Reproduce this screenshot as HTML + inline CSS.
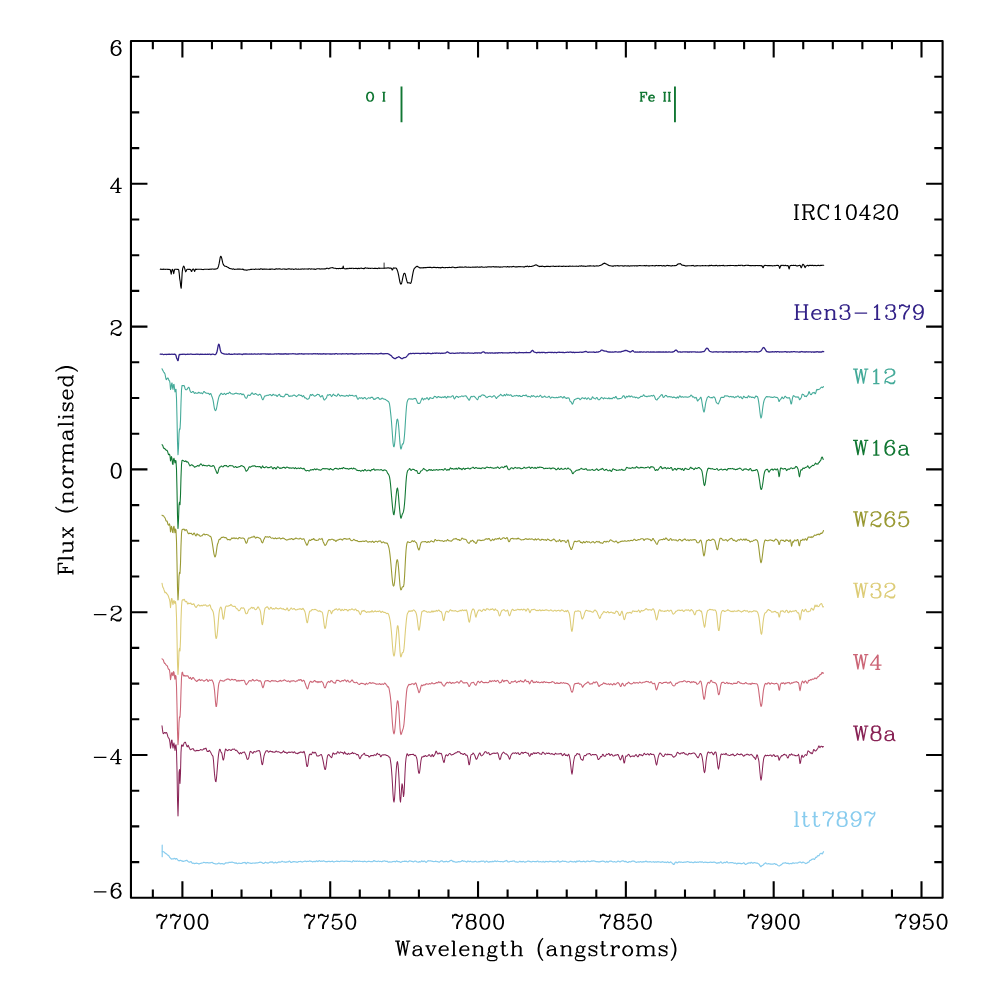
<!DOCTYPE html>
<html><head><meta charset="utf-8"><title>Spectra</title>
<style>html,body{margin:0;padding:0;background:#fff;font-family:"Liberation Sans",sans-serif}svg{display:block}</style></head>
<body>
<svg width="981" height="981" viewBox="0 0 981 981">
<rect width="981" height="981" fill="#fff"/>
<path d="M160.2 269.2L160.7 269.1L161.2 269.4L161.7 269.3L162.2 269.3L162.7 269.4L163.2 269.4L163.7 269.1L164.2 269.2L164.7 269.3L165.2 269.5L165.7 269.3L166.2 269.3L166.7 269.2L167.2 269.3L167.7 269.4L168.2 269.2L168.7 269.5L169.2 269.5L169.7 269.4L170.2 269.6L170.7 271.5L171.2 274.2L171.7 271.4L172.2 269.4L172.7 269.5L173.2 271.2L173.7 273.6L174.2 271.1L174.7 269.3L175.2 269.2L175.7 269.2L176.2 269.2L176.7 269.3L177.2 269.5L177.7 269.4L178.2 269.3L178.7 269.8L179.2 273.3L179.7 278.6L180.2 281.3L180.7 286.1L181.2 288.3L181.7 281.0L182.2 272.3L182.7 268.4L183.2 266.8L183.7 266.2L184.2 266.9L184.7 268.4L185.2 270.4L185.7 271.8L186.2 270.9L186.7 269.8L187.2 269.4L187.7 269.3L188.2 269.2L188.7 269.4L189.2 269.4L189.7 269.4L190.2 269.4L190.7 269.7L191.2 271.1L191.7 271.5L192.2 270.1L192.7 269.2L193.2 269.0L193.7 269.3L194.2 270.5L194.7 271.4L195.2 269.9L195.7 269.1L196.2 269.2L196.7 269.4L197.2 269.3L197.7 269.3L198.2 269.2L198.7 269.2L199.2 269.3L199.7 269.3L200.2 269.3L200.7 269.3L201.2 269.3L201.7 269.4L202.2 269.5L202.7 269.5L203.2 269.6L203.7 269.4L204.2 269.2L204.7 269.2L205.2 269.3L205.7 269.3L206.2 269.3L206.7 269.2L207.2 269.2L207.7 269.3L208.2 269.3L208.7 269.5L209.2 269.4L209.7 269.3L210.2 269.1L210.7 269.2L211.2 269.3L211.7 269.1L212.2 269.0L212.7 269.0L213.2 269.0L213.7 269.2L214.2 269.3L214.7 269.1L215.2 269.1L215.7 269.0L216.2 268.9L216.7 268.7L217.2 268.7L217.7 268.2L218.2 267.0L218.7 265.4L219.2 263.2L219.7 260.4L220.2 257.5L220.7 256.3L221.2 256.7L221.7 258.1L222.2 260.3L222.7 262.7L223.2 264.3L223.7 265.2L224.2 265.7L224.7 266.2L225.2 266.3L225.7 266.3L226.2 266.5L226.7 266.6L227.2 267.0L227.7 267.2L228.2 267.4L228.7 267.8L229.2 268.2L229.7 268.4L230.2 268.5L230.7 268.7L231.2 268.8L231.7 268.9L232.2 269.1L232.7 269.1L233.2 269.0L233.7 268.9L234.2 269.3L234.7 269.5L235.2 269.3L235.7 269.2L236.2 269.2L236.7 269.2L237.2 269.1L237.7 269.0L238.2 269.1L238.7 269.0L239.2 269.1L239.7 269.1L240.2 269.1L240.7 269.2L241.2 269.2L241.7 269.3L242.2 269.4L242.7 269.1L243.2 269.3L243.7 269.7L244.2 270.0L244.7 269.9L245.2 269.9L245.7 270.1L246.2 270.3L246.7 270.1L247.2 270.1L247.7 269.9L248.2 269.7L248.7 269.7L249.2 269.7L249.7 269.7L250.2 269.5L250.7 269.4L251.2 269.4L251.7 269.4L252.2 269.3L252.7 269.3L253.2 269.3L253.7 269.3L254.2 269.4L254.7 269.4L255.2 269.2L255.7 268.9L256.2 269.1L256.7 269.2L257.2 269.3L257.7 269.2L258.2 269.1L258.7 269.2L259.2 269.2L259.7 269.4L260.2 269.1L260.7 268.8L261.2 268.9L261.7 269.0L262.2 269.1L262.7 269.4L263.2 269.2L263.7 269.0L264.2 269.3L264.7 269.1L265.2 269.0L265.7 269.2L266.2 269.2L266.7 269.1L267.2 269.3L267.7 269.2L268.2 269.3L268.7 269.3L269.2 269.4L269.7 269.1L270.2 269.1L270.7 269.4L271.2 269.1L271.7 269.0L272.2 269.0L272.7 269.1L273.2 269.2L273.7 269.2L274.2 269.3L274.7 269.5L275.2 269.2L275.7 268.9L276.2 268.9L276.7 268.9L277.2 268.9L277.7 269.1L278.2 269.0L278.7 268.9L279.2 268.9L279.7 268.8L280.2 268.9L280.7 269.1L281.2 269.2L281.7 269.2L282.2 269.3L282.7 269.0L283.2 269.0L283.7 269.0L284.2 268.9L284.7 269.3L285.2 269.2L285.7 269.1L286.2 269.4L286.7 269.3L287.2 269.1L287.7 269.0L288.2 268.9L288.7 268.8L289.2 269.0L289.7 268.9L290.2 269.0L290.7 269.2L291.2 269.1L291.7 269.1L292.2 269.0L292.7 269.0L293.2 269.2L293.7 269.4L294.2 269.3L294.7 269.2L295.2 269.0L295.7 268.9L296.2 268.9L296.7 269.2L297.2 269.2L297.7 269.3L298.2 269.1L298.7 269.1L299.2 269.2L299.7 269.3L300.2 269.2L300.7 269.1L301.2 269.1L301.7 269.1L302.2 268.9L302.7 269.0L303.2 269.0L303.7 269.1L304.2 269.1L304.7 268.9L305.2 269.0L305.7 269.0L306.2 269.0L306.7 269.0L307.2 268.9L307.7 269.1L308.2 269.2L308.7 268.8L309.2 268.7L309.7 268.8L310.2 269.0L310.7 269.2L311.2 269.0L311.7 268.9L312.2 269.0L312.7 269.0L313.2 269.0L313.7 269.1L314.2 269.1L314.7 269.1L315.2 269.4L315.7 269.2L316.2 269.1L316.7 268.9L317.2 268.8L317.7 268.8L318.2 268.8L318.7 268.8L319.2 268.9L319.7 268.8L320.2 269.0L320.7 269.1L321.2 268.9L321.7 269.0L322.2 268.9L322.7 269.0L323.2 269.0L323.7 268.9L324.2 268.7L324.7 268.9L325.2 269.0L325.7 268.7L326.2 268.4L326.7 268.4L327.2 268.3L327.7 268.3L328.2 268.6L328.7 268.7L329.2 268.4L329.7 268.3L330.2 268.1L330.7 267.9L331.2 267.8L331.7 267.7L332.2 267.7L332.7 267.6L333.2 267.9L333.7 268.1L334.2 268.2L334.7 268.3L335.2 268.3L335.7 268.4L336.2 268.6L336.7 268.6L337.2 268.5L337.7 268.5L338.2 268.6L338.7 268.6L339.2 268.4L339.7 268.5L340.2 268.5L340.7 268.6L341.2 268.5L341.7 268.2L342.2 268.5L342.7 268.4L343.2 266.0L343.7 268.3L344.2 268.6L344.7 268.7L345.2 268.8L345.7 268.9L346.2 268.9L346.7 268.5L347.2 268.4L347.7 268.7L348.2 268.8L348.7 268.6L349.2 268.3L349.7 268.4L350.2 268.5L350.7 268.4L351.2 268.4L351.7 268.4L352.2 268.3L352.7 268.3L353.2 268.3L353.7 268.6L354.2 268.5L354.7 268.5L355.2 268.4L355.7 268.5L356.2 268.3L356.7 268.5L357.2 268.6L357.7 268.7L358.2 268.3L358.7 268.3L359.2 268.5L359.7 268.6L360.2 268.3L360.7 268.2L361.2 268.0L361.7 268.2L362.2 268.5L362.7 268.5L363.2 268.4L363.7 268.7L364.2 268.6L364.7 268.2L365.2 267.8L365.7 267.8L366.2 268.1L366.7 268.3L367.2 268.2L367.7 268.0L368.2 268.2L368.7 268.5L369.2 268.3L369.7 268.3L370.2 268.5L370.7 268.4L371.2 268.3L371.7 268.3L372.2 268.3L372.7 268.3L373.2 268.5L373.7 268.5L374.2 268.4L374.7 268.3L375.2 268.4L375.7 268.3L376.2 268.4L376.7 268.5L377.2 268.5L377.7 268.6L378.2 268.3L378.7 268.0L379.2 268.1L379.7 268.4L380.2 268.3L380.7 268.3L381.2 268.2L381.7 268.3L382.2 268.2L382.7 268.3L383.2 268.2L383.7 268.2L384.2 268.2L384.7 268.1L385.2 268.2L385.7 268.0L386.2 268.0L386.7 268.1L387.2 268.0L387.7 267.9L388.2 267.9L388.7 267.9L389.2 268.1L389.7 268.1L390.2 268.1L390.7 268.0L391.2 268.2L391.7 268.8L392.2 270.0L392.7 269.5L393.2 268.3L393.7 267.9L394.2 268.0L394.7 268.2L395.2 268.0L395.7 268.0L396.2 268.2L396.7 268.9L397.2 270.0L397.7 271.4L398.2 273.4L398.7 275.7L399.2 278.3L399.7 281.0L400.2 283.1L400.7 284.1L401.2 284.0L401.7 282.9L402.2 280.7L402.7 278.1L403.2 275.8L403.7 274.1L404.2 273.2L404.7 273.2L405.2 274.1L405.7 276.1L406.2 278.5L406.7 280.3L407.2 282.0L407.7 283.0L408.2 282.9L408.7 282.8L409.2 282.7L409.7 282.9L410.2 283.4L410.7 283.3L411.2 282.2L411.7 280.2L412.2 277.2L412.7 274.4L413.2 271.9L413.7 269.9L414.2 268.7L414.7 268.0L415.2 267.7L415.7 267.1L416.2 266.7L416.7 266.4L417.2 266.3L417.7 266.6L418.2 267.0L418.7 267.1L419.2 267.5L419.7 267.9L420.2 267.9L420.7 267.9L421.2 267.9L421.7 267.7L422.2 267.8L422.7 267.9L423.2 267.9L423.7 267.6L424.2 267.6L424.7 267.7L425.2 267.6L425.7 267.6L426.2 267.7L426.7 267.5L427.2 267.4L427.7 267.5L428.2 267.5L428.7 267.4L429.2 267.3L429.7 267.5L430.2 267.2L430.7 267.2L431.2 267.5L431.7 267.8L432.2 267.7L432.7 267.5L433.2 267.4L433.7 267.4L434.2 267.5L434.7 267.3L435.2 267.4L435.7 267.6L436.2 267.6L436.7 267.6L437.2 267.4L437.7 267.5L438.2 267.6L438.7 267.6L439.2 267.7L439.7 267.6L440.2 267.5L440.7 268.0L441.2 267.8L441.7 267.5L442.2 267.3L442.7 267.4L443.2 267.5L443.7 267.6L444.2 267.7L444.7 267.8L445.2 267.6L445.7 267.6L446.2 267.5L446.7 267.5L447.2 267.5L447.7 267.6L448.2 267.6L448.7 267.4L449.2 267.2L449.7 267.4L450.2 267.5L450.7 267.5L451.2 267.6L451.7 267.3L452.2 267.2L452.7 267.0L453.2 267.2L453.7 267.3L454.2 267.5L454.7 267.6L455.2 267.6L455.7 267.7L456.2 267.6L456.7 267.5L457.2 267.4L457.7 267.5L458.2 267.2L458.7 267.3L459.2 267.1L459.7 267.1L460.2 267.0L460.7 267.1L461.2 267.2L461.7 267.1L462.2 267.0L462.7 267.3L463.2 267.3L463.7 267.3L464.2 267.2L464.7 267.0L465.2 266.8L465.7 267.0L466.2 267.2L466.7 267.1L467.2 267.2L467.7 267.2L468.2 267.2L468.7 267.1L469.2 267.3L469.7 267.3L470.2 267.4L470.7 267.3L471.2 267.3L471.7 267.3L472.2 267.3L472.7 267.1L473.2 267.1L473.7 267.3L474.2 267.2L474.7 267.1L475.2 267.1L475.7 267.1L476.2 267.0L476.7 267.1L477.2 266.9L477.7 267.0L478.2 267.2L478.7 267.2L479.2 267.0L479.7 267.1L480.2 267.0L480.7 267.1L481.2 266.9L481.7 266.9L482.2 267.0L482.7 267.1L483.2 267.3L483.7 267.3L484.2 267.3L484.7 267.2L485.2 267.0L485.7 267.0L486.2 267.2L486.7 267.1L487.2 267.0L487.7 266.9L488.2 266.9L488.7 266.7L489.2 266.8L489.7 266.9L490.2 267.0L490.7 266.9L491.2 266.9L491.7 267.0L492.2 266.8L492.7 266.7L493.2 266.6L493.7 266.8L494.2 267.0L494.7 266.9L495.2 266.8L495.7 266.9L496.2 266.9L496.7 266.9L497.2 266.9L497.7 267.0L498.2 267.0L498.7 266.8L499.2 266.8L499.7 267.3L500.2 267.3L500.7 266.9L501.2 267.0L501.7 267.0L502.2 267.1L502.7 266.9L503.2 266.7L503.7 266.8L504.2 266.8L504.7 266.8L505.2 266.8L505.7 266.8L506.2 267.0L506.7 267.0L507.2 266.6L507.7 266.6L508.2 266.7L508.7 266.9L509.2 266.9L509.7 266.9L510.2 266.8L510.7 266.7L511.2 266.7L511.7 266.9L512.2 266.8L512.7 266.6L513.2 266.5L513.7 266.4L514.2 266.7L514.7 266.8L515.2 266.9L515.7 267.0L516.2 266.8L516.7 266.9L517.2 266.9L517.7 266.7L518.2 266.6L518.7 266.8L519.2 266.7L519.7 266.6L520.2 266.6L520.7 266.7L521.2 266.7L521.7 266.7L522.2 266.7L522.7 266.8L523.2 266.9L523.7 266.9L524.2 267.1L524.7 266.7L525.2 266.4L525.7 266.5L526.2 266.6L526.7 266.4L527.2 266.1L527.7 266.3L528.2 266.6L528.7 266.7L529.2 266.4L529.7 266.4L530.2 266.5L530.7 266.5L531.2 266.5L531.7 266.4L532.2 266.3L532.7 266.0L533.2 266.0L533.7 265.7L534.2 265.5L534.7 265.2L535.2 265.1L535.7 264.9L536.2 264.9L536.7 265.1L537.2 265.4L537.7 265.8L538.2 266.1L538.7 266.0L539.2 266.2L539.7 266.6L540.2 266.5L540.7 266.2L541.2 266.4L541.7 266.4L542.2 266.1L542.7 266.2L543.2 266.4L543.7 266.5L544.2 266.6L544.7 266.5L545.2 266.6L545.7 266.5L546.2 266.3L546.7 266.4L547.2 266.4L547.7 266.3L548.2 266.5L548.7 266.4L549.2 266.4L549.7 266.6L550.2 266.6L550.7 266.2L551.2 266.2L551.7 266.3L552.2 266.3L552.7 266.3L553.2 266.1L553.7 266.3L554.2 266.4L554.7 266.5L555.2 266.5L555.7 266.3L556.2 266.4L556.7 266.3L557.2 266.3L557.7 266.3L558.2 266.4L558.7 266.4L559.2 266.1L559.7 266.2L560.2 266.3L560.7 266.2L561.2 266.2L561.7 266.5L562.2 266.4L562.7 266.5L563.2 266.2L563.7 266.1L564.2 266.2L564.7 266.3L565.2 266.5L565.7 266.4L566.2 266.4L566.7 266.3L567.2 266.2L567.7 266.3L568.2 266.4L568.7 266.4L569.2 266.3L569.7 266.1L570.2 266.1L570.7 266.2L571.2 266.3L571.7 266.3L572.2 266.2L572.7 266.1L573.2 266.2L573.7 266.2L574.2 266.2L574.7 266.2L575.2 266.2L575.7 266.2L576.2 266.1L576.7 266.2L577.2 266.2L577.7 266.3L578.2 266.4L578.7 266.3L579.2 266.1L579.7 265.9L580.2 266.1L580.7 266.3L581.2 265.9L581.7 265.8L582.2 266.0L582.7 266.2L583.2 266.1L583.7 266.0L584.2 266.1L584.7 266.2L585.2 266.2L585.7 266.4L586.2 266.3L586.7 266.2L587.2 266.1L587.7 266.0L588.2 265.9L588.7 266.1L589.2 266.1L589.7 265.8L590.2 265.9L590.7 265.9L591.2 266.0L591.7 266.0L592.2 266.0L592.7 266.0L593.2 266.0L593.7 265.8L594.2 266.2L594.7 266.2L595.2 266.0L595.7 266.0L596.2 266.0L596.7 265.8L597.2 265.9L597.7 266.0L598.2 266.0L598.7 266.0L599.2 265.8L599.7 265.6L600.2 265.4L600.7 265.2L601.2 265.0L601.7 264.9L602.2 264.5L602.7 264.0L603.2 263.9L603.7 263.5L604.2 263.1L604.7 263.4L605.2 263.4L605.7 263.7L606.2 263.9L606.7 264.1L607.2 264.6L607.7 264.7L608.2 265.0L608.7 265.4L609.2 265.6L609.7 265.8L610.2 265.7L610.7 265.7L611.2 266.0L611.7 266.0L612.2 266.1L612.7 266.0L613.2 266.1L613.7 266.1L614.2 265.8L614.7 265.8L615.2 265.9L615.7 265.9L616.2 265.8L616.7 265.8L617.2 265.7L617.7 265.6L618.2 265.9L618.7 265.9L619.2 266.0L619.7 265.9L620.2 265.7L620.7 265.7L621.2 265.7L621.7 265.7L622.2 265.8L622.7 265.9L623.2 266.2L623.7 266.0L624.2 265.8L624.7 265.9L625.2 265.8L625.7 265.7L626.2 265.9L626.7 266.0L627.2 266.0L627.7 265.8L628.2 265.9L628.7 265.9L629.2 266.0L629.7 266.2L630.2 265.9L630.7 265.7L631.2 265.8L631.7 266.0L632.2 265.9L632.7 265.7L633.2 265.7L633.7 265.8L634.2 265.9L634.7 265.9L635.2 265.7L635.7 265.8L636.2 265.9L636.7 265.9L637.2 265.9L637.7 265.9L638.2 265.8L638.7 265.8L639.2 265.6L639.7 265.5L640.2 265.5L640.7 265.7L641.2 265.7L641.7 265.7L642.2 265.7L642.7 265.7L643.2 265.8L643.7 265.8L644.2 265.6L644.7 265.5L645.2 265.9L645.7 265.7L646.2 265.4L646.7 265.7L647.2 265.8L647.7 265.8L648.2 265.9L648.7 265.8L649.2 265.9L649.7 265.9L650.2 265.8L650.7 265.8L651.2 265.8L651.7 265.8L652.2 265.6L652.7 265.6L653.2 265.7L653.7 265.7L654.2 265.7L654.7 265.9L655.2 265.9L655.7 265.6L656.2 265.4L656.7 265.6L657.2 265.8L657.7 265.7L658.2 265.6L658.7 265.5L659.2 265.7L659.7 265.6L660.2 265.5L660.7 265.5L661.2 265.6L661.7 265.8L662.2 265.9L662.7 266.0L663.2 265.8L663.7 265.6L664.2 265.6L664.7 266.0L665.2 266.1L665.7 265.9L666.2 265.8L666.7 265.5L667.2 265.4L667.7 265.5L668.2 265.6L668.7 265.6L669.2 265.6L669.7 265.7L670.2 265.8L670.7 266.0L671.2 265.9L671.7 266.0L672.2 265.8L672.7 265.6L673.2 265.7L673.7 265.7L674.2 265.8L674.7 265.6L675.2 265.7L675.7 265.5L676.2 265.5L676.7 265.0L677.2 264.7L677.7 264.3L678.2 263.9L678.7 264.0L679.2 263.9L679.7 263.7L680.2 263.6L680.7 263.9L681.2 264.5L681.7 264.9L682.2 265.2L682.7 265.1L683.2 265.2L683.7 265.4L684.2 265.4L684.7 265.6L685.2 265.9L685.7 266.0L686.2 265.9L686.7 266.0L687.2 265.9L687.7 265.8L688.2 265.7L688.7 265.8L689.2 265.7L689.7 265.7L690.2 265.7L690.7 265.7L691.2 265.7L691.7 265.5L692.2 265.6L692.7 265.5L693.2 265.4L693.7 265.7L694.2 266.0L694.7 266.1L695.2 265.9L695.7 265.7L696.2 265.9L696.7 265.8L697.2 265.5L697.7 265.7L698.2 265.8L698.7 265.7L699.2 265.7L699.7 265.7L700.2 265.9L700.7 265.7L701.2 265.7L701.7 265.7L702.2 265.6L702.7 265.5L703.2 265.8L703.7 265.8L704.2 265.7L704.7 265.7L705.2 265.6L705.7 265.6L706.2 265.7L706.7 265.7L707.2 265.8L707.7 265.7L708.2 265.7L708.7 265.9L709.2 265.5L709.7 265.4L710.2 265.7L710.7 265.5L711.2 265.3L711.7 265.4L712.2 265.5L712.7 265.7L713.2 265.6L713.7 265.7L714.2 265.7L714.7 265.6L715.2 265.6L715.7 265.6L716.2 265.3L716.7 265.5L717.2 265.7L717.7 265.9L718.2 265.8L718.7 265.8L719.2 265.4L719.7 265.7L720.2 265.7L720.7 265.6L721.2 265.5L721.7 265.5L722.2 265.6L722.7 265.5L723.2 265.3L723.7 265.6L724.2 265.9L724.7 265.8L725.2 265.7L725.7 265.7L726.2 265.7L726.7 265.7L727.2 265.6L727.7 265.7L728.2 265.5L728.7 265.5L729.2 265.6L729.7 265.5L730.2 265.4L730.7 265.6L731.2 265.5L731.7 265.5L732.2 265.5L732.7 265.5L733.2 265.5L733.7 265.5L734.2 265.7L734.7 265.8L735.2 265.6L735.7 265.6L736.2 265.5L736.7 265.6L737.2 265.7L737.7 265.6L738.2 265.4L738.7 265.3L739.2 265.4L739.7 265.5L740.2 265.6L740.7 265.3L741.2 265.3L741.7 265.3L742.2 265.3L742.7 265.7L743.2 265.7L743.7 265.8L744.2 265.5L744.7 265.7L745.2 265.5L745.7 265.4L746.2 265.3L746.7 265.2L747.2 265.3L747.7 265.4L748.2 265.3L748.7 265.4L749.2 265.5L749.7 265.6L750.2 265.6L750.7 265.6L751.2 265.7L751.7 265.6L752.2 265.6L752.7 265.5L753.2 265.5L753.7 265.8L754.2 265.7L754.7 265.6L755.2 265.8L755.7 265.6L756.2 265.5L756.7 265.5L757.2 265.6L757.7 265.5L758.2 265.5L758.7 265.7L759.2 265.6L759.7 265.5L760.2 265.5L760.7 265.8L761.2 265.9L761.7 265.6L762.2 266.0L762.7 267.3L763.2 267.7L763.7 266.4L764.2 265.6L764.7 265.4L765.2 265.4L765.7 265.5L766.2 265.5L766.7 265.5L767.2 265.7L767.7 265.6L768.2 265.5L768.7 265.6L769.2 265.6L769.7 265.6L770.2 265.7L770.7 265.6L771.2 265.6L771.7 265.7L772.2 265.7L772.7 266.0L773.2 265.8L773.7 265.7L774.2 265.8L774.7 265.6L775.2 265.7L775.7 265.6L776.2 265.4L776.7 265.5L777.2 265.5L777.7 265.3L778.2 265.5L778.7 265.6L779.2 266.9L779.7 268.4L780.2 267.0L780.7 265.7L781.2 265.3L781.7 265.6L782.2 265.5L782.7 265.3L783.2 265.3L783.7 265.6L784.2 265.7L784.7 265.5L785.2 265.3L785.7 265.4L786.2 265.7L786.7 265.8L787.2 265.6L787.7 265.6L788.2 265.8L788.7 267.7L789.2 269.0L789.7 266.7L790.2 265.6L790.7 265.5L791.2 265.5L791.7 265.4L792.2 265.5L792.7 265.5L793.2 265.4L793.7 265.4L794.2 265.5L794.7 265.5L795.2 265.4L795.7 265.4L796.2 265.8L796.7 265.9L797.2 265.9L797.7 265.9L798.2 265.7L798.7 265.5L799.2 265.5L799.7 265.2L800.2 265.4L800.7 266.7L801.2 267.8L801.7 266.9L802.2 265.5L802.7 264.4L803.2 264.3L803.7 264.8L804.2 265.6L804.7 267.0L805.2 267.6L805.7 266.5L806.2 265.8L806.7 265.7L807.2 265.5L807.7 265.2L808.2 265.7L808.7 265.9L809.2 265.5L809.7 265.3L810.2 265.5L810.7 265.4L811.2 265.4L811.7 265.6L812.2 265.3L812.7 265.4L813.2 265.4L813.7 265.7L814.2 265.6L814.7 265.4L815.2 265.4L815.7 265.6L816.2 265.6L816.7 265.7L817.2 265.6L817.7 265.4L818.2 265.4L818.7 265.2L819.2 265.5L819.7 265.7L820.2 265.6L820.7 265.2L821.2 265.3L821.7 265.5L822.2 265.3L822.7 265.3L823.2 265.3L823.7 265.3" fill="none" stroke="#000000" stroke-width="1.12" stroke-linejoin="round" stroke-linecap="round"/>
<path d="M160.2 354.2L160.7 354.2L161.2 354.3L161.7 354.2L162.2 354.2L162.7 354.2L163.2 354.5L163.7 354.7L164.2 354.5L164.7 354.3L165.2 354.4L165.7 354.4L166.2 354.4L166.7 354.5L167.2 354.4L167.7 354.3L168.2 354.2L168.7 354.3L169.2 354.4L169.7 354.2L170.2 354.3L170.7 354.3L171.2 354.3L171.7 354.2L172.2 354.2L172.7 354.3L173.2 354.4L173.7 354.4L174.2 354.1L174.7 354.2L175.2 354.4L175.7 354.8L176.2 356.3L176.7 358.3L177.2 359.0L177.7 360.6L178.2 360.5L178.7 356.8L179.2 354.6L179.7 354.5L180.2 354.6L180.7 354.4L181.2 354.4L181.7 354.3L182.2 354.2L182.7 354.3L183.2 354.3L183.7 354.2L184.2 354.2L184.7 354.3L185.2 354.4L185.7 354.5L186.2 354.4L186.7 354.4L187.2 354.4L187.7 354.1L188.2 354.2L188.7 354.3L189.2 354.3L189.7 354.2L190.2 354.0L190.7 354.2L191.2 354.1L191.7 354.1L192.2 354.3L192.7 354.3L193.2 354.3L193.7 354.3L194.2 354.3L194.7 354.3L195.2 354.3L195.7 354.4L196.2 354.1L196.7 354.2L197.2 354.3L197.7 354.1L198.2 354.2L198.7 354.3L199.2 354.4L199.7 354.5L200.2 354.3L200.7 354.1L201.2 354.4L201.7 354.4L202.2 354.2L202.7 354.3L203.2 354.3L203.7 354.3L204.2 354.3L204.7 354.4L205.2 354.2L205.7 354.4L206.2 354.3L206.7 354.3L207.2 354.3L207.7 354.1L208.2 354.3L208.7 354.3L209.2 354.1L209.7 354.2L210.2 354.3L210.7 354.6L211.2 354.5L211.7 354.3L212.2 354.1L212.7 354.1L213.2 354.2L213.7 354.3L214.2 354.5L214.7 354.7L215.2 354.7L215.7 354.3L216.2 353.6L216.7 352.6L217.2 351.0L217.7 348.2L218.2 345.5L218.7 344.1L219.2 344.7L219.7 347.0L220.2 349.5L220.7 351.5L221.2 352.5L221.7 353.0L222.2 353.3L222.7 353.4L223.2 353.6L223.7 353.8L224.2 353.9L224.7 354.1L225.2 354.1L225.7 354.2L226.2 354.0L226.7 354.3L227.2 354.3L227.7 354.2L228.2 354.0L228.7 354.0L229.2 353.9L229.7 354.0L230.2 354.4L230.7 354.4L231.2 354.3L231.7 354.2L232.2 354.3L232.7 354.3L233.2 354.2L233.7 354.2L234.2 354.0L234.7 353.9L235.2 354.1L235.7 354.2L236.2 354.2L236.7 354.2L237.2 354.3L237.7 354.1L238.2 354.0L238.7 354.1L239.2 354.1L239.7 354.0L240.2 354.1L240.7 354.2L241.2 354.2L241.7 354.3L242.2 354.6L242.7 354.4L243.2 354.2L243.7 353.9L244.2 354.0L244.7 354.1L245.2 354.0L245.7 354.0L246.2 354.1L246.7 354.0L247.2 354.0L247.7 354.2L248.2 354.2L248.7 354.1L249.2 354.0L249.7 354.1L250.2 354.2L250.7 354.1L251.2 353.9L251.7 354.0L252.2 354.1L252.7 354.2L253.2 354.2L253.7 354.2L254.2 353.9L254.7 353.9L255.2 354.0L255.7 354.2L256.2 354.2L256.7 354.2L257.2 354.2L257.7 354.0L258.2 353.9L258.7 353.9L259.2 354.1L259.7 354.2L260.2 354.1L260.7 353.9L261.2 354.0L261.7 354.0L262.2 353.8L262.7 353.8L263.2 353.8L263.7 353.9L264.2 353.9L264.7 353.8L265.2 353.9L265.7 354.0L266.2 354.0L266.7 354.1L267.2 354.1L267.7 353.9L268.2 354.0L268.7 354.3L269.2 354.1L269.7 354.0L270.2 354.0L270.7 354.0L271.2 354.2L271.7 354.2L272.2 354.2L272.7 354.2L273.2 354.1L273.7 354.1L274.2 354.0L274.7 353.9L275.2 353.8L275.7 353.8L276.2 353.8L276.7 354.1L277.2 353.9L277.7 353.9L278.2 353.8L278.7 353.7L279.2 353.9L279.7 354.0L280.2 354.0L280.7 354.0L281.2 353.9L281.7 354.0L282.2 354.1L282.7 354.0L283.2 354.0L283.7 354.0L284.2 354.0L284.7 353.9L285.2 353.7L285.7 353.9L286.2 354.0L286.7 353.9L287.2 354.0L287.7 354.1L288.2 354.0L288.7 354.0L289.2 353.9L289.7 353.8L290.2 353.9L290.7 353.9L291.2 353.9L291.7 353.8L292.2 353.8L292.7 353.7L293.2 353.7L293.7 353.8L294.2 353.8L294.7 353.8L295.2 353.9L295.7 354.0L296.2 354.1L296.7 354.2L297.2 354.1L297.7 354.0L298.2 354.1L298.7 353.8L299.2 353.7L299.7 353.8L300.2 353.9L300.7 353.9L301.2 353.9L301.7 353.7L302.2 353.8L302.7 354.0L303.2 354.1L303.7 354.0L304.2 354.1L304.7 353.8L305.2 353.8L305.7 353.8L306.2 353.8L306.7 353.8L307.2 353.8L307.7 353.9L308.2 354.0L308.7 353.9L309.2 353.8L309.7 353.8L310.2 353.9L310.7 353.8L311.2 353.8L311.7 354.0L312.2 354.0L312.7 353.9L313.2 353.9L313.7 353.7L314.2 353.7L314.7 353.8L315.2 353.8L315.7 353.7L316.2 353.8L316.7 353.8L317.2 353.9L317.7 353.7L318.2 353.9L318.7 354.2L319.2 354.0L319.7 353.7L320.2 353.9L320.7 354.0L321.2 354.1L321.7 353.9L322.2 353.9L322.7 354.0L323.2 353.9L323.7 353.7L324.2 353.9L324.7 353.9L325.2 354.0L325.7 353.9L326.2 354.0L326.7 353.9L327.2 353.9L327.7 353.8L328.2 353.8L328.7 353.8L329.2 353.9L329.7 354.0L330.2 354.0L330.7 354.0L331.2 354.0L331.7 354.1L332.2 354.0L332.7 353.9L333.2 353.8L333.7 353.9L334.2 354.0L334.7 354.0L335.2 353.9L335.7 353.7L336.2 353.6L336.7 353.7L337.2 353.8L337.7 354.2L338.2 354.0L338.7 353.8L339.2 353.8L339.7 353.8L340.2 353.9L340.7 353.9L341.2 354.0L341.7 354.0L342.2 353.8L342.7 353.7L343.2 353.9L343.7 353.8L344.2 353.9L344.7 353.8L345.2 353.8L345.7 353.8L346.2 353.7L346.7 353.7L347.2 353.9L347.7 354.1L348.2 354.0L348.7 353.9L349.2 353.9L349.7 353.8L350.2 353.7L350.7 353.8L351.2 353.9L351.7 353.7L352.2 353.7L352.7 353.9L353.2 354.1L353.7 354.0L354.2 354.0L354.7 354.1L355.2 354.0L355.7 353.9L356.2 353.7L356.7 353.8L357.2 353.8L357.7 353.9L358.2 353.8L358.7 354.0L359.2 353.9L359.7 353.8L360.2 353.8L360.7 353.6L361.2 353.6L361.7 353.7L362.2 353.8L362.7 353.8L363.2 353.9L363.7 353.8L364.2 353.7L364.7 353.7L365.2 353.8L365.7 353.8L366.2 353.8L366.7 353.7L367.2 353.6L367.7 353.7L368.2 353.8L368.7 353.6L369.2 353.6L369.7 353.7L370.2 353.8L370.7 353.7L371.2 353.7L371.7 353.8L372.2 353.7L372.7 353.8L373.2 353.9L373.7 353.8L374.2 353.8L374.7 353.9L375.2 353.8L375.7 353.7L376.2 353.6L376.7 353.7L377.2 354.0L377.7 353.8L378.2 353.8L378.7 353.8L379.2 353.6L379.7 353.7L380.2 353.5L380.7 353.4L381.2 353.5L381.7 353.5L382.2 353.6L382.7 353.8L383.2 354.0L383.7 353.7L384.2 353.7L384.7 353.8L385.2 353.7L385.7 353.6L386.2 353.6L386.7 353.6L387.2 353.7L387.7 353.7L388.2 353.8L388.7 354.0L389.2 354.4L389.7 354.6L390.2 355.1L390.7 355.3L391.2 355.6L391.7 356.2L392.2 356.9L392.7 357.5L393.2 357.7L393.7 358.1L394.2 358.4L394.7 358.5L395.2 358.6L395.7 358.5L396.2 358.0L396.7 357.6L397.2 357.5L397.7 357.3L398.2 357.0L398.7 356.7L399.2 356.9L399.7 357.3L400.2 357.5L400.7 358.0L401.2 358.4L401.7 358.6L402.2 358.6L402.7 358.5L403.2 358.0L403.7 357.7L404.2 357.6L404.7 357.6L405.2 357.5L405.7 357.3L406.2 357.0L406.7 356.4L407.2 355.9L407.7 355.3L408.2 354.6L408.7 354.0L409.2 353.9L409.7 353.7L410.2 353.5L410.7 353.5L411.2 353.5L411.7 353.7L412.2 353.5L412.7 353.3L413.2 353.4L413.7 353.4L414.2 353.6L414.7 353.6L415.2 353.3L415.7 353.4L416.2 353.3L416.7 353.4L417.2 353.4L417.7 353.3L418.2 353.4L418.7 353.4L419.2 353.4L419.7 353.6L420.2 353.7L420.7 353.5L421.2 353.5L421.7 353.3L422.2 353.4L422.7 353.4L423.2 353.3L423.7 353.2L424.2 353.3L424.7 353.3L425.2 353.3L425.7 353.5L426.2 353.6L426.7 353.4L427.2 353.3L427.7 353.1L428.2 353.1L428.7 353.4L429.2 353.3L429.7 353.3L430.2 353.5L430.7 353.6L431.2 353.6L431.7 353.7L432.2 353.4L432.7 353.2L433.2 353.3L433.7 353.3L434.2 353.2L434.7 353.2L435.2 353.2L435.7 353.4L436.2 353.2L436.7 353.0L437.2 353.1L437.7 353.1L438.2 353.2L438.7 353.3L439.2 353.2L439.7 353.2L440.2 353.3L440.7 353.5L441.2 353.4L441.7 353.2L442.2 353.1L442.7 353.3L443.2 353.3L443.7 353.2L444.2 353.2L444.7 353.2L445.2 353.2L445.7 353.0L446.2 352.6L446.7 352.2L447.2 351.9L447.7 352.0L448.2 352.3L448.7 352.6L449.2 353.0L449.7 353.2L450.2 353.4L450.7 353.3L451.2 353.3L451.7 353.2L452.2 353.1L452.7 353.1L453.2 353.2L453.7 353.3L454.2 353.3L454.7 353.4L455.2 353.3L455.7 353.2L456.2 353.2L456.7 353.2L457.2 353.1L457.7 353.0L458.2 353.2L458.7 353.2L459.2 353.1L459.7 352.9L460.2 352.8L460.7 352.8L461.2 353.0L461.7 353.1L462.2 353.1L462.7 353.0L463.2 352.9L463.7 353.0L464.2 353.1L464.7 353.2L465.2 353.1L465.7 353.1L466.2 353.1L466.7 353.1L467.2 353.1L467.7 353.0L468.2 352.8L468.7 352.9L469.2 353.1L469.7 353.1L470.2 353.2L470.7 353.1L471.2 353.1L471.7 353.2L472.2 353.2L472.7 353.2L473.2 353.3L473.7 353.3L474.2 353.2L474.7 352.9L475.2 352.9L475.7 353.0L476.2 352.9L476.7 352.9L477.2 353.1L477.7 353.0L478.2 352.9L478.7 352.8L479.2 352.9L479.7 353.0L480.2 353.0L480.7 353.1L481.2 353.1L481.7 352.6L482.2 352.2L482.7 352.1L483.2 351.9L483.7 351.8L484.2 352.1L484.7 352.6L485.2 352.9L485.7 353.1L486.2 352.9L486.7 352.9L487.2 352.9L487.7 353.0L488.2 353.1L488.7 353.1L489.2 352.9L489.7 352.9L490.2 353.0L490.7 353.1L491.2 353.0L491.7 352.8L492.2 352.9L492.7 353.0L493.2 353.1L493.7 353.1L494.2 353.1L494.7 353.0L495.2 352.9L495.7 353.0L496.2 352.9L496.7 352.9L497.2 353.0L497.7 353.0L498.2 353.0L498.7 352.7L499.2 352.7L499.7 352.8L500.2 352.8L500.7 352.9L501.2 352.7L501.7 352.6L502.2 352.7L502.7 353.0L503.2 352.9L503.7 352.8L504.2 352.8L504.7 352.8L505.2 352.9L505.7 352.9L506.2 352.9L506.7 352.9L507.2 352.8L507.7 353.0L508.2 353.0L508.7 352.8L509.2 352.8L509.7 352.6L510.2 352.5L510.7 352.7L511.2 352.8L511.7 352.9L512.2 352.7L512.7 352.6L513.2 352.6L513.7 352.6L514.2 352.5L514.7 352.4L515.2 352.6L515.7 352.8L516.2 353.0L516.7 352.9L517.2 352.8L517.7 352.8L518.2 352.8L518.7 352.6L519.2 352.4L519.7 352.5L520.2 352.6L520.7 352.6L521.2 352.6L521.7 352.6L522.2 352.6L522.7 352.7L523.2 352.8L523.7 352.7L524.2 352.7L524.7 352.6L525.2 352.7L525.7 352.6L526.2 352.4L526.7 352.5L527.2 352.6L527.7 352.6L528.2 352.7L528.7 352.7L529.2 352.7L529.7 352.6L530.2 352.5L530.7 352.2L531.2 351.5L531.7 350.9L532.2 350.4L532.7 350.5L533.2 351.0L533.7 351.7L534.2 352.1L534.7 352.2L535.2 352.3L535.7 352.5L536.2 352.7L536.7 352.9L537.2 352.7L537.7 352.4L538.2 352.3L538.7 352.5L539.2 352.5L539.7 352.4L540.2 352.6L540.7 352.6L541.2 352.4L541.7 352.3L542.2 352.6L542.7 352.5L543.2 352.4L543.7 352.4L544.2 352.4L544.7 352.6L545.2 352.6L545.7 352.8L546.2 352.7L546.7 352.7L547.2 352.7L547.7 352.5L548.2 352.4L548.7 352.4L549.2 352.4L549.7 352.3L550.2 352.3L550.7 352.4L551.2 352.6L551.7 352.4L552.2 352.3L552.7 352.4L553.2 352.6L553.7 352.6L554.2 352.5L554.7 352.4L555.2 352.3L555.7 352.5L556.2 352.8L556.7 352.7L557.2 352.4L557.7 352.3L558.2 352.3L558.7 352.2L559.2 352.1L559.7 352.4L560.2 352.4L560.7 352.4L561.2 352.4L561.7 352.3L562.2 352.5L562.7 352.4L563.2 352.4L563.7 352.5L564.2 352.6L564.7 352.7L565.2 352.5L565.7 352.3L566.2 352.3L566.7 352.3L567.2 352.2L567.7 352.2L568.2 352.3L568.7 352.4L569.2 352.2L569.7 352.1L570.2 352.2L570.7 352.0L571.2 352.1L571.7 352.3L572.2 352.4L572.7 352.5L573.2 352.2L573.7 352.4L574.2 352.5L574.7 352.6L575.2 352.4L575.7 352.3L576.2 352.3L576.7 352.3L577.2 352.3L577.7 352.3L578.2 352.4L578.7 352.3L579.2 352.3L579.7 352.2L580.2 352.1L580.7 352.2L581.2 352.2L581.7 352.4L582.2 352.3L582.7 352.1L583.2 352.1L583.7 352.0L584.2 351.8L584.7 351.6L585.2 351.6L585.7 351.4L586.2 351.5L586.7 351.7L587.2 352.0L587.7 352.3L588.2 352.4L588.7 352.2L589.2 352.0L589.7 352.2L590.2 352.2L590.7 352.2L591.2 352.2L591.7 352.1L592.2 352.1L592.7 352.2L593.2 352.1L593.7 352.0L594.2 352.1L594.7 352.4L595.2 352.4L595.7 352.3L596.2 352.1L596.7 352.0L597.2 352.1L597.7 352.1L598.2 352.0L598.7 351.9L599.2 351.7L599.7 351.5L600.2 351.2L600.7 350.8L601.2 350.1L601.7 350.1L602.2 350.2L602.7 350.3L603.2 350.7L603.7 350.9L604.2 350.9L604.7 351.1L605.2 351.1L605.7 351.2L606.2 351.2L606.7 351.4L607.2 351.7L607.7 351.9L608.2 351.9L608.7 352.0L609.2 352.1L609.7 352.0L610.2 352.0L610.7 352.1L611.2 352.1L611.7 352.1L612.2 352.0L612.7 352.1L613.2 352.1L613.7 352.1L614.2 352.0L614.7 351.8L615.2 351.7L615.7 351.8L616.2 351.8L616.7 351.8L617.2 352.0L617.7 352.2L618.2 352.1L618.7 351.9L619.2 351.8L619.7 352.0L620.2 352.0L620.7 351.9L621.2 351.8L621.7 351.5L622.2 351.4L622.7 351.3L623.2 351.1L623.7 351.0L624.2 350.8L624.7 350.6L625.2 350.4L625.7 350.5L626.2 350.6L626.7 350.5L627.2 350.7L627.7 351.0L628.2 351.4L628.7 351.4L629.2 351.6L629.7 351.8L630.2 352.1L630.7 351.8L631.2 351.6L631.7 351.2L632.2 350.9L632.7 350.6L633.2 350.9L633.7 351.4L634.2 351.8L634.7 352.1L635.2 352.2L635.7 351.9L636.2 352.1L636.7 352.1L637.2 352.0L637.7 352.1L638.2 352.1L638.7 352.1L639.2 352.0L639.7 352.0L640.2 352.0L640.7 352.0L641.2 351.9L641.7 351.9L642.2 352.1L642.7 352.1L643.2 352.1L643.7 351.9L644.2 351.8L644.7 352.0L645.2 352.2L645.7 352.1L646.2 352.1L646.7 352.0L647.2 351.9L647.7 351.8L648.2 351.9L648.7 352.0L649.2 352.2L649.7 352.2L650.2 352.0L650.7 351.9L651.2 352.0L651.7 352.1L652.2 352.1L652.7 352.0L653.2 352.1L653.7 351.9L654.2 351.9L654.7 352.2L655.2 352.1L655.7 352.1L656.2 352.1L656.7 352.0L657.2 352.0L657.7 352.1L658.2 352.0L658.7 352.0L659.2 351.9L659.7 352.0L660.2 351.9L660.7 352.1L661.2 352.0L661.7 352.1L662.2 352.1L662.7 352.0L663.2 351.9L663.7 352.0L664.2 352.1L664.7 352.1L665.2 352.0L665.7 351.9L666.2 352.0L666.7 352.0L667.2 352.1L667.7 352.2L668.2 352.2L668.7 351.8L669.2 351.8L669.7 352.0L670.2 352.1L670.7 352.1L671.2 352.1L671.7 352.1L672.2 352.0L672.7 352.0L673.2 351.9L673.7 351.7L674.2 351.5L674.7 350.9L675.2 350.3L675.7 350.1L676.2 350.1L676.7 350.4L677.2 351.0L677.7 351.6L678.2 352.1L678.7 351.9L679.2 351.8L679.7 351.9L680.2 352.0L680.7 352.0L681.2 352.1L681.7 352.2L682.2 352.1L682.7 351.9L683.2 351.9L683.7 351.8L684.2 351.8L684.7 351.9L685.2 352.0L685.7 351.8L686.2 351.8L686.7 351.9L687.2 352.0L687.7 352.0L688.2 352.0L688.7 352.1L689.2 352.0L689.7 352.0L690.2 351.9L690.7 351.8L691.2 352.0L691.7 352.0L692.2 351.9L692.7 351.9L693.2 351.9L693.7 351.9L694.2 351.9L694.7 351.9L695.2 351.8L695.7 352.1L696.2 352.1L696.7 352.1L697.2 352.0L697.7 352.1L698.2 352.1L698.7 352.2L699.2 352.2L699.7 352.1L700.2 352.0L700.7 352.1L701.2 352.1L701.7 351.8L702.2 351.8L702.7 351.7L703.2 351.7L703.7 351.7L704.2 351.4L704.7 350.8L705.2 350.2L705.7 349.3L706.2 348.6L706.7 348.2L707.2 348.2L707.7 348.5L708.2 349.1L708.7 350.0L709.2 350.8L709.7 351.2L710.2 351.5L710.7 351.7L711.2 351.8L711.7 351.8L712.2 352.0L712.7 352.2L713.2 352.1L713.7 351.9L714.2 351.9L714.7 351.8L715.2 351.9L715.7 351.9L716.2 351.7L716.7 351.8L717.2 351.8L717.7 352.1L718.2 352.1L718.7 351.9L719.2 351.9L719.7 351.9L720.2 351.9L720.7 351.9L721.2 351.9L721.7 351.8L722.2 352.0L722.7 352.1L723.2 352.0L723.7 352.0L724.2 351.9L724.7 351.8L725.2 351.9L725.7 351.8L726.2 351.7L726.7 352.0L727.2 351.9L727.7 351.9L728.2 352.0L728.7 352.0L729.2 352.0L729.7 352.0L730.2 351.9L730.7 352.0L731.2 351.9L731.7 351.9L732.2 351.9L732.7 351.9L733.2 351.9L733.7 352.1L734.2 352.0L734.7 351.8L735.2 351.7L735.7 351.9L736.2 352.0L736.7 351.9L737.2 352.0L737.7 351.9L738.2 351.8L738.7 351.8L739.2 351.9L739.7 352.0L740.2 352.0L740.7 351.9L741.2 351.7L741.7 351.8L742.2 351.7L742.7 351.7L743.2 351.8L743.7 351.8L744.2 351.9L744.7 351.9L745.2 352.0L745.7 351.9L746.2 352.0L746.7 352.0L747.2 352.0L747.7 351.9L748.2 351.8L748.7 351.9L749.2 351.7L749.7 351.7L750.2 351.6L750.7 351.7L751.2 351.8L751.7 351.8L752.2 351.8L752.7 351.8L753.2 351.8L753.7 351.8L754.2 351.9L754.7 351.7L755.2 351.8L755.7 351.8L756.2 351.7L756.7 351.9L757.2 352.1L757.7 352.0L758.2 351.8L758.7 351.9L759.2 351.8L759.7 351.5L760.2 351.3L760.7 351.1L761.2 350.5L761.7 349.8L762.2 349.0L762.7 348.2L763.2 347.7L763.7 347.5L764.2 347.8L764.7 348.5L765.2 349.3L765.7 350.1L766.2 351.0L766.7 351.6L767.2 351.7L767.7 351.9L768.2 351.9L768.7 352.0L769.2 352.0L769.7 352.1L770.2 352.1L770.7 351.9L771.2 351.8L771.7 352.0L772.2 351.9L772.7 351.7L773.2 351.8L773.7 351.9L774.2 352.0L774.7 351.8L775.2 351.7L775.7 351.6L776.2 351.9L776.7 352.0L777.2 351.7L777.7 351.7L778.2 351.7L778.7 351.8L779.2 352.0L779.7 352.0L780.2 351.9L780.7 351.8L781.2 351.8L781.7 352.0L782.2 352.0L782.7 351.8L783.2 351.9L783.7 351.8L784.2 351.8L784.7 351.7L785.2 351.7L785.7 351.7L786.2 352.0L786.7 352.0L787.2 352.0L787.7 352.0L788.2 351.8L788.7 351.8L789.2 352.0L789.7 352.1L790.2 352.0L790.7 351.8L791.2 351.7L791.7 351.9L792.2 351.9L792.7 351.8L793.2 351.7L793.7 351.7L794.2 351.7L794.7 351.7L795.2 351.8L795.7 351.8L796.2 351.9L796.7 351.9L797.2 351.9L797.7 351.8L798.2 352.0L798.7 352.2L799.2 352.0L799.7 352.0L800.2 352.0L800.7 351.9L801.2 351.7L801.7 351.5L802.2 351.7L802.7 351.9L803.2 351.9L803.7 351.9L804.2 352.1L804.7 351.8L805.2 352.0L805.7 352.0L806.2 351.7L806.7 351.8L807.2 352.0L807.7 351.8L808.2 351.8L808.7 352.0L809.2 351.9L809.7 351.9L810.2 351.9L810.7 351.9L811.2 352.0L811.7 352.3L812.2 352.0L812.7 351.8L813.2 351.9L813.7 352.1L814.2 352.4L814.7 351.9L815.2 351.9L815.7 352.0L816.2 352.1L816.7 351.6L817.2 351.6L817.7 351.8L818.2 352.0L818.7 352.0L819.2 352.0L819.7 352.0L820.2 352.1L820.7 352.0L821.2 351.9L821.7 352.1L822.2 351.7L822.7 351.4L823.2 351.6L823.7 351.7" fill="none" stroke="#332288" stroke-width="1.30" stroke-linejoin="round" stroke-linecap="round"/>
<path d="M162.0 368.7L162.5 369.9L163.0 370.6L163.5 371.8L164.0 372.5L164.5 373.0L165.0 374.0L165.5 376.7L166.0 379.1L166.5 379.7L167.0 378.7L167.5 378.1L168.0 378.1L168.5 379.1L169.0 380.5L169.5 380.7L170.0 383.2L170.5 389.5L171.0 388.3L171.5 384.0L172.0 382.9L172.5 387.3L173.0 389.4L173.5 384.7L174.0 384.4L174.5 388.2L175.0 392.0L175.5 389.6L176.0 389.3L176.5 398.5L177.0 418.3L177.5 442.0L178.0 454.7L178.5 447.8L179.0 433.4L179.5 428.7L180.0 429.2L180.5 420.6L181.0 403.0L181.5 389.9L182.0 385.6L182.5 385.5L183.0 385.8L183.5 385.6L184.0 385.4L184.5 386.4L185.0 388.5L185.5 389.5L186.0 389.8L186.5 389.8L187.0 389.4L187.5 388.6L188.0 387.9L188.5 387.4L189.0 387.4L189.5 388.7L190.0 390.8L190.5 391.9L191.0 392.3L191.5 392.5L192.0 392.1L192.5 391.6L193.0 391.5L193.5 391.7L194.0 392.9L194.5 393.4L195.0 392.9L195.5 392.6L196.0 393.2L196.5 393.3L197.0 393.2L197.5 393.1L198.0 393.1L198.5 392.3L199.0 392.3L199.5 392.8L200.0 393.1L200.5 393.0L201.0 393.2L201.5 392.8L202.0 393.3L202.5 393.8L203.0 393.0L203.5 391.9L204.0 391.5L204.5 391.8L205.0 392.5L205.5 392.9L206.0 392.9L206.5 393.2L207.0 393.3L207.5 393.3L208.0 393.4L208.5 393.3L209.0 393.8L209.5 394.6L210.0 394.2L210.5 393.5L211.0 394.0L211.5 395.4L212.0 396.7L212.5 398.2L213.0 399.8L213.5 402.6L214.0 406.1L214.5 408.8L215.0 410.1L215.5 410.7L216.0 410.0L216.5 408.5L217.0 406.0L217.5 403.2L218.0 400.7L218.5 398.3L219.0 396.7L219.5 395.5L220.0 395.0L220.5 394.1L221.0 393.4L221.5 393.4L222.0 394.0L222.5 394.4L223.0 394.5L223.5 394.1L224.0 393.5L224.5 393.4L225.0 394.0L225.5 394.6L226.0 394.4L226.5 393.7L227.0 393.4L227.5 393.4L228.0 393.6L228.5 393.5L229.0 392.9L229.5 392.1L230.0 392.4L230.5 393.0L231.0 393.7L231.5 393.7L232.0 393.8L232.5 394.0L233.0 394.2L233.5 394.0L234.0 394.0L234.5 393.6L235.0 393.6L235.5 393.4L236.0 393.0L236.5 393.3L237.0 393.7L237.5 393.6L238.0 393.7L238.5 393.7L239.0 394.0L239.5 394.1L240.0 393.8L240.5 393.5L241.0 393.7L241.5 394.2L242.0 394.8L242.5 394.3L243.0 393.9L243.5 394.3L244.0 394.8L244.5 395.9L245.0 397.1L245.5 397.8L246.0 398.2L246.5 398.3L247.0 397.5L247.5 396.1L248.0 395.1L248.5 395.1L249.0 395.3L249.5 395.4L250.0 395.5L250.5 394.9L251.0 394.1L251.5 393.4L252.0 392.8L252.5 393.1L253.0 394.0L253.5 394.3L254.0 394.4L254.5 394.2L255.0 393.7L255.5 393.5L256.0 393.8L256.5 394.3L257.0 394.6L257.5 394.9L258.0 395.3L258.5 395.2L259.0 394.5L259.5 394.2L260.0 394.3L260.5 394.8L261.0 395.6L261.5 397.1L262.0 398.5L262.5 399.6L263.0 399.7L263.5 398.7L264.0 397.5L264.5 396.4L265.0 395.9L265.5 396.0L266.0 395.9L266.5 395.6L267.0 395.3L267.5 395.3L268.0 395.4L268.5 395.3L269.0 394.9L269.5 394.7L270.0 394.6L270.5 394.6L271.0 395.1L271.5 395.7L272.0 395.7L272.5 395.2L273.0 394.3L273.5 394.3L274.0 394.9L274.5 395.1L275.0 395.2L275.5 395.1L276.0 395.1L276.5 395.7L277.0 396.5L277.5 396.1L278.0 395.3L278.5 394.9L279.0 394.5L279.5 394.3L280.0 395.4L280.5 396.2L281.0 396.4L281.5 396.2L282.0 396.5L282.5 396.8L283.0 396.9L283.5 396.7L284.0 396.6L284.5 395.9L285.0 395.3L285.5 394.3L286.0 394.1L286.5 394.5L287.0 394.4L287.5 394.4L288.0 394.7L288.5 395.5L289.0 396.5L289.5 396.4L290.0 396.0L290.5 396.2L291.0 395.9L291.5 396.1L292.0 396.3L292.5 395.9L293.0 395.4L293.5 395.3L294.0 395.1L294.5 395.1L295.0 395.5L295.5 395.9L296.0 396.3L296.5 396.6L297.0 396.1L297.5 395.8L298.0 395.5L298.5 394.7L299.0 394.6L299.5 395.0L300.0 395.2L300.5 395.5L301.0 395.4L301.5 395.3L302.0 396.4L302.5 396.7L303.0 396.1L303.5 395.6L304.0 396.3L304.5 397.6L305.0 398.0L305.5 397.7L306.0 398.1L306.5 398.6L307.0 399.1L307.5 399.2L308.0 399.1L308.5 398.8L309.0 398.5L309.5 397.2L310.0 395.6L310.5 394.6L311.0 394.8L311.5 395.4L312.0 394.8L312.5 394.3L313.0 394.8L313.5 395.4L314.0 395.8L314.5 396.2L315.0 396.1L315.5 395.8L316.0 395.6L316.5 395.3L317.0 394.5L317.5 394.3L318.0 394.5L318.5 394.6L319.0 394.5L319.5 395.3L320.0 396.4L320.5 397.0L321.0 396.8L321.5 396.3L322.0 395.5L322.5 395.7L323.0 397.1L323.5 398.8L324.0 399.8L324.5 400.0L325.0 399.6L325.5 398.7L326.0 398.4L326.5 397.9L327.0 396.1L327.5 394.9L328.0 394.9L328.5 395.3L329.0 395.1L329.5 394.5L330.0 394.5L330.5 394.7L331.0 395.7L331.5 396.6L332.0 396.2L332.5 395.2L333.0 394.6L333.5 394.1L334.0 394.8L334.5 395.4L335.0 395.3L335.5 395.6L336.0 396.0L336.5 396.2L337.0 395.9L337.5 395.1L338.0 394.0L338.5 394.1L339.0 394.8L339.5 395.5L340.0 395.9L340.5 396.1L341.0 395.5L341.5 395.4L342.0 395.7L342.5 395.6L343.0 395.8L343.5 395.9L344.0 396.0L344.5 396.1L345.0 396.1L345.5 396.1L346.0 395.9L346.5 395.4L347.0 395.5L347.5 395.8L348.0 396.1L348.5 396.2L349.0 395.5L349.5 395.0L350.0 395.3L350.5 395.6L351.0 395.5L351.5 395.5L352.0 395.3L352.5 395.4L353.0 395.8L353.5 396.0L354.0 396.0L354.5 396.0L355.0 396.1L355.5 395.7L356.0 395.3L356.5 396.2L357.0 397.8L357.5 398.8L358.0 399.3L358.5 398.8L359.0 398.0L359.5 397.7L360.0 397.8L360.5 398.3L361.0 398.2L361.5 397.7L362.0 397.8L362.5 398.5L363.0 398.9L363.5 398.6L364.0 397.7L364.5 397.5L365.0 397.6L365.5 398.1L366.0 398.8L366.5 399.2L367.0 398.9L367.5 398.6L368.0 398.1L368.5 397.8L369.0 397.7L369.5 398.1L370.0 398.4L370.5 398.0L371.0 397.3L371.5 397.4L372.0 397.2L372.5 397.3L373.0 398.1L373.5 399.1L374.0 399.5L374.5 399.0L375.0 399.2L375.5 399.0L376.0 398.2L376.5 398.0L377.0 398.1L377.5 397.6L378.0 397.4L378.5 397.6L379.0 398.7L379.5 399.3L380.0 399.1L380.5 399.1L381.0 399.1L381.5 398.6L382.0 398.1L382.5 398.2L383.0 398.7L383.5 398.9L384.0 399.0L384.5 399.3L385.0 399.2L385.5 399.4L386.0 400.0L386.5 400.2L387.0 400.5L387.5 401.1L388.0 401.3L388.5 401.5L389.0 402.4L389.5 404.0L390.0 407.4L390.5 411.9L391.0 416.5L391.5 422.0L392.0 428.8L392.5 435.8L393.0 442.6L393.5 446.3L394.0 446.8L394.5 444.8L395.0 440.3L395.5 434.1L396.0 427.8L396.5 422.6L397.0 419.7L397.5 419.1L398.0 420.7L398.5 424.6L399.0 430.5L399.5 437.2L400.0 443.4L400.5 447.7L401.0 449.1L401.5 447.9L402.0 445.4L402.5 443.9L403.0 444.1L403.5 443.1L404.0 440.1L404.5 435.2L405.0 428.4L405.5 420.2L406.0 412.8L406.5 406.5L407.0 402.5L407.5 400.8L408.0 399.8L408.5 398.9L409.0 398.7L409.5 398.7L410.0 399.1L410.5 399.0L411.0 398.8L411.5 399.0L412.0 399.3L412.5 399.3L413.0 398.9L413.5 398.8L414.0 398.9L414.5 398.5L415.0 398.4L415.5 398.5L416.0 399.0L416.5 400.2L417.0 401.4L417.5 402.7L418.0 403.5L418.5 403.4L419.0 403.4L419.5 403.4L420.0 403.1L420.5 401.9L421.0 400.6L421.5 399.4L422.0 398.3L422.5 398.1L423.0 399.2L423.5 400.0L424.0 399.3L424.5 398.6L425.0 398.9L425.5 399.1L426.0 398.8L426.5 398.1L427.0 397.6L427.5 398.1L428.0 398.8L428.5 399.8L429.0 399.5L429.5 398.4L430.0 397.6L430.5 397.7L431.0 398.0L431.5 398.2L432.0 398.2L432.5 398.5L433.0 398.4L433.5 397.8L434.0 396.9L434.5 396.3L435.0 396.5L435.5 396.5L436.0 396.9L436.5 397.7L437.0 397.8L437.5 397.3L438.0 396.5L438.5 396.5L439.0 397.0L439.5 397.2L440.0 396.9L440.5 397.2L441.0 397.5L441.5 397.6L442.0 397.0L442.5 397.1L443.0 397.0L443.5 397.4L444.0 397.5L444.5 396.7L445.0 396.3L445.5 397.0L446.0 397.7L446.5 398.0L447.0 397.5L447.5 396.5L448.0 396.4L448.5 397.0L449.0 397.1L449.5 396.9L450.0 396.9L450.5 397.1L451.0 397.0L451.5 396.6L452.0 396.0L452.5 395.9L453.0 395.8L453.5 396.8L454.0 398.4L454.5 398.9L455.0 398.2L455.5 397.4L456.0 396.5L456.5 396.4L457.0 396.4L457.5 396.6L458.0 397.3L458.5 397.5L459.0 396.8L459.5 396.7L460.0 396.8L460.5 396.7L461.0 396.4L461.5 396.1L462.0 395.8L462.5 396.3L463.0 396.7L463.5 396.4L464.0 396.0L464.5 396.0L465.0 396.0L465.5 395.9L466.0 395.8L466.5 396.3L467.0 397.4L467.5 398.2L468.0 398.7L468.5 399.5L469.0 400.3L469.5 400.1L470.0 398.8L470.5 397.3L471.0 396.7L471.5 396.3L472.0 396.8L472.5 396.8L473.0 396.3L473.5 396.2L474.0 396.2L474.5 396.5L475.0 397.2L475.5 397.5L476.0 398.2L476.5 398.9L477.0 399.3L477.5 399.8L478.0 398.9L478.5 397.5L479.0 396.4L479.5 396.3L480.0 396.7L480.5 396.8L481.0 395.7L481.5 395.3L482.0 395.1L482.5 394.9L483.0 394.7L483.5 395.2L484.0 395.4L484.5 395.4L485.0 395.8L485.5 396.7L486.0 396.9L486.5 397.2L487.0 397.7L487.5 397.3L488.0 396.8L488.5 396.5L489.0 396.5L489.5 396.2L490.0 396.3L490.5 396.3L491.0 396.6L491.5 397.0L492.0 397.2L492.5 396.8L493.0 396.5L493.5 395.9L494.0 395.6L494.5 395.9L495.0 396.5L495.5 397.1L496.0 398.0L496.5 398.5L497.0 397.8L497.5 396.9L498.0 396.8L498.5 396.2L499.0 395.8L499.5 395.8L500.0 395.1L500.5 394.2L501.0 394.5L501.5 395.2L502.0 395.6L502.5 395.7L503.0 395.9L503.5 395.7L504.0 395.0L504.5 394.5L505.0 395.4L505.5 395.8L506.0 395.0L506.5 394.0L507.0 394.5L507.5 395.3L508.0 395.2L508.5 394.7L509.0 395.0L509.5 395.4L510.0 395.1L510.5 394.7L511.0 394.9L511.5 395.7L512.0 396.3L512.5 396.4L513.0 396.3L513.5 396.2L514.0 395.9L514.5 395.7L515.0 395.6L515.5 395.9L516.0 395.7L516.5 395.4L517.0 395.5L517.5 395.7L518.0 396.1L518.5 396.2L519.0 395.5L519.5 395.5L520.0 396.0L520.5 396.5L521.0 396.4L521.5 396.5L522.0 396.5L522.5 395.9L523.0 395.3L523.5 395.5L524.0 395.4L524.5 395.6L525.0 395.8L525.5 395.3L526.0 394.8L526.5 395.4L527.0 396.1L527.5 396.8L528.0 396.8L528.5 396.4L529.0 396.4L529.5 396.6L530.0 396.9L530.5 397.3L531.0 396.5L531.5 395.6L532.0 396.0L532.5 396.4L533.0 396.0L533.5 395.6L534.0 396.0L534.5 396.3L535.0 396.7L535.5 397.1L536.0 396.9L536.5 396.8L537.0 396.2L537.5 396.0L538.0 396.6L538.5 396.9L539.0 396.6L539.5 396.3L540.0 395.4L540.5 395.3L541.0 396.0L541.5 396.8L542.0 397.5L542.5 397.2L543.0 396.7L543.5 396.9L544.0 396.7L544.5 396.0L545.0 396.2L545.5 396.9L546.0 397.2L546.5 397.2L547.0 397.2L547.5 397.3L548.0 397.1L548.5 396.6L549.0 396.2L549.5 396.7L550.0 397.5L550.5 398.2L551.0 397.9L551.5 397.2L552.0 397.1L552.5 397.2L553.0 397.3L553.5 397.6L554.0 397.8L554.5 397.7L555.0 397.5L555.5 397.7L556.0 397.8L556.5 397.3L557.0 397.5L557.5 397.7L558.0 397.6L558.5 397.0L559.0 397.0L559.5 397.3L560.0 397.2L560.5 396.6L561.0 396.8L561.5 396.7L562.0 397.4L562.5 398.0L563.0 397.9L563.5 397.1L564.0 396.6L564.5 396.7L565.0 397.7L565.5 397.9L566.0 398.0L566.5 398.5L567.0 398.2L567.5 397.9L568.0 397.9L568.5 397.9L569.0 398.1L569.5 399.3L570.0 401.1L570.5 401.7L571.0 401.7L571.5 402.4L572.0 403.9L572.5 404.1L573.0 403.3L573.5 401.7L574.0 400.4L574.5 399.6L575.0 399.5L575.5 399.1L576.0 398.9L576.5 398.7L577.0 398.4L577.5 398.3L578.0 398.5L578.5 398.3L579.0 398.3L579.5 399.0L580.0 399.7L580.5 399.5L581.0 398.9L581.5 398.3L582.0 397.8L582.5 397.7L583.0 398.0L583.5 398.2L584.0 398.6L584.5 398.6L585.0 397.9L585.5 397.7L586.0 398.5L586.5 399.1L587.0 399.1L587.5 398.4L588.0 398.0L588.5 397.9L589.0 398.3L589.5 399.0L590.0 399.6L590.5 399.2L591.0 399.0L591.5 399.1L592.0 397.8L592.5 396.8L593.0 397.2L593.5 398.0L594.0 398.3L594.5 398.3L595.0 398.7L595.5 399.0L596.0 398.3L596.5 397.5L597.0 397.5L597.5 398.2L598.0 399.4L598.5 399.7L599.0 399.8L599.5 399.7L600.0 399.2L600.5 398.7L601.0 397.8L601.5 397.3L602.0 397.7L602.5 398.0L603.0 398.3L603.5 399.0L604.0 398.4L604.5 397.8L605.0 398.1L605.5 398.4L606.0 398.2L606.5 398.3L607.0 398.3L607.5 398.7L608.0 398.8L608.5 398.0L609.0 397.8L609.5 398.6L610.0 398.7L610.5 398.6L611.0 398.3L611.5 398.5L612.0 398.9L612.5 398.6L613.0 397.7L613.5 397.4L614.0 397.6L614.5 398.0L615.0 397.8L615.5 396.6L616.0 396.4L616.5 397.4L617.0 398.4L617.5 398.9L618.0 399.0L618.5 398.7L619.0 398.6L619.5 398.6L620.0 398.5L620.5 398.5L621.0 398.3L621.5 398.0L622.0 397.6L622.5 396.9L623.0 396.0L623.5 395.7L624.0 395.8L624.5 396.7L625.0 397.9L625.5 398.1L626.0 397.3L626.5 396.3L627.0 396.3L627.5 396.9L628.0 396.8L628.5 396.1L629.0 395.8L629.5 396.1L630.0 396.9L630.5 396.7L631.0 396.2L631.5 396.0L632.0 396.3L632.5 396.9L633.0 397.2L633.5 397.1L634.0 396.9L634.5 397.0L635.0 397.4L635.5 397.8L636.0 397.2L636.5 397.2L637.0 397.4L637.5 397.9L638.0 398.3L638.5 398.2L639.0 397.6L639.5 397.6L640.0 397.3L640.5 396.5L641.0 396.3L641.5 396.4L642.0 396.5L642.5 396.3L643.0 395.6L643.5 394.8L644.0 395.0L644.5 395.8L645.0 396.5L645.5 396.3L646.0 396.2L646.5 396.5L647.0 396.9L647.5 396.6L648.0 396.1L648.5 396.1L649.0 396.2L649.5 396.1L650.0 396.1L650.5 396.0L651.0 395.8L651.5 395.6L652.0 395.7L652.5 396.1L653.0 395.7L653.5 395.2L654.0 395.7L654.5 396.5L655.0 397.8L655.5 399.1L656.0 399.6L656.5 399.9L657.0 400.0L657.5 399.1L658.0 398.4L658.5 398.3L659.0 397.6L659.5 396.7L660.0 396.3L660.5 395.9L661.0 395.1L661.5 394.7L662.0 394.6L662.5 395.4L663.0 397.0L663.5 397.4L664.0 397.2L664.5 396.5L665.0 395.9L665.5 395.5L666.0 395.4L666.5 395.6L667.0 396.4L667.5 396.9L668.0 396.9L668.5 396.8L669.0 396.6L669.5 396.6L670.0 396.7L670.5 397.0L671.0 396.8L671.5 396.8L672.0 397.2L672.5 397.6L673.0 397.5L673.5 397.0L674.0 397.0L674.5 397.4L675.0 397.5L675.5 397.7L676.0 398.2L676.5 398.0L677.0 397.2L677.5 396.9L678.0 397.7L678.5 398.0L679.0 397.0L679.5 396.0L680.0 395.8L680.5 396.5L681.0 397.2L681.5 397.1L682.0 396.6L682.5 396.7L683.0 397.2L683.5 397.2L684.0 397.0L684.5 397.0L685.0 396.9L685.5 396.9L686.0 397.1L686.5 396.9L687.0 397.2L687.5 397.3L688.0 397.1L688.5 397.0L689.0 396.9L689.5 396.6L690.0 396.5L690.5 395.8L691.0 395.1L691.5 395.2L692.0 395.9L692.5 397.0L693.0 396.9L693.5 396.8L694.0 397.2L694.5 397.9L695.0 398.0L695.5 397.8L696.0 397.3L696.5 398.0L697.0 399.8L697.5 401.0L698.0 400.7L698.5 399.8L699.0 399.4L699.5 399.1L700.0 398.4L700.5 397.3L701.0 397.4L701.5 399.3L702.0 402.5L702.5 405.7L703.0 408.5L703.5 411.1L704.0 412.1L704.5 410.7L705.0 407.7L705.5 404.1L706.0 401.7L706.5 400.1L707.0 398.3L707.5 397.3L708.0 396.9L708.5 396.3L709.0 396.7L709.5 397.1L710.0 397.5L710.5 397.8L711.0 397.7L711.5 397.5L712.0 397.9L712.5 397.8L713.0 397.2L713.5 396.9L714.0 396.9L714.5 397.4L715.0 398.0L715.5 399.6L716.0 401.5L716.5 402.7L717.0 403.1L717.5 403.6L718.0 403.9L718.5 403.7L719.0 402.4L719.5 401.3L720.0 400.3L720.5 398.6L721.0 397.5L721.5 397.3L722.0 397.5L722.5 397.4L723.0 397.4L723.5 397.4L724.0 397.2L724.5 396.1L725.0 395.6L725.5 395.9L726.0 396.1L726.5 395.9L727.0 396.0L727.5 395.9L728.0 396.1L728.5 396.5L729.0 396.6L729.5 396.9L730.0 396.7L730.5 396.5L731.0 396.4L731.5 396.8L732.0 397.1L732.5 396.9L733.0 396.5L733.5 396.7L734.0 397.5L734.5 397.8L735.0 397.4L735.5 396.7L736.0 396.8L736.5 397.1L737.0 396.7L737.5 396.0L738.0 396.0L738.5 396.2L739.0 397.1L739.5 397.6L740.0 397.3L740.5 396.8L741.0 396.8L741.5 397.7L742.0 398.6L742.5 398.8L743.0 397.8L743.5 396.4L744.0 396.3L744.5 397.0L745.0 397.3L745.5 397.6L746.0 397.5L746.5 397.4L747.0 397.8L747.5 397.7L748.0 396.4L748.5 395.7L749.0 396.2L749.5 397.1L750.0 397.1L750.5 396.7L751.0 396.7L751.5 397.5L752.0 397.5L752.5 397.1L753.0 397.2L753.5 397.5L754.0 397.6L754.5 398.2L755.0 397.5L755.5 396.3L756.0 395.9L756.5 396.5L757.0 396.5L757.5 396.8L758.0 398.2L758.5 400.9L759.0 404.2L759.5 408.2L760.0 412.7L760.5 416.4L761.0 418.1L761.5 417.1L762.0 414.0L762.5 409.7L763.0 406.0L763.5 403.0L764.0 400.9L764.5 399.4L765.0 398.5L765.5 397.8L766.0 397.2L766.5 396.6L767.0 396.5L767.5 396.9L768.0 397.0L768.5 396.8L769.0 396.7L769.5 396.7L770.0 396.9L770.5 397.2L771.0 397.1L771.5 397.3L772.0 397.4L772.5 397.5L773.0 397.4L773.5 397.3L774.0 396.9L774.5 396.7L775.0 396.9L775.5 397.2L776.0 397.4L776.5 397.5L777.0 397.4L777.5 397.7L778.0 398.4L778.5 399.9L779.0 401.5L779.5 401.1L780.0 399.8L780.5 399.4L781.0 398.9L781.5 397.9L782.0 397.0L782.5 397.4L783.0 398.3L783.5 398.7L784.0 398.0L784.5 397.1L785.0 396.4L785.5 396.4L786.0 397.0L786.5 397.6L787.0 397.5L787.5 397.9L788.0 398.2L788.5 397.9L789.0 397.5L789.5 397.9L790.0 399.3L790.5 401.5L791.0 404.0L791.5 403.8L792.0 400.9L792.5 398.2L793.0 396.4L793.5 395.6L794.0 395.9L794.5 396.2L795.0 396.6L795.5 397.0L796.0 397.1L796.5 397.0L797.0 396.9L797.5 397.2L798.0 396.9L798.5 397.1L799.0 398.3L799.5 399.8L800.0 399.6L800.5 398.6L801.0 398.1L801.5 396.9L802.0 394.7L802.5 394.1L803.0 394.4L803.5 394.6L804.0 395.1L804.5 396.2L805.0 396.5L805.5 396.1L806.0 396.3L806.5 396.6L807.0 395.6L807.5 395.1L808.0 394.6L808.5 393.0L809.0 391.6L809.5 392.1L810.0 393.8L810.5 394.5L811.0 394.6L811.5 394.5L812.0 393.5L812.5 392.8L813.0 392.9L813.5 392.8L814.0 392.3L814.5 392.6L815.0 393.7L815.5 393.7L816.0 392.1L816.5 390.0L817.0 389.4L817.5 389.9L818.0 389.6L818.5 389.5L819.0 389.4L819.5 389.1L820.0 388.6L820.5 388.0L821.0 387.6L821.5 387.2L822.0 387.1L822.5 387.7L823.0 387.3L823.5 386.6" fill="none" stroke="#44AA99" stroke-width="1.08" stroke-linejoin="round" stroke-linecap="round"/>
<path d="M162.0 444.8L162.5 445.0L163.0 446.2L163.5 448.1L164.0 448.4L164.5 448.2L165.0 449.0L165.5 449.5L166.0 450.0L166.5 450.4L167.0 450.4L167.5 451.2L168.0 452.8L168.5 454.5L169.0 454.7L169.5 454.2L170.0 455.8L170.5 460.9L171.0 459.1L171.5 456.6L172.0 458.6L172.5 464.0L173.0 464.4L173.5 459.2L174.0 458.3L174.5 460.5L175.0 463.0L175.5 460.5L176.0 461.0L176.5 469.5L177.0 490.2L177.5 515.6L178.0 528.4L178.5 519.8L179.0 505.2L179.5 502.2L180.0 504.7L180.5 495.1L181.0 477.0L181.5 464.4L182.0 460.5L182.5 460.2L183.0 460.5L183.5 460.8L184.0 461.2L184.5 461.4L185.0 461.5L185.5 460.9L186.0 461.1L186.5 462.0L187.0 461.9L187.5 461.8L188.0 462.2L188.5 463.0L189.0 464.1L189.5 465.2L190.0 465.9L190.5 465.6L191.0 465.0L191.5 464.8L192.0 464.9L192.5 465.2L193.0 465.8L193.5 465.9L194.0 466.5L194.5 467.3L195.0 467.1L195.5 466.7L196.0 466.6L196.5 466.3L197.0 466.0L197.5 465.6L198.0 465.4L198.5 466.0L199.0 466.2L199.5 465.5L200.0 464.7L200.5 464.1L201.0 463.8L201.5 464.3L202.0 465.0L202.5 465.7L203.0 465.4L203.5 465.0L204.0 465.5L204.5 465.6L205.0 465.4L205.5 465.6L206.0 465.7L206.5 465.7L207.0 466.1L207.5 465.9L208.0 465.5L208.5 465.2L209.0 465.2L209.5 465.7L210.0 466.2L210.5 466.1L211.0 466.2L211.5 466.3L212.0 466.4L212.5 465.9L213.0 465.5L213.5 465.7L214.0 466.2L214.5 467.0L215.0 468.5L215.5 469.6L216.0 470.8L216.5 472.2L217.0 473.2L217.5 473.4L218.0 472.3L218.5 470.1L219.0 468.3L219.5 467.2L220.0 467.0L220.5 467.0L221.0 466.3L221.5 466.0L222.0 466.4L222.5 466.7L223.0 466.9L223.5 466.5L224.0 465.7L224.5 465.5L225.0 465.8L225.5 465.7L226.0 465.4L226.5 465.6L227.0 466.4L227.5 466.7L228.0 466.7L228.5 466.6L229.0 466.0L229.5 465.6L230.0 465.4L230.5 465.8L231.0 465.8L231.5 465.8L232.0 465.8L232.5 465.8L233.0 466.1L233.5 466.9L234.0 467.2L234.5 467.3L235.0 466.8L235.5 466.6L236.0 466.8L236.5 467.5L237.0 467.4L237.5 467.2L238.0 467.0L238.5 466.9L239.0 466.7L239.5 466.6L240.0 466.5L240.5 466.3L241.0 465.6L241.5 465.6L242.0 465.9L242.5 466.0L243.0 466.3L243.5 466.5L244.0 466.9L244.5 467.6L245.0 468.5L245.5 469.9L246.0 471.1L246.5 471.2L247.0 470.7L247.5 470.2L248.0 469.4L248.5 468.3L249.0 467.2L249.5 466.7L250.0 467.0L250.5 467.2L251.0 466.7L251.5 466.4L252.0 466.3L252.5 466.2L253.0 465.7L253.5 466.0L254.0 466.1L254.5 465.7L255.0 465.8L255.5 466.6L256.0 466.8L256.5 466.7L257.0 466.5L257.5 466.5L258.0 466.6L258.5 466.8L259.0 466.7L259.5 466.5L260.0 466.6L260.5 467.2L261.0 468.1L261.5 468.0L262.0 466.9L262.5 465.9L263.0 466.4L263.5 467.4L264.0 467.6L264.5 467.5L265.0 467.6L265.5 467.1L266.0 466.8L266.5 466.7L267.0 467.1L267.5 467.7L268.0 467.8L268.5 467.5L269.0 467.7L269.5 467.5L270.0 467.4L270.5 467.0L271.0 466.8L271.5 466.8L272.0 467.5L272.5 468.6L273.0 468.9L273.5 468.1L274.0 467.5L274.5 467.6L275.0 467.8L275.5 468.6L276.0 469.0L276.5 468.5L277.0 467.5L277.5 466.7L278.0 467.0L278.5 467.3L279.0 467.6L279.5 468.1L280.0 468.5L280.5 468.0L281.0 468.0L281.5 468.3L282.0 468.2L282.5 467.6L283.0 467.4L283.5 467.4L284.0 467.3L284.5 467.5L285.0 468.0L285.5 468.3L286.0 467.7L286.5 467.2L287.0 467.1L287.5 467.2L288.0 467.4L288.5 467.7L289.0 468.2L289.5 468.1L290.0 467.7L290.5 467.9L291.0 468.2L291.5 468.1L292.0 468.1L292.5 467.9L293.0 467.9L293.5 467.9L294.0 468.2L294.5 468.6L295.0 468.1L295.5 467.6L296.0 468.2L296.5 468.7L297.0 468.6L297.5 468.3L298.0 468.3L298.5 468.0L299.0 468.2L299.5 468.6L300.0 468.4L300.5 467.9L301.0 468.0L301.5 468.4L302.0 468.6L302.5 468.8L303.0 468.9L303.5 468.5L304.0 468.2L304.5 469.3L305.0 470.0L305.5 470.3L306.0 470.8L306.5 470.9L307.0 470.6L307.5 470.4L308.0 470.6L308.5 470.8L309.0 471.0L309.5 471.0L310.0 470.3L310.5 469.7L311.0 469.7L311.5 470.0L312.0 469.8L312.5 469.5L313.0 469.7L313.5 469.9L314.0 469.4L314.5 468.9L315.0 469.0L315.5 469.6L316.0 469.7L316.5 469.1L317.0 468.9L317.5 469.3L318.0 469.3L318.5 469.7L319.0 470.0L319.5 469.9L320.0 469.9L320.5 470.3L321.0 470.0L321.5 469.6L322.0 469.2L322.5 468.7L323.0 468.5L323.5 468.7L324.0 468.6L324.5 468.8L325.0 469.0L325.5 468.8L326.0 468.6L326.5 468.7L327.0 468.7L327.5 468.9L328.0 468.9L328.5 469.1L329.0 469.6L329.5 469.7L330.0 468.8L330.5 468.5L331.0 469.0L331.5 469.4L332.0 469.5L332.5 469.9L333.0 470.0L333.5 469.7L334.0 469.2L334.5 468.6L335.0 468.4L335.5 468.5L336.0 468.3L336.5 468.5L337.0 468.9L337.5 468.7L338.0 468.9L338.5 469.2L339.0 468.9L339.5 468.3L340.0 468.5L340.5 468.8L341.0 468.5L341.5 468.2L342.0 468.5L342.5 468.6L343.0 467.8L343.5 467.5L344.0 467.9L344.5 468.3L345.0 468.2L345.5 468.5L346.0 468.8L346.5 468.7L347.0 468.4L347.5 468.6L348.0 469.0L348.5 469.1L349.0 469.2L349.5 468.7L350.0 468.4L350.5 468.6L351.0 468.5L351.5 468.1L352.0 468.6L352.5 469.0L353.0 468.7L353.5 468.1L354.0 468.3L354.5 468.8L355.0 468.8L355.5 468.7L356.0 469.4L356.5 470.1L357.0 470.4L357.5 470.4L358.0 470.4L358.5 470.6L359.0 470.6L359.5 470.4L360.0 470.6L360.5 471.2L361.0 471.2L361.5 470.9L362.0 470.4L362.5 470.3L363.0 470.6L363.5 471.0L364.0 470.5L364.5 469.8L365.0 469.5L365.5 469.9L366.0 470.6L366.5 470.9L367.0 470.7L367.5 470.5L368.0 470.1L368.5 470.3L369.0 470.3L369.5 470.4L370.0 470.7L370.5 471.0L371.0 470.5L371.5 469.7L372.0 469.5L372.5 469.8L373.0 469.6L373.5 469.0L374.0 468.9L374.5 469.8L375.0 470.4L375.5 470.0L376.0 469.7L376.5 469.8L377.0 469.9L377.5 469.8L378.0 469.8L378.5 469.8L379.0 470.0L379.5 470.0L380.0 470.0L380.5 469.8L381.0 469.5L381.5 469.7L382.0 470.1L382.5 470.5L383.0 470.7L383.5 470.5L384.0 470.0L384.5 469.9L385.0 470.1L385.5 470.1L386.0 470.4L386.5 470.8L387.0 471.9L387.5 473.1L388.0 473.7L388.5 474.3L389.0 475.4L389.5 476.9L390.0 479.8L390.5 484.1L391.0 489.7L391.5 495.6L392.0 501.4L392.5 506.7L393.0 511.2L393.5 514.4L394.0 514.7L394.5 511.8L395.0 507.5L395.5 502.2L396.0 496.7L396.5 492.0L397.0 488.7L397.5 488.0L398.0 490.7L398.5 496.1L399.0 502.5L399.5 508.0L400.0 513.0L400.5 516.8L401.0 518.3L401.5 517.1L402.0 515.1L402.5 513.8L403.0 513.0L403.5 511.4L404.0 508.6L404.5 504.0L405.0 497.7L405.5 489.8L406.0 482.1L406.5 476.4L407.0 473.0L407.5 471.1L408.0 470.2L408.5 469.8L409.0 469.3L409.5 468.6L410.0 468.8L410.5 469.7L411.0 470.4L411.5 470.3L412.0 469.5L412.5 469.2L413.0 469.2L413.5 469.4L414.0 469.5L414.5 469.9L415.0 470.4L415.5 470.7L416.0 470.6L416.5 470.5L417.0 471.0L417.5 472.4L418.0 473.5L418.5 473.5L419.0 473.4L419.5 473.5L420.0 472.8L420.5 471.6L421.0 470.9L421.5 470.7L422.0 470.4L422.5 470.0L423.0 469.3L423.5 468.4L424.0 468.7L424.5 469.3L425.0 469.7L425.5 469.7L426.0 470.1L426.5 470.6L427.0 471.1L427.5 470.8L428.0 470.6L428.5 470.1L429.0 469.6L429.5 469.5L430.0 470.1L430.5 470.2L431.0 469.6L431.5 469.7L432.0 470.5L432.5 470.5L433.0 470.3L433.5 469.8L434.0 469.7L434.5 470.0L435.0 470.2L435.5 469.9L436.0 469.7L436.5 469.5L437.0 469.7L437.5 469.9L438.0 470.3L438.5 470.0L439.0 469.7L439.5 469.6L440.0 469.7L440.5 469.7L441.0 469.7L441.5 469.5L442.0 469.5L442.5 469.6L443.0 470.0L443.5 470.2L444.0 469.6L444.5 468.9L445.0 468.8L445.5 468.9L446.0 469.5L446.5 470.2L447.0 470.3L447.5 469.7L448.0 469.4L448.5 469.7L449.0 470.2L449.5 469.4L450.0 468.4L450.5 467.8L451.0 468.4L451.5 468.9L452.0 468.6L452.5 468.5L453.0 468.9L453.5 469.1L454.0 469.0L454.5 468.8L455.0 468.9L455.5 469.0L456.0 468.3L456.5 468.4L457.0 469.2L457.5 469.3L458.0 468.6L458.5 467.8L459.0 467.8L459.5 468.4L460.0 469.0L460.5 468.6L461.0 468.6L461.5 469.3L462.0 469.8L462.5 469.0L463.0 468.4L463.5 468.1L464.0 468.6L464.5 469.3L465.0 469.5L465.5 468.6L466.0 468.5L466.5 468.5L467.0 468.5L467.5 468.2L468.0 468.0L468.5 468.2L469.0 468.7L469.5 468.9L470.0 469.0L470.5 468.5L471.0 468.3L471.5 468.1L472.0 467.9L472.5 467.6L473.0 467.1L473.5 467.4L474.0 468.1L474.5 468.5L475.0 468.2L475.5 467.7L476.0 467.5L476.5 467.8L477.0 468.1L477.5 468.3L478.0 468.5L478.5 468.2L479.0 468.0L479.5 468.4L480.0 468.3L480.5 468.4L481.0 468.7L481.5 468.5L482.0 467.8L482.5 467.7L483.0 467.9L483.5 468.1L484.0 467.9L484.5 468.4L485.0 468.6L485.5 468.2L486.0 467.5L486.5 467.2L487.0 467.1L487.5 467.3L488.0 467.5L488.5 467.5L489.0 467.7L489.5 467.7L490.0 467.6L490.5 467.3L491.0 467.6L491.5 467.7L492.0 467.9L492.5 467.9L493.0 468.1L493.5 468.3L494.0 468.4L494.5 468.1L495.0 467.9L495.5 467.8L496.0 468.0L496.5 468.0L497.0 467.4L497.5 466.9L498.0 467.2L498.5 467.7L499.0 468.2L499.5 468.4L500.0 468.2L500.5 467.7L501.0 467.3L501.5 467.0L502.0 467.0L502.5 467.1L503.0 467.5L503.5 467.8L504.0 467.5L504.5 466.4L505.0 466.2L505.5 466.7L506.0 466.4L506.5 465.7L507.0 466.4L507.5 467.7L508.0 469.0L508.5 469.4L509.0 469.7L509.5 469.7L510.0 469.3L510.5 468.3L511.0 467.9L511.5 467.7L512.0 467.8L512.5 468.2L513.0 468.7L513.5 468.8L514.0 468.2L514.5 467.8L515.0 467.4L515.5 467.5L516.0 467.9L516.5 468.1L517.0 468.3L517.5 468.2L518.0 467.6L518.5 467.9L519.0 468.0L519.5 467.8L520.0 468.0L520.5 468.5L521.0 468.7L521.5 468.7L522.0 468.5L522.5 468.4L523.0 468.2L523.5 467.8L524.0 467.2L524.5 467.3L525.0 467.9L525.5 468.1L526.0 468.2L526.5 467.9L527.0 467.8L527.5 467.8L528.0 467.3L528.5 467.2L529.0 467.1L529.5 467.1L530.0 467.7L530.5 468.4L531.0 468.2L531.5 467.5L532.0 467.2L532.5 467.6L533.0 467.8L533.5 468.2L534.0 468.3L534.5 467.8L535.0 467.3L535.5 467.7L536.0 468.5L536.5 468.3L537.0 467.8L537.5 467.2L538.0 467.2L538.5 467.7L539.0 467.6L539.5 467.0L540.0 467.1L540.5 467.3L541.0 467.2L541.5 467.4L542.0 467.5L542.5 467.5L543.0 467.7L543.5 468.4L544.0 468.8L544.5 468.7L545.0 468.3L545.5 468.4L546.0 468.2L546.5 468.3L547.0 468.5L547.5 468.4L548.0 468.2L548.5 468.3L549.0 468.2L549.5 468.0L550.0 468.1L550.5 468.7L551.0 468.9L551.5 468.5L552.0 468.1L552.5 468.1L553.0 468.0L553.5 468.0L554.0 468.4L554.5 468.4L555.0 468.7L555.5 469.2L556.0 469.8L556.5 469.8L557.0 469.5L557.5 468.8L558.0 468.2L558.5 468.1L559.0 469.1L559.5 469.5L560.0 469.4L560.5 468.8L561.0 468.4L561.5 468.4L562.0 469.1L562.5 469.3L563.0 469.3L563.5 469.3L564.0 469.2L564.5 468.7L565.0 468.4L565.5 468.3L566.0 468.8L566.5 469.2L567.0 469.0L567.5 468.4L568.0 468.0L568.5 468.3L569.0 468.8L569.5 469.2L570.0 469.1L570.5 469.8L571.0 470.3L571.5 471.0L572.0 472.2L572.5 473.5L573.0 473.7L573.5 473.1L574.0 472.2L574.5 471.9L575.0 471.6L575.5 471.1L576.0 470.6L576.5 470.3L577.0 470.3L577.5 470.3L578.0 470.0L578.5 469.9L579.0 470.0L579.5 469.5L580.0 469.2L580.5 468.8L581.0 468.3L581.5 468.3L582.0 468.9L582.5 469.1L583.0 469.3L583.5 469.2L584.0 469.5L584.5 469.4L585.0 468.9L585.5 468.9L586.0 468.8L586.5 468.9L587.0 469.9L587.5 470.2L588.0 470.0L588.5 470.0L589.0 470.1L589.5 469.9L590.0 470.3L590.5 470.2L591.0 469.8L591.5 469.7L592.0 469.7L592.5 469.4L593.0 469.9L593.5 470.3L594.0 470.5L594.5 470.3L595.0 470.0L595.5 469.9L596.0 469.3L596.5 468.8L597.0 469.0L597.5 469.6L598.0 470.2L598.5 470.5L599.0 470.1L599.5 469.8L600.0 469.7L600.5 469.3L601.0 469.1L601.5 469.3L602.0 468.7L602.5 468.3L603.0 468.9L603.5 469.5L604.0 470.1L604.5 470.4L605.0 470.3L605.5 469.6L606.0 469.4L606.5 469.4L607.0 469.8L607.5 470.4L608.0 470.7L608.5 470.7L609.0 470.6L609.5 470.1L610.0 470.0L610.5 470.6L611.0 471.3L611.5 471.4L612.0 470.6L612.5 469.5L613.0 468.7L613.5 468.9L614.0 469.2L614.5 469.4L615.0 469.7L615.5 469.8L616.0 470.0L616.5 470.5L617.0 470.3L617.5 470.2L618.0 470.3L618.5 470.2L619.0 469.9L619.5 469.8L620.0 469.9L620.5 470.1L621.0 469.9L621.5 469.4L622.0 469.4L622.5 469.9L623.0 470.4L623.5 470.2L624.0 470.1L624.5 470.3L625.0 470.0L625.5 469.6L626.0 468.5L626.5 467.5L627.0 467.4L627.5 467.7L628.0 467.8L628.5 468.2L629.0 468.2L629.5 468.0L630.0 468.1L630.5 468.4L631.0 468.2L631.5 468.0L632.0 467.7L632.5 467.4L633.0 467.7L633.5 468.0L634.0 468.1L634.5 467.9L635.0 467.9L635.5 468.0L636.0 467.3L636.5 466.6L637.0 466.9L637.5 467.4L638.0 467.9L638.5 467.8L639.0 467.9L639.5 468.0L640.0 467.9L640.5 467.3L641.0 467.3L641.5 467.4L642.0 467.8L642.5 467.4L643.0 467.6L643.5 467.8L644.0 468.0L644.5 468.0L645.0 467.8L645.5 467.5L646.0 467.6L646.5 467.6L647.0 467.4L647.5 467.1L648.0 466.9L648.5 467.1L649.0 467.4L649.5 468.1L650.0 468.1L650.5 467.1L651.0 466.5L651.5 467.0L652.0 467.0L652.5 466.9L653.0 467.0L653.5 467.3L654.0 467.7L654.5 468.9L655.0 470.1L655.5 470.5L656.0 470.2L656.5 469.5L657.0 469.7L657.5 470.3L658.0 470.0L658.5 469.2L659.0 468.5L659.5 467.8L660.0 467.3L660.5 466.6L661.0 466.5L661.5 467.5L662.0 468.5L662.5 468.7L663.0 468.1L663.5 468.0L664.0 468.1L664.5 467.9L665.0 467.4L665.5 467.6L666.0 468.3L666.5 468.9L667.0 468.6L667.5 468.0L668.0 467.8L668.5 468.1L669.0 468.5L669.5 468.5L670.0 468.2L670.5 467.8L671.0 467.5L671.5 467.6L672.0 468.8L672.5 470.2L673.0 470.3L673.5 469.7L674.0 469.3L674.5 468.5L675.0 468.5L675.5 469.0L676.0 469.5L676.5 470.0L677.0 469.6L677.5 468.6L678.0 468.3L678.5 468.6L679.0 468.8L679.5 468.7L680.0 468.4L680.5 468.8L681.0 469.5L681.5 469.7L682.0 468.9L682.5 468.5L683.0 469.5L683.5 470.4L684.0 470.3L684.5 469.2L685.0 468.3L685.5 468.3L686.0 468.8L686.5 468.9L687.0 469.0L687.5 469.3L688.0 469.5L688.5 469.4L689.0 469.2L689.5 468.9L690.0 468.1L690.5 467.4L691.0 467.3L691.5 468.1L692.0 468.5L692.5 468.2L693.0 468.5L693.5 469.1L694.0 469.6L694.5 469.3L695.0 468.3L695.5 467.8L696.0 468.3L696.5 468.5L697.0 468.6L697.5 468.2L698.0 467.8L698.5 467.6L699.0 467.5L699.5 467.9L700.0 468.5L700.5 468.9L701.0 469.3L701.5 470.0L702.0 471.4L702.5 474.0L703.0 477.4L703.5 481.4L704.0 484.6L704.5 485.6L705.0 484.5L705.5 481.6L706.0 477.6L706.5 474.0L707.0 471.7L707.5 469.8L708.0 468.5L708.5 468.1L709.0 468.6L709.5 468.4L710.0 468.4L710.5 468.8L711.0 468.9L711.5 468.7L712.0 468.8L712.5 468.6L713.0 469.0L713.5 469.2L714.0 469.2L714.5 469.4L715.0 469.6L715.5 469.4L716.0 469.1L716.5 468.7L717.0 468.6L717.5 469.2L718.0 470.1L718.5 470.4L719.0 470.1L719.5 469.8L720.0 469.5L720.5 469.4L721.0 469.1L721.5 469.1L722.0 469.6L722.5 470.0L723.0 469.8L723.5 469.6L724.0 469.5L724.5 469.4L725.0 469.4L725.5 469.3L726.0 469.6L726.5 470.2L727.0 470.2L727.5 469.3L728.0 468.7L728.5 468.5L729.0 468.8L729.5 468.7L730.0 468.5L730.5 468.6L731.0 468.8L731.5 468.8L732.0 468.8L732.5 468.4L733.0 468.6L733.5 469.1L734.0 469.2L734.5 469.0L735.0 469.4L735.5 469.8L736.0 469.4L736.5 469.2L737.0 469.4L737.5 469.3L738.0 468.7L738.5 468.7L739.0 468.6L739.5 468.3L740.0 468.1L740.5 468.4L741.0 468.8L741.5 469.4L742.0 469.8L742.5 470.3L743.0 470.4L743.5 469.9L744.0 469.0L744.5 469.1L745.0 469.3L745.5 469.0L746.0 468.7L746.5 469.1L747.0 469.5L747.5 469.7L748.0 469.6L748.5 470.2L749.0 470.0L749.5 469.3L750.0 468.6L750.5 468.5L751.0 469.3L751.5 470.6L752.0 470.9L752.5 470.8L753.0 470.3L753.5 470.6L754.0 470.6L754.5 470.4L755.0 470.4L755.5 470.2L756.0 469.6L756.5 469.5L757.0 469.8L757.5 470.8L758.0 472.1L758.5 474.3L759.0 477.3L759.5 480.3L760.0 483.9L760.5 487.6L761.0 489.4L761.5 489.2L762.0 487.9L762.5 485.2L763.0 482.0L763.5 478.1L764.0 474.7L764.5 472.3L765.0 471.0L765.5 470.1L766.0 469.8L766.5 469.5L767.0 469.3L767.5 469.4L768.0 470.2L768.5 471.6L769.0 472.1L769.5 471.6L770.0 470.6L770.5 470.0L771.0 469.6L771.5 469.4L772.0 469.0L772.5 469.5L773.0 470.3L773.5 470.0L774.0 469.4L774.5 469.0L775.0 469.0L775.5 469.4L776.0 470.0L776.5 469.8L777.0 469.2L777.5 468.9L778.0 470.1L778.5 472.9L779.0 476.6L779.5 475.8L780.0 471.3L780.5 468.2L781.0 467.9L781.5 468.2L782.0 468.6L782.5 468.7L783.0 469.1L783.5 469.0L784.0 468.9L784.5 468.5L785.0 468.5L785.5 468.5L786.0 469.6L786.5 470.6L787.0 470.3L787.5 469.6L788.0 469.1L788.5 469.0L789.0 469.3L789.5 469.3L790.0 468.7L790.5 468.2L791.0 467.9L791.5 468.0L792.0 468.2L792.5 468.6L793.0 468.6L793.5 468.2L794.0 468.2L794.5 468.3L795.0 467.7L795.5 466.9L796.0 466.4L796.5 466.6L797.0 467.1L797.5 467.9L798.0 468.9L798.5 471.3L799.0 475.0L799.5 476.8L800.0 474.2L800.5 471.1L801.0 469.8L801.5 469.9L802.0 469.9L802.5 469.0L803.0 468.1L803.5 468.1L804.0 468.5L804.5 468.3L805.0 467.7L805.5 467.5L806.0 467.3L806.5 467.2L807.0 466.9L807.5 465.9L808.0 466.0L808.5 467.0L809.0 467.8L809.5 468.3L810.0 467.6L810.5 466.9L811.0 466.7L811.5 466.5L812.0 465.8L812.5 465.3L813.0 465.4L813.5 465.6L814.0 465.1L814.5 464.5L815.0 463.9L815.5 463.0L816.0 463.6L816.5 464.2L817.0 463.8L817.5 464.0L818.0 464.1L818.5 462.7L819.0 462.5L819.5 462.0L820.0 461.0L820.5 460.8L821.0 459.5L821.5 457.7L822.0 457.0L822.5 457.4L823.0 459.1L823.5 459.2" fill="none" stroke="#117733" stroke-width="1.08" stroke-linejoin="round" stroke-linecap="round"/>
<path d="M162.0 515.2L162.5 515.7L163.0 515.8L163.5 515.7L164.0 516.6L164.5 517.3L165.0 517.9L165.5 519.1L166.0 520.8L166.5 521.1L167.0 521.0L167.5 522.5L168.0 524.5L168.5 525.1L169.0 524.5L169.5 523.9L170.0 526.0L170.5 531.9L171.0 529.1L171.5 526.4L172.0 528.3L172.5 532.3L173.0 532.6L173.5 527.3L174.0 526.3L174.5 529.8L175.0 532.8L175.5 529.0L176.0 530.5L176.5 541.2L177.0 562.4L177.5 587.7L178.0 600.0L178.5 591.2L179.0 576.2L179.5 572.2L180.0 573.4L180.5 563.5L181.0 545.5L181.5 533.4L182.0 529.8L182.5 529.3L183.0 529.6L183.5 529.2L184.0 529.0L184.5 529.6L185.0 530.8L185.5 530.1L186.0 529.6L186.5 529.7L187.0 530.8L187.5 532.0L188.0 533.1L188.5 533.8L189.0 533.7L189.5 533.1L190.0 533.5L190.5 533.5L191.0 533.3L191.5 533.4L192.0 534.1L192.5 534.7L193.0 534.7L193.5 533.6L194.0 533.0L194.5 533.5L195.0 534.4L195.5 535.4L196.0 536.0L196.5 534.9L197.0 533.8L197.5 534.1L198.0 534.9L198.5 535.0L199.0 534.8L199.5 535.6L200.0 536.1L200.5 536.2L201.0 536.0L201.5 535.8L202.0 535.8L202.5 535.3L203.0 534.4L203.5 534.1L204.0 534.0L204.5 534.3L205.0 534.9L205.5 534.8L206.0 534.6L206.5 534.4L207.0 534.6L207.5 534.9L208.0 535.0L208.5 535.1L209.0 535.5L209.5 536.1L210.0 536.4L210.5 536.4L211.0 537.0L211.5 538.8L212.0 541.4L212.5 544.3L213.0 547.7L213.5 551.2L214.0 554.1L214.5 555.9L215.0 556.9L215.5 556.2L216.0 554.1L216.5 550.6L217.0 546.9L217.5 544.2L218.0 543.0L218.5 541.4L219.0 539.6L219.5 539.2L220.0 539.4L220.5 538.9L221.0 538.0L221.5 537.4L222.0 537.2L222.5 537.4L223.0 537.3L223.5 537.0L224.0 537.2L224.5 537.7L225.0 537.7L225.5 537.5L226.0 537.7L226.5 538.0L227.0 538.9L227.5 539.7L228.0 539.8L228.5 539.6L229.0 539.4L229.5 539.7L230.0 540.1L230.5 539.8L231.0 539.1L231.5 538.2L232.0 537.9L232.5 538.4L233.0 538.5L233.5 538.1L234.0 537.8L234.5 538.1L235.0 538.7L235.5 538.4L236.0 538.0L236.5 538.1L237.0 538.5L237.5 538.8L238.0 539.0L238.5 538.2L239.0 537.5L239.5 537.5L240.0 537.8L240.5 538.1L241.0 538.3L241.5 538.2L242.0 538.1L242.5 538.0L243.0 538.0L243.5 538.2L244.0 538.4L244.5 539.1L245.0 540.3L245.5 541.8L246.0 543.0L246.5 543.3L247.0 542.5L247.5 540.8L248.0 539.1L248.5 538.0L249.0 538.0L249.5 538.1L250.0 537.9L250.5 537.8L251.0 537.6L251.5 537.2L252.0 536.9L252.5 537.0L253.0 537.2L253.5 536.8L254.0 536.1L254.5 536.6L255.0 537.4L255.5 538.1L256.0 537.9L256.5 537.5L257.0 537.1L257.5 537.4L258.0 537.5L258.5 537.6L259.0 537.9L259.5 538.3L260.0 538.4L260.5 538.9L261.0 540.0L261.5 541.6L262.0 542.6L262.5 542.9L263.0 542.0L263.5 540.4L264.0 539.2L264.5 538.4L265.0 537.1L265.5 536.6L266.0 536.8L266.5 537.1L267.0 536.9L267.5 536.7L268.0 536.9L268.5 537.3L269.0 536.9L269.5 536.6L270.0 536.8L270.5 537.3L271.0 537.8L271.5 538.2L272.0 538.1L272.5 537.9L273.0 538.1L273.5 538.5L274.0 538.7L274.5 538.7L275.0 538.2L275.5 537.9L276.0 538.5L276.5 538.8L277.0 538.7L277.5 538.2L278.0 538.2L278.5 538.3L279.0 537.9L279.5 537.9L280.0 538.4L280.5 538.9L281.0 538.9L281.5 538.5L282.0 538.5L282.5 538.1L283.0 538.0L283.5 538.2L284.0 538.6L284.5 538.7L285.0 539.2L285.5 539.4L286.0 539.8L286.5 540.0L287.0 540.1L287.5 539.7L288.0 539.7L288.5 539.4L289.0 539.1L289.5 539.0L290.0 539.2L290.5 539.1L291.0 538.8L291.5 538.5L292.0 538.7L292.5 539.3L293.0 539.6L293.5 539.5L294.0 539.0L294.5 538.9L295.0 538.9L295.5 538.4L296.0 537.9L296.5 538.3L297.0 538.7L297.5 538.7L298.0 538.8L298.5 539.0L299.0 539.0L299.5 538.8L300.0 538.2L300.5 538.2L301.0 538.7L301.5 539.1L302.0 539.1L302.5 539.2L303.0 539.0L303.5 538.8L304.0 538.9L304.5 540.1L305.0 541.4L305.5 542.5L306.0 543.5L306.5 544.8L307.0 545.3L307.5 544.6L308.0 543.2L308.5 541.7L309.0 540.4L309.5 539.9L310.0 540.2L310.5 540.5L311.0 540.2L311.5 539.4L312.0 539.2L312.5 539.6L313.0 539.4L313.5 538.6L314.0 538.8L314.5 539.8L315.0 540.1L315.5 540.0L316.0 540.3L316.5 540.5L317.0 540.2L317.5 540.3L318.0 540.3L318.5 539.8L319.0 538.9L319.5 538.7L320.0 539.0L320.5 539.2L321.0 539.2L321.5 538.9L322.0 538.4L322.5 539.5L323.0 541.4L323.5 542.6L324.0 543.4L324.5 544.7L325.0 545.4L325.5 545.2L326.0 544.7L326.5 543.8L327.0 542.5L327.5 541.4L328.0 540.6L328.5 540.0L329.0 539.5L329.5 539.6L330.0 540.0L330.5 539.8L331.0 539.5L331.5 539.3L332.0 539.3L332.5 539.2L333.0 539.4L333.5 539.9L334.0 540.4L334.5 540.1L335.0 540.3L335.5 541.1L336.0 541.5L336.5 540.8L337.0 540.2L337.5 540.0L338.0 540.2L338.5 539.8L339.0 539.4L339.5 539.4L340.0 539.2L340.5 539.1L341.0 539.2L341.5 539.3L342.0 539.9L342.5 540.1L343.0 539.4L343.5 538.7L344.0 538.7L344.5 538.5L345.0 538.6L345.5 538.7L346.0 539.2L346.5 539.1L347.0 539.3L347.5 539.0L348.0 539.0L348.5 539.0L349.0 538.7L349.5 538.4L350.0 539.1L350.5 539.8L351.0 540.4L351.5 540.6L352.0 540.7L352.5 540.5L353.0 540.1L353.5 539.5L354.0 539.3L354.5 539.8L355.0 540.3L355.5 540.4L356.0 540.7L356.5 540.5L357.0 540.5L357.5 540.9L358.0 541.5L358.5 541.5L359.0 541.6L359.5 541.6L360.0 541.4L360.5 541.5L361.0 541.6L361.5 541.5L362.0 541.3L362.5 541.2L363.0 541.0L363.5 541.2L364.0 541.4L364.5 541.4L365.0 541.3L365.5 540.9L366.0 540.6L366.5 541.0L367.0 541.4L367.5 541.9L368.0 542.2L368.5 542.0L369.0 541.6L369.5 541.6L370.0 541.9L370.5 541.7L371.0 541.8L371.5 542.1L372.0 541.6L372.5 541.1L373.0 541.5L373.5 542.2L374.0 542.5L374.5 542.1L375.0 541.5L375.5 541.4L376.0 541.3L376.5 541.3L377.0 541.7L377.5 542.1L378.0 541.6L378.5 541.3L379.0 541.0L379.5 541.1L380.0 540.9L380.5 541.0L381.0 541.6L381.5 542.7L382.0 542.7L382.5 542.4L383.0 542.0L383.5 541.9L384.0 542.4L384.5 542.9L385.0 542.9L385.5 542.9L386.0 543.1L386.5 543.0L387.0 543.1L387.5 543.7L388.0 544.9L388.5 546.3L389.0 548.2L389.5 551.0L390.0 554.9L390.5 559.5L391.0 564.8L391.5 570.8L392.0 576.8L392.5 581.8L393.0 585.2L393.5 586.1L394.0 585.5L394.5 582.7L395.0 577.7L395.5 571.9L396.0 566.4L396.5 561.9L397.0 559.8L397.5 559.9L398.0 562.3L398.5 567.3L399.0 573.1L399.5 579.5L400.0 585.5L400.5 589.0L401.0 589.9L401.5 589.3L402.0 587.6L402.5 586.7L403.0 586.9L403.5 586.6L404.0 583.9L404.5 577.5L405.0 568.2L405.5 558.6L406.0 550.7L406.5 545.8L407.0 543.2L407.5 542.0L408.0 541.6L408.5 542.1L409.0 542.4L409.5 542.5L410.0 542.5L410.5 542.3L411.0 542.0L411.5 541.6L412.0 540.8L412.5 540.7L413.0 541.3L413.5 541.7L414.0 541.0L414.5 540.9L415.0 541.5L415.5 542.3L416.0 542.5L416.5 542.9L417.0 544.4L417.5 546.8L418.0 548.3L418.5 549.5L419.0 550.0L419.5 548.8L420.0 546.6L420.5 544.3L421.0 542.8L421.5 542.2L422.0 541.9L422.5 541.7L423.0 541.8L423.5 541.7L424.0 541.7L424.5 541.7L425.0 541.5L425.5 541.5L426.0 541.9L426.5 542.3L427.0 542.6L427.5 542.3L428.0 541.6L428.5 541.5L429.0 542.2L429.5 542.3L430.0 541.9L430.5 541.3L431.0 540.9L431.5 540.9L432.0 541.3L432.5 541.6L433.0 541.8L433.5 542.0L434.0 541.7L434.5 540.6L435.0 539.5L435.5 539.5L436.0 540.1L436.5 540.6L437.0 540.7L437.5 540.5L438.0 540.3L438.5 540.2L439.0 540.3L439.5 540.6L440.0 540.8L440.5 540.8L441.0 540.9L441.5 540.7L442.0 540.8L442.5 540.7L443.0 541.2L443.5 541.5L444.0 541.4L444.5 540.8L445.0 540.7L445.5 540.8L446.0 541.0L446.5 540.9L447.0 540.2L447.5 539.5L448.0 540.0L448.5 540.6L449.0 540.7L449.5 540.7L450.0 541.0L450.5 541.0L451.0 541.1L451.5 541.1L452.0 540.7L452.5 539.9L453.0 539.7L453.5 539.1L454.0 538.9L454.5 539.0L455.0 539.0L455.5 538.7L456.0 538.4L456.5 538.7L457.0 539.4L457.5 539.7L458.0 539.6L458.5 539.5L459.0 539.6L459.5 540.4L460.0 540.2L460.5 540.2L461.0 539.9L461.5 538.8L462.0 538.0L462.5 538.4L463.0 538.8L463.5 539.0L464.0 539.3L464.5 539.3L465.0 539.1L465.5 539.4L466.0 539.6L466.5 540.1L467.0 541.2L467.5 542.2L468.0 542.6L468.5 543.2L469.0 543.3L469.5 543.0L470.0 542.0L470.5 540.9L471.0 541.3L471.5 541.3L472.0 540.5L472.5 540.2L473.0 540.6L473.5 541.5L474.0 542.0L474.5 541.9L475.0 542.5L475.5 543.3L476.0 543.4L476.5 543.0L477.0 541.7L477.5 540.5L478.0 539.9L478.5 540.1L479.0 540.2L479.5 540.1L480.0 540.1L480.5 540.5L481.0 540.6L481.5 540.5L482.0 540.4L482.5 540.2L483.0 540.1L483.5 540.2L484.0 540.1L484.5 539.9L485.0 539.5L485.5 539.0L486.0 539.0L486.5 538.7L487.0 538.7L487.5 539.3L488.0 539.2L488.5 538.5L489.0 538.5L489.5 539.0L490.0 539.8L490.5 540.7L491.0 540.8L491.5 540.4L492.0 539.8L492.5 539.1L493.0 539.6L493.5 540.2L494.0 540.1L494.5 539.5L495.0 539.0L495.5 538.7L496.0 539.1L496.5 539.3L497.0 539.1L497.5 538.5L498.0 538.7L498.5 538.9L499.0 538.2L499.5 537.9L500.0 538.8L500.5 539.5L501.0 539.4L501.5 539.1L502.0 538.8L502.5 538.2L503.0 537.9L503.5 537.8L504.0 537.8L504.5 538.1L505.0 538.6L505.5 538.8L506.0 538.5L506.5 537.9L507.0 537.5L507.5 538.1L508.0 539.8L508.5 541.2L509.0 541.8L509.5 541.6L510.0 540.3L510.5 539.2L511.0 538.5L511.5 538.5L512.0 538.7L512.5 538.4L513.0 538.3L513.5 538.9L514.0 539.0L514.5 538.8L515.0 538.7L515.5 538.7L516.0 538.9L516.5 538.9L517.0 539.0L517.5 538.5L518.0 538.1L518.5 538.3L519.0 538.9L519.5 538.9L520.0 539.1L520.5 539.4L521.0 539.9L521.5 540.0L522.0 539.8L522.5 539.8L523.0 539.7L523.5 539.6L524.0 539.6L524.5 539.4L525.0 539.0L525.5 538.7L526.0 538.6L526.5 539.1L527.0 539.0L527.5 539.2L528.0 539.5L528.5 539.3L529.0 538.8L529.5 538.9L530.0 539.2L530.5 539.3L531.0 539.1L531.5 539.0L532.0 538.8L532.5 539.1L533.0 539.4L533.5 539.6L534.0 540.0L534.5 540.0L535.0 539.1L535.5 538.8L536.0 539.7L536.5 540.0L537.0 539.4L537.5 539.1L538.0 539.0L538.5 538.8L539.0 539.3L539.5 539.9L540.0 540.1L540.5 540.0L541.0 540.1L541.5 539.5L542.0 539.1L542.5 539.5L543.0 539.5L543.5 539.6L544.0 540.1L544.5 539.9L545.0 539.6L545.5 539.7L546.0 540.3L546.5 540.5L547.0 539.8L547.5 539.1L548.0 539.3L548.5 539.6L549.0 539.8L549.5 540.1L550.0 540.6L550.5 540.8L551.0 540.8L551.5 540.7L552.0 540.1L552.5 539.9L553.0 539.8L553.5 539.1L554.0 539.1L554.5 539.6L555.0 540.1L555.5 540.8L556.0 541.5L556.5 541.7L557.0 541.1L557.5 540.9L558.0 541.1L558.5 541.1L559.0 540.5L559.5 539.6L560.0 540.1L560.5 541.4L561.0 541.8L561.5 541.2L562.0 540.5L562.5 540.5L563.0 540.9L563.5 540.8L564.0 540.8L564.5 540.7L565.0 541.3L565.5 542.2L566.0 542.6L566.5 542.2L567.0 541.3L567.5 540.3L568.0 539.9L568.5 540.9L569.0 543.6L569.5 546.0L570.0 547.1L570.5 548.1L571.0 549.5L571.5 549.5L572.0 548.5L572.5 547.3L573.0 545.7L573.5 543.8L574.0 542.3L574.5 541.3L575.0 541.2L575.5 541.4L576.0 541.4L576.5 541.8L577.0 541.7L577.5 541.3L578.0 541.1L578.5 541.0L579.0 540.7L579.5 540.7L580.0 541.5L580.5 542.4L581.0 542.4L581.5 542.3L582.0 542.9L582.5 543.1L583.0 542.4L583.5 541.6L584.0 541.8L584.5 542.5L585.0 542.8L585.5 542.4L586.0 541.7L586.5 541.4L587.0 541.5L587.5 542.1L588.0 542.1L588.5 541.9L589.0 541.7L589.5 542.0L590.0 542.6L590.5 542.9L591.0 542.7L591.5 542.3L592.0 542.0L592.5 541.9L593.0 541.6L593.5 541.7L594.0 542.5L594.5 542.9L595.0 542.7L595.5 542.4L596.0 541.9L596.5 541.5L597.0 541.4L597.5 541.8L598.0 542.2L598.5 541.9L599.0 541.4L599.5 541.9L600.0 542.8L600.5 543.0L601.0 542.6L601.5 542.9L602.0 543.3L602.5 543.4L603.0 543.0L603.5 542.1L604.0 541.6L604.5 541.5L605.0 541.3L605.5 541.8L606.0 542.2L606.5 541.6L607.0 541.2L607.5 541.3L608.0 541.7L608.5 541.9L609.0 541.6L609.5 540.9L610.0 540.2L610.5 539.8L611.0 540.0L611.5 540.4L612.0 540.7L612.5 541.0L613.0 541.3L613.5 541.6L614.0 541.9L614.5 542.0L615.0 541.7L615.5 541.3L616.0 541.0L616.5 541.3L617.0 542.0L617.5 542.7L618.0 543.0L618.5 542.5L619.0 542.3L619.5 542.2L620.0 541.8L620.5 541.4L621.0 541.7L621.5 541.3L622.0 541.1L622.5 541.1L623.0 541.3L623.5 541.2L624.0 541.1L624.5 540.8L625.0 540.8L625.5 541.1L626.0 541.3L626.5 541.2L627.0 541.2L627.5 540.9L628.0 540.5L628.5 540.6L629.0 541.0L629.5 541.0L630.0 540.8L630.5 540.4L631.0 540.2L631.5 540.4L632.0 540.5L632.5 540.7L633.0 540.4L633.5 539.9L634.0 539.2L634.5 539.2L635.0 539.7L635.5 540.3L636.0 540.4L636.5 540.5L637.0 540.3L637.5 540.0L638.0 539.6L638.5 539.6L639.0 539.8L639.5 539.7L640.0 539.5L640.5 539.1L641.0 538.8L641.5 538.7L642.0 538.8L642.5 538.7L643.0 538.7L643.5 539.6L644.0 540.5L644.5 540.0L645.0 539.3L645.5 539.1L646.0 539.1L646.5 538.9L647.0 538.7L647.5 538.7L648.0 539.1L648.5 539.1L649.0 539.3L649.5 539.3L650.0 539.5L650.5 540.0L651.0 540.8L651.5 540.7L652.0 540.1L652.5 539.0L653.0 538.5L653.5 539.0L654.0 540.0L654.5 540.6L655.0 541.4L655.5 542.1L656.0 543.2L656.5 544.1L657.0 544.4L657.5 543.7L658.0 542.2L658.5 541.0L659.0 540.4L659.5 540.0L660.0 540.0L660.5 539.8L661.0 539.7L661.5 539.5L662.0 539.5L662.5 539.8L663.0 539.5L663.5 538.7L664.0 539.1L664.5 539.5L665.0 539.2L665.5 538.1L666.0 538.0L666.5 538.5L667.0 539.0L667.5 539.2L668.0 540.0L668.5 540.5L669.0 540.4L669.5 539.8L670.0 539.1L670.5 538.6L671.0 538.7L671.5 539.6L672.0 540.4L672.5 540.1L673.0 539.7L673.5 539.7L674.0 540.0L674.5 540.0L675.0 540.1L675.5 540.1L676.0 539.8L676.5 540.2L677.0 540.8L677.5 541.0L678.0 540.8L678.5 540.2L679.0 539.7L679.5 539.4L680.0 539.4L680.5 539.6L681.0 540.3L681.5 540.8L682.0 541.0L682.5 540.5L683.0 540.0L683.5 539.7L684.0 539.5L684.5 539.0L685.0 539.0L685.5 539.4L686.0 540.1L686.5 540.4L687.0 540.2L687.5 539.9L688.0 539.7L688.5 540.3L689.0 540.8L689.5 540.3L690.0 539.8L690.5 539.7L691.0 540.1L691.5 540.2L692.0 539.9L692.5 539.9L693.0 540.1L693.5 539.8L694.0 539.6L694.5 539.6L695.0 539.8L695.5 539.9L696.0 540.3L696.5 541.3L697.0 542.6L697.5 542.8L698.0 542.8L698.5 542.8L699.0 542.3L699.5 541.4L700.0 540.6L700.5 540.1L701.0 540.3L701.5 541.8L702.0 544.4L702.5 547.6L703.0 551.6L703.5 554.9L704.0 555.9L704.5 554.7L705.0 551.7L705.5 547.5L706.0 543.6L706.5 541.2L707.0 540.4L707.5 540.6L708.0 540.3L708.5 539.5L709.0 539.6L709.5 540.2L710.0 540.5L710.5 540.5L711.0 540.3L711.5 540.1L712.0 539.6L712.5 539.2L713.0 539.1L713.5 539.5L714.0 539.8L714.5 540.0L715.0 541.1L715.5 543.0L716.0 545.2L716.5 547.7L717.0 549.4L717.5 549.8L718.0 548.1L718.5 545.2L719.0 542.7L719.5 540.4L720.0 538.5L720.5 538.2L721.0 538.2L721.5 538.4L722.0 539.0L722.5 539.9L723.0 540.2L723.5 540.1L724.0 540.2L724.5 540.3L725.0 540.0L725.5 539.8L726.0 539.6L726.5 539.9L727.0 540.6L727.5 541.1L728.0 540.5L728.5 540.0L729.0 539.7L729.5 539.3L730.0 538.9L730.5 538.9L731.0 538.5L731.5 538.2L732.0 538.6L732.5 539.3L733.0 540.0L733.5 540.5L734.0 540.2L734.5 540.0L735.0 540.7L735.5 541.2L736.0 541.2L736.5 541.4L737.0 541.0L737.5 540.2L738.0 539.9L738.5 539.6L739.0 540.0L739.5 540.2L740.0 539.7L740.5 539.0L741.0 539.1L741.5 539.4L742.0 539.9L742.5 540.2L743.0 539.9L743.5 539.3L744.0 539.1L744.5 539.9L745.0 540.3L745.5 539.6L746.0 538.9L746.5 539.3L747.0 540.1L747.5 540.4L748.0 540.3L748.5 540.4L749.0 540.5L749.5 541.1L750.0 541.9L750.5 542.0L751.0 541.4L751.5 541.1L752.0 541.4L752.5 541.2L753.0 540.8L753.5 540.3L754.0 540.2L754.5 540.3L755.0 540.1L755.5 539.8L756.0 539.6L756.5 540.0L757.0 540.3L757.5 540.8L758.0 542.5L758.5 545.5L759.0 549.4L759.5 553.6L760.0 557.6L760.5 561.3L761.0 562.7L761.5 561.6L762.0 558.8L762.5 555.0L763.0 550.7L763.5 546.8L764.0 543.7L764.5 541.5L765.0 540.2L765.5 539.9L766.0 540.3L766.5 540.5L767.0 540.5L767.5 540.7L768.0 540.7L768.5 540.5L769.0 540.2L769.5 540.1L770.0 540.0L770.5 539.9L771.0 540.1L771.5 540.4L772.0 540.2L772.5 540.4L773.0 540.9L773.5 541.1L774.0 541.0L774.5 540.5L775.0 539.8L775.5 539.2L776.0 539.1L776.5 539.5L777.0 539.8L777.5 540.5L778.0 541.0L778.5 542.5L779.0 544.5L779.5 544.3L780.0 541.9L780.5 540.6L781.0 540.2L781.5 540.1L782.0 540.2L782.5 540.5L783.0 540.2L783.5 540.3L784.0 541.0L784.5 541.5L785.0 541.5L785.5 540.7L786.0 539.8L786.5 540.0L787.0 540.4L787.5 540.2L788.0 540.5L788.5 541.3L789.0 541.6L789.5 540.8L790.0 539.9L790.5 540.0L791.0 542.7L791.5 546.3L792.0 545.0L792.5 542.0L793.0 541.6L793.5 542.1L794.0 541.1L794.5 540.1L795.0 540.1L795.5 540.6L796.0 540.9L796.5 540.7L797.0 540.0L797.5 539.5L798.0 539.9L798.5 542.4L799.0 545.4L799.5 545.8L800.0 543.2L800.5 540.9L801.0 540.1L801.5 540.5L802.0 540.3L802.5 539.7L803.0 539.1L803.5 539.8L804.0 540.2L804.5 539.9L805.0 538.9L805.5 538.7L806.0 539.2L806.5 540.3L807.0 540.1L807.5 538.8L808.0 537.3L808.5 537.1L809.0 537.3L809.5 537.2L810.0 536.8L810.5 537.3L811.0 537.6L811.5 536.9L812.0 536.8L812.5 537.3L813.0 537.0L813.5 536.4L814.0 535.7L814.5 535.1L815.0 535.3L815.5 535.3L816.0 535.4L816.5 534.9L817.0 534.3L817.5 534.4L818.0 534.7L818.5 534.0L819.0 534.2L819.5 534.8L820.0 534.3L820.5 533.2L821.0 533.2L821.5 533.5L822.0 533.0L822.5 532.9L823.0 531.7L823.5 530.5" fill="none" stroke="#999933" stroke-width="1.08" stroke-linejoin="round" stroke-linecap="round"/>
<path d="M162.0 583.2L162.5 585.9L163.0 587.6L163.5 588.1L164.0 589.9L164.5 591.3L165.0 592.7L165.5 592.4L166.0 592.4L166.5 593.4L167.0 594.0L167.5 594.4L168.0 595.3L168.5 596.5L169.0 598.2L169.5 599.3L170.0 602.1L170.5 607.8L171.0 602.9L171.5 598.5L172.0 598.8L172.5 602.7L173.0 604.6L173.5 601.5L174.0 600.4L174.5 602.7L175.0 603.5L175.5 601.5L176.0 605.1L176.5 616.9L177.0 638.3L177.5 662.9L178.0 674.5L178.5 665.8L179.0 651.0L179.5 648.4L180.0 651.0L180.5 639.8L181.0 620.0L181.5 606.5L182.0 600.9L182.5 599.7L183.0 600.0L183.5 599.9L184.0 599.2L184.5 599.7L185.0 601.1L185.5 601.8L186.0 601.7L186.5 601.3L187.0 602.2L187.5 603.9L188.0 603.9L188.5 603.0L189.0 603.2L189.5 603.5L190.0 603.6L190.5 603.0L191.0 603.3L191.5 604.2L192.0 604.4L192.5 604.2L193.0 604.5L193.5 603.8L194.0 603.8L194.5 605.3L195.0 606.4L195.5 606.9L196.0 607.5L196.5 607.1L197.0 606.3L197.5 605.5L198.0 605.1L198.5 604.8L199.0 605.1L199.5 605.8L200.0 606.1L200.5 605.7L201.0 605.4L201.5 605.2L202.0 605.9L202.5 605.8L203.0 605.3L203.5 605.0L204.0 605.1L204.5 605.2L205.0 605.1L205.5 604.8L206.0 605.2L206.5 605.9L207.0 606.3L207.5 606.1L208.0 605.8L208.5 605.9L209.0 605.4L209.5 604.7L210.0 604.9L210.5 606.3L211.0 608.0L211.5 609.1L212.0 609.6L212.5 610.4L213.0 611.4L213.5 613.4L214.0 616.9L214.5 622.4L215.0 629.4L215.5 635.6L216.0 638.4L216.5 638.2L217.0 635.6L217.5 631.2L218.0 625.4L218.5 619.0L219.0 613.5L219.5 610.1L220.0 608.4L220.5 607.3L221.0 607.1L221.5 608.2L222.0 610.8L222.5 614.9L223.0 618.5L223.5 619.3L224.0 617.0L224.5 612.8L225.0 609.3L225.5 607.2L226.0 606.3L226.5 606.0L227.0 606.0L227.5 606.2L228.0 606.2L228.5 605.9L229.0 605.8L229.5 605.6L230.0 605.5L230.5 605.0L231.0 604.4L231.5 605.0L232.0 605.8L232.5 606.1L233.0 606.1L233.5 606.4L234.0 606.6L234.5 606.3L235.0 606.2L235.5 607.0L236.0 608.0L236.5 608.7L237.0 608.7L237.5 609.0L238.0 609.7L238.5 610.7L239.0 610.8L239.5 610.6L240.0 610.0L240.5 608.9L241.0 608.1L241.5 607.8L242.0 607.9L242.5 608.1L243.0 608.0L243.5 607.9L244.0 608.4L244.5 609.3L245.0 611.0L245.5 612.8L246.0 613.8L246.5 613.8L247.0 613.6L247.5 612.9L248.0 611.4L248.5 610.2L249.0 609.3L249.5 609.1L250.0 608.9L250.5 608.6L251.0 607.9L251.5 607.2L252.0 607.3L252.5 608.1L253.0 608.0L253.5 607.6L254.0 607.8L254.5 608.8L255.0 609.4L255.5 609.7L256.0 609.5L256.5 609.1L257.0 608.3L257.5 607.7L258.0 606.9L258.5 607.1L259.0 608.2L259.5 609.2L260.0 610.1L260.5 611.9L261.0 615.4L261.5 620.0L262.0 624.1L262.5 624.7L263.0 621.9L263.5 618.0L264.0 614.1L264.5 610.6L265.0 608.4L265.5 607.9L266.0 607.5L266.5 607.2L267.0 606.7L267.5 607.0L268.0 607.5L268.5 608.6L269.0 609.3L269.5 609.3L270.0 608.5L270.5 607.5L271.0 607.3L271.5 607.9L272.0 608.6L272.5 609.1L273.0 608.8L273.5 608.5L274.0 608.9L274.5 609.1L275.0 608.8L275.5 607.9L276.0 607.6L276.5 608.2L277.0 608.7L277.5 608.5L278.0 608.7L278.5 608.9L279.0 608.8L279.5 608.5L280.0 608.2L280.5 607.9L281.0 608.2L281.5 608.6L282.0 609.0L282.5 609.0L283.0 608.6L283.5 608.8L284.0 609.4L284.5 609.6L285.0 609.8L285.5 609.9L286.0 609.8L286.5 609.0L287.0 607.9L287.5 608.4L288.0 609.9L288.5 610.7L289.0 610.7L289.5 610.2L290.0 609.5L290.5 608.8L291.0 608.0L291.5 608.1L292.0 608.8L292.5 609.3L293.0 609.2L293.5 608.8L294.0 608.5L294.5 608.8L295.0 609.5L295.5 609.9L296.0 610.0L296.5 609.8L297.0 609.8L297.5 609.4L298.0 609.3L298.5 609.2L299.0 609.1L299.5 608.7L300.0 608.9L300.5 608.9L301.0 609.0L301.5 609.5L302.0 609.5L302.5 608.6L303.0 608.3L303.5 609.1L304.0 609.9L304.5 610.8L305.0 612.0L305.5 614.2L306.0 617.3L306.5 620.5L307.0 622.7L307.5 622.6L308.0 620.0L308.5 616.6L309.0 613.8L309.5 611.9L310.0 611.1L310.5 611.0L311.0 610.9L311.5 610.2L312.0 609.5L312.5 609.6L313.0 609.8L313.5 609.8L314.0 609.7L314.5 609.5L315.0 609.3L315.5 609.5L316.0 609.8L316.5 610.0L317.0 610.3L317.5 610.7L318.0 611.0L318.5 611.2L319.0 611.1L319.5 610.7L320.0 611.0L320.5 611.5L321.0 611.7L321.5 611.7L322.0 612.1L322.5 613.0L323.0 615.7L323.5 619.5L324.0 623.7L324.5 627.1L325.0 628.5L325.5 627.7L326.0 625.3L326.5 621.3L327.0 617.6L327.5 615.1L328.0 612.8L328.5 610.7L329.0 610.2L329.5 610.5L330.0 610.5L330.5 611.2L331.0 612.7L331.5 613.8L332.0 612.8L332.5 611.1L333.0 610.6L333.5 610.8L334.0 610.3L334.5 609.6L335.0 609.3L335.5 609.4L336.0 608.9L336.5 608.7L337.0 609.5L337.5 610.1L338.0 609.9L338.5 609.2L339.0 608.8L339.5 609.0L340.0 609.5L340.5 610.3L341.0 610.8L341.5 610.1L342.0 609.3L342.5 609.6L343.0 610.3L343.5 610.5L344.0 610.1L344.5 609.4L345.0 609.4L345.5 609.6L346.0 609.6L346.5 609.5L347.0 610.0L347.5 610.7L348.0 611.0L348.5 610.3L349.0 609.7L349.5 609.6L350.0 609.8L350.5 609.9L351.0 609.6L351.5 609.1L352.0 608.7L352.5 609.3L353.0 609.7L353.5 609.7L354.0 610.1L354.5 610.0L355.0 609.2L355.5 609.0L356.0 609.4L356.5 610.5L357.0 610.8L357.5 610.6L358.0 610.6L358.5 611.1L359.0 611.9L359.5 613.2L360.0 614.2L360.5 614.6L361.0 613.5L361.5 611.8L362.0 610.8L362.5 611.1L363.0 611.2L363.5 610.6L364.0 610.4L364.5 611.0L365.0 611.4L365.5 611.3L366.0 612.1L366.5 612.5L367.0 612.1L367.5 611.8L368.0 611.9L368.5 611.8L369.0 612.1L369.5 612.1L370.0 611.6L370.5 611.8L371.0 612.1L371.5 611.2L372.0 610.5L372.5 611.2L373.0 612.0L373.5 612.0L374.0 611.6L374.5 611.4L375.0 610.8L375.5 611.0L376.0 611.5L376.5 611.8L377.0 611.6L377.5 611.3L378.0 611.3L378.5 611.6L379.0 611.2L379.5 610.8L380.0 611.1L380.5 611.9L381.0 612.5L381.5 612.3L382.0 611.5L382.5 611.3L383.0 612.0L383.5 612.3L384.0 612.4L384.5 612.5L385.0 612.4L385.5 612.7L386.0 613.1L386.5 613.5L387.0 613.7L387.5 613.3L388.0 613.5L388.5 614.1L389.0 615.6L389.5 617.6L390.0 620.0L390.5 623.0L391.0 627.5L391.5 632.5L392.0 638.9L392.5 645.8L393.0 651.5L393.5 655.1L394.0 656.1L394.5 654.7L395.0 650.9L395.5 645.5L396.0 639.6L396.5 633.9L397.0 628.7L397.5 625.7L398.0 625.9L398.5 629.8L399.0 636.3L399.5 644.1L400.0 651.5L400.5 656.1L401.0 656.9L401.5 655.5L402.0 653.5L402.5 652.5L403.0 652.5L403.5 651.4L404.0 648.4L404.5 642.8L405.0 635.8L405.5 629.4L406.0 624.0L406.5 618.9L407.0 615.2L407.5 613.3L408.0 612.6L408.5 611.7L409.0 610.8L409.5 611.1L410.0 611.5L410.5 611.1L411.0 610.9L411.5 610.8L412.0 611.3L412.5 611.0L413.0 610.3L413.5 609.9L414.0 610.1L414.5 610.4L415.0 611.1L415.5 611.7L416.0 612.8L416.5 614.4L417.0 617.2L417.5 621.0L418.0 625.5L418.5 629.2L419.0 630.3L419.5 628.7L420.0 625.3L420.5 621.0L421.0 616.8L421.5 613.5L422.0 611.5L422.5 611.3L423.0 611.3L423.5 610.8L424.0 610.5L424.5 610.7L425.0 611.2L425.5 611.3L426.0 611.3L426.5 611.5L427.0 612.2L427.5 612.3L428.0 612.0L428.5 611.8L429.0 612.0L429.5 612.1L430.0 612.1L430.5 612.3L431.0 612.2L431.5 611.4L432.0 610.8L432.5 611.4L433.0 612.1L433.5 611.5L434.0 611.0L434.5 611.3L435.0 611.6L435.5 611.2L436.0 610.7L436.5 610.4L437.0 611.1L437.5 611.2L438.0 610.7L438.5 610.0L439.0 610.2L439.5 610.7L440.0 611.3L440.5 611.5L441.0 611.6L441.5 612.2L442.0 613.6L442.5 616.0L443.0 618.8L443.5 620.6L444.0 620.1L444.5 617.6L445.0 614.7L445.5 612.8L446.0 611.6L446.5 611.2L447.0 611.3L447.5 611.6L448.0 612.1L448.5 612.1L449.0 611.6L449.5 610.7L450.0 610.1L450.5 609.8L451.0 610.1L451.5 610.8L452.0 611.0L452.5 610.6L453.0 610.7L453.5 611.0L454.0 611.0L454.5 610.9L455.0 610.7L455.5 610.6L456.0 611.0L456.5 611.3L457.0 611.4L457.5 611.7L458.0 611.5L458.5 611.1L459.0 611.2L459.5 610.9L460.0 610.4L460.5 610.3L461.0 610.9L461.5 610.8L462.0 610.0L462.5 609.8L463.0 610.5L463.5 610.6L464.0 610.2L464.5 610.1L465.0 610.6L465.5 610.5L466.0 609.9L466.5 610.0L467.0 611.5L467.5 613.6L468.0 616.6L468.5 619.6L469.0 621.8L469.5 622.1L470.0 619.8L470.5 616.6L471.0 614.0L471.5 611.9L472.0 610.4L472.5 609.5L473.0 609.0L473.5 609.0L474.0 609.6L474.5 611.0L475.0 613.4L475.5 616.3L476.0 617.2L476.5 615.4L477.0 613.5L477.5 612.2L478.0 611.2L478.5 610.3L479.0 610.1L479.5 610.0L480.0 610.0L480.5 610.4L481.0 611.0L481.5 611.4L482.0 611.3L482.5 610.6L483.0 609.9L483.5 609.2L484.0 609.3L484.5 609.8L485.0 610.4L485.5 610.6L486.0 609.7L486.5 608.9L487.0 608.9L487.5 608.9L488.0 609.0L488.5 609.3L489.0 609.7L489.5 610.0L490.0 609.9L490.5 609.3L491.0 609.1L491.5 609.5L492.0 609.2L492.5 608.7L493.0 609.1L493.5 609.8L494.0 610.5L494.5 610.3L495.0 609.2L495.5 608.9L496.0 609.9L496.5 610.2L497.0 610.3L497.5 610.5L498.0 611.4L498.5 613.2L499.0 614.9L499.5 615.9L500.0 615.5L500.5 613.8L501.0 612.2L501.5 611.2L502.0 610.3L502.5 610.2L503.0 610.0L503.5 609.7L504.0 609.6L504.5 610.1L505.0 610.8L505.5 611.1L506.0 611.0L506.5 611.0L507.0 610.4L507.5 610.0L508.0 611.2L508.5 613.3L509.0 615.2L509.5 615.8L510.0 615.2L510.5 613.6L511.0 611.9L511.5 610.8L512.0 609.8L512.5 609.2L513.0 609.4L513.5 610.1L514.0 610.6L514.5 610.4L515.0 610.2L515.5 610.1L516.0 610.1L516.5 610.0L517.0 609.7L517.5 609.2L518.0 609.3L518.5 609.6L519.0 609.5L519.5 609.6L520.0 610.0L520.5 609.8L521.0 609.3L521.5 609.3L522.0 609.6L522.5 610.1L523.0 609.9L523.5 609.3L524.0 609.1L524.5 609.4L525.0 609.6L525.5 610.4L526.0 611.1L526.5 610.7L527.0 609.4L527.5 608.8L528.0 608.9L528.5 609.2L529.0 610.3L529.5 612.1L530.0 612.7L530.5 611.6L531.0 610.5L531.5 609.8L532.0 609.6L532.5 609.8L533.0 609.8L533.5 609.6L534.0 609.3L534.5 609.2L535.0 609.6L535.5 610.2L536.0 610.3L536.5 610.6L537.0 610.8L537.5 610.4L538.0 610.3L538.5 610.6L539.0 610.5L539.5 609.9L540.0 609.8L540.5 610.3L541.0 610.9L541.5 610.6L542.0 610.0L542.5 610.0L543.0 610.5L543.5 610.5L544.0 610.3L544.5 610.4L545.0 610.3L545.5 610.0L546.0 609.6L546.5 610.0L547.0 610.1L547.5 610.2L548.0 610.3L548.5 610.8L549.0 610.8L549.5 610.7L550.0 610.4L550.5 610.0L551.0 609.9L551.5 610.4L552.0 610.8L552.5 611.0L553.0 611.0L553.5 611.1L554.0 610.7L554.5 610.3L555.0 610.2L555.5 610.7L556.0 610.9L556.5 611.1L557.0 610.5L557.5 610.6L558.0 610.4L558.5 610.2L559.0 610.3L559.5 611.0L560.0 611.0L560.5 611.0L561.0 610.5L561.5 609.9L562.0 610.1L562.5 610.3L563.0 610.4L563.5 610.9L564.0 611.3L564.5 611.6L565.0 611.5L565.5 610.8L566.0 611.1L566.5 611.6L567.0 610.9L567.5 610.3L568.0 610.9L568.5 611.9L569.0 612.8L569.5 614.6L570.0 617.9L570.5 622.3L571.0 627.0L571.5 630.5L572.0 631.4L572.5 629.2L573.0 625.0L573.5 620.2L574.0 615.7L574.5 612.5L575.0 611.4L575.5 611.1L576.0 611.2L576.5 611.3L577.0 611.3L577.5 611.1L578.0 610.8L578.5 610.9L579.0 611.2L579.5 611.2L580.0 611.3L580.5 612.2L581.0 614.6L581.5 617.1L582.0 618.8L582.5 619.0L583.0 617.9L583.5 616.9L584.0 615.5L584.5 613.4L585.0 612.1L585.5 611.0L586.0 610.3L586.5 610.3L587.0 610.6L587.5 610.8L588.0 610.9L588.5 611.1L589.0 611.3L589.5 611.0L590.0 611.1L590.5 611.3L591.0 611.5L591.5 611.7L592.0 611.9L592.5 612.2L593.0 612.2L593.5 611.6L594.0 610.8L594.5 610.3L595.0 610.1L595.5 610.3L596.0 610.8L596.5 611.3L597.0 612.1L597.5 613.4L598.0 614.8L598.5 615.6L599.0 617.0L599.5 618.4L600.0 618.4L600.5 617.3L601.0 615.6L601.5 614.5L602.0 614.1L602.5 613.7L603.0 612.7L603.5 611.8L604.0 611.4L604.5 611.9L605.0 612.3L605.5 612.3L606.0 612.5L606.5 612.7L607.0 612.2L607.5 611.6L608.0 611.6L608.5 612.3L609.0 613.0L609.5 612.6L610.0 612.4L610.5 612.4L611.0 612.3L611.5 612.1L612.0 612.4L612.5 612.9L613.0 612.9L613.5 612.9L614.0 613.5L614.5 613.5L615.0 613.0L615.5 612.3L616.0 611.3L616.5 611.1L617.0 611.4L617.5 611.6L618.0 612.4L618.5 613.5L619.0 614.6L619.5 615.4L620.0 615.4L620.5 614.6L621.0 613.3L621.5 611.6L622.0 611.2L622.5 612.6L623.0 614.9L623.5 617.4L624.0 619.3L624.5 619.6L625.0 618.4L625.5 616.2L626.0 614.1L626.5 613.5L627.0 613.0L627.5 612.6L628.0 612.8L628.5 612.9L629.0 612.7L629.5 612.5L630.0 612.3L630.5 612.5L631.0 613.1L631.5 613.2L632.0 612.3L632.5 611.1L633.0 610.8L633.5 611.1L634.0 611.4L634.5 611.3L635.0 611.4L635.5 611.2L636.0 611.3L636.5 611.4L637.0 611.7L637.5 611.5L638.0 610.8L638.5 610.0L639.0 610.6L639.5 611.6L640.0 612.4L640.5 612.0L641.0 610.9L641.5 610.4L642.0 610.7L642.5 610.9L643.0 610.8L643.5 610.5L644.0 610.3L644.5 610.0L645.0 609.6L645.5 609.2L646.0 608.6L646.5 608.8L647.0 609.2L647.5 609.7L648.0 609.9L648.5 609.9L649.0 609.7L649.5 609.8L650.0 609.7L650.5 609.8L651.0 610.2L651.5 610.3L652.0 609.7L652.5 609.1L653.0 608.8L653.5 609.0L654.0 610.0L654.5 611.5L655.0 613.4L655.5 615.7L656.0 618.4L656.5 619.9L657.0 619.1L657.5 617.1L658.0 614.7L658.5 612.2L659.0 610.5L659.5 609.8L660.0 609.8L660.5 610.5L661.0 611.3L661.5 611.0L662.0 610.6L662.5 610.9L663.0 611.2L663.5 611.2L664.0 611.3L664.5 611.5L665.0 611.0L665.5 610.9L666.0 611.2L666.5 611.0L667.0 610.6L667.5 610.2L668.0 610.3L668.5 610.9L669.0 611.2L669.5 611.1L670.0 610.6L670.5 610.2L671.0 610.2L671.5 610.7L672.0 611.9L672.5 613.2L673.0 614.0L673.5 614.1L674.0 613.7L674.5 613.3L675.0 612.7L675.5 611.8L676.0 611.2L676.5 611.3L677.0 610.9L677.5 610.3L678.0 610.3L678.5 610.3L679.0 610.1L679.5 610.3L680.0 610.6L680.5 610.5L681.0 610.4L681.5 610.3L682.0 610.0L682.5 610.0L683.0 610.9L683.5 611.4L684.0 611.4L684.5 610.9L685.0 610.3L685.5 610.1L686.0 609.9L686.5 610.0L687.0 610.3L687.5 610.3L688.0 609.9L688.5 609.9L689.0 610.4L689.5 610.9L690.0 611.1L690.5 610.6L691.0 609.8L691.5 609.5L692.0 610.2L692.5 610.7L693.0 611.2L693.5 612.2L694.0 613.6L694.5 614.7L695.0 614.7L695.5 613.5L696.0 611.8L696.5 610.8L697.0 610.7L697.5 610.8L698.0 610.5L698.5 610.3L699.0 610.3L699.5 610.1L700.0 610.7L700.5 611.3L701.0 611.0L701.5 611.5L702.0 613.5L702.5 616.4L703.0 619.7L703.5 622.7L704.0 625.5L704.5 627.3L705.0 626.1L705.5 622.5L706.0 618.3L706.5 614.8L707.0 612.5L707.5 610.8L708.0 610.3L708.5 610.2L709.0 609.9L709.5 609.5L710.0 609.3L710.5 609.6L711.0 609.8L711.5 609.7L712.0 609.6L712.5 609.7L713.0 610.1L713.5 610.3L714.0 610.0L714.5 610.0L715.0 610.0L715.5 610.5L716.0 611.2L716.5 613.0L717.0 617.1L717.5 622.1L718.0 627.1L718.5 630.4L719.0 630.6L719.5 628.1L720.0 623.4L720.5 617.7L721.0 613.8L721.5 612.1L722.0 611.2L722.5 610.6L723.0 610.4L723.5 610.7L724.0 611.0L724.5 611.5L725.0 611.4L725.5 611.2L726.0 610.8L726.5 610.8L727.0 610.5L727.5 610.0L728.0 609.7L728.5 610.2L729.0 610.6L729.5 610.7L730.0 610.9L730.5 611.2L731.0 611.6L731.5 611.5L732.0 611.1L732.5 611.3L733.0 611.8L733.5 611.3L734.0 610.9L734.5 610.9L735.0 611.3L735.5 611.3L736.0 611.3L736.5 611.1L737.0 611.4L737.5 611.1L738.0 610.3L738.5 610.2L739.0 610.9L739.5 610.9L740.0 611.1L740.5 611.4L741.0 611.8L741.5 612.1L742.0 611.6L742.5 611.3L743.0 611.4L743.5 610.9L744.0 610.5L744.5 610.4L745.0 610.6L745.5 611.0L746.0 611.1L746.5 610.9L747.0 610.9L747.5 610.8L748.0 611.5L748.5 612.1L749.0 612.2L749.5 611.5L750.0 611.2L750.5 611.6L751.0 611.9L751.5 611.9L752.0 611.8L752.5 611.6L753.0 611.4L753.5 610.9L754.0 610.6L754.5 610.9L755.0 611.1L755.5 611.1L756.0 611.0L756.5 611.2L757.0 611.6L757.5 612.2L758.0 613.3L758.5 615.2L759.0 617.6L759.5 621.1L760.0 625.6L760.5 630.0L761.0 633.4L761.5 634.3L762.0 632.3L762.5 627.6L763.0 622.7L763.5 619.0L764.0 616.2L764.5 614.1L765.0 613.0L765.5 612.8L766.0 612.5L766.5 611.9L767.0 611.1L767.5 610.4L768.0 609.8L768.5 609.5L769.0 609.7L769.5 610.4L770.0 610.5L770.5 610.5L771.0 611.2L771.5 612.0L772.0 612.2L772.5 612.0L773.0 611.9L773.5 611.9L774.0 611.8L774.5 611.5L775.0 611.2L775.5 611.4L776.0 612.1L776.5 612.8L777.0 612.7L777.5 612.5L778.0 612.7L778.5 614.5L779.0 616.9L779.5 617.0L780.0 613.9L780.5 611.5L781.0 610.9L781.5 611.2L782.0 611.1L782.5 610.7L783.0 610.8L783.5 611.4L784.0 612.0L784.5 612.2L785.0 612.2L785.5 611.3L786.0 610.4L786.5 610.2L787.0 610.4L787.5 611.3L788.0 612.5L788.5 612.8L789.0 612.4L789.5 611.6L790.0 610.9L790.5 611.0L791.0 611.7L791.5 611.9L792.0 611.4L792.5 611.1L793.0 611.2L793.5 611.1L794.0 611.3L794.5 611.1L795.0 610.8L795.5 610.4L796.0 610.6L796.5 611.2L797.0 612.1L797.5 612.7L798.0 613.0L798.5 612.8L799.0 614.2L799.5 617.4L800.0 619.9L800.5 618.6L801.0 614.9L801.5 611.8L802.0 610.2L802.5 609.5L803.0 610.5L803.5 611.3L804.0 611.4L804.5 610.7L805.0 609.8L805.5 609.2L806.0 609.6L806.5 610.8L807.0 611.7L807.5 611.8L808.0 611.8L808.5 611.8L809.0 611.2L809.5 611.2L810.0 611.2L810.5 610.5L811.0 608.8L811.5 608.2L812.0 608.5L812.5 609.2L813.0 609.9L813.5 610.1L814.0 608.8L814.5 606.8L815.0 605.1L815.5 605.9L816.0 606.6L816.5 606.0L817.0 605.1L817.5 606.0L818.0 606.6L818.5 606.5L819.0 606.3L819.5 605.5L820.0 604.6L820.5 604.1L821.0 603.7L821.5 603.6L822.0 604.3L822.5 606.0L823.0 607.1L823.5 606.8" fill="none" stroke="#DDCC77" stroke-width="1.08" stroke-linejoin="round" stroke-linecap="round"/>
<path d="M162.0 658.8L162.5 659.2L163.0 659.6L163.5 660.5L164.0 662.3L164.5 663.4L165.0 663.4L165.5 664.0L166.0 664.9L166.5 665.3L167.0 665.6L167.5 666.3L168.0 668.0L168.5 669.2L169.0 669.3L169.5 670.1L170.0 673.9L170.5 679.6L171.0 677.1L171.5 673.6L172.0 672.6L172.5 675.1L173.0 675.6L173.5 671.5L174.0 672.3L174.5 676.6L175.0 679.3L175.5 675.4L176.0 676.3L176.5 686.2L177.0 706.4L177.5 731.3L178.0 744.8L178.5 738.1L179.0 722.8L179.5 716.8L180.0 717.3L180.5 708.3L181.0 691.2L181.5 677.9L182.0 672.6L182.5 672.2L183.0 674.5L183.5 675.9L184.0 675.8L184.5 675.4L185.0 676.2L185.5 675.9L186.0 675.9L186.5 675.8L187.0 676.0L187.5 675.8L188.0 676.0L188.5 677.0L189.0 678.1L189.5 678.5L190.0 677.9L190.5 677.4L191.0 678.4L191.5 679.4L192.0 678.8L192.5 678.0L193.0 677.5L193.5 677.8L194.0 678.4L194.5 679.3L195.0 680.0L195.5 680.3L196.0 680.8L196.5 681.4L197.0 681.5L197.5 680.5L198.0 680.2L198.5 680.1L199.0 679.4L199.5 679.2L200.0 680.3L200.5 680.6L201.0 680.3L201.5 679.8L202.0 679.8L202.5 680.1L203.0 680.4L203.5 680.9L204.0 681.3L204.5 680.9L205.0 680.5L205.5 680.2L206.0 679.9L206.5 679.4L207.0 679.5L207.5 680.4L208.0 681.4L208.5 681.3L209.0 680.4L209.5 679.9L210.0 680.1L210.5 680.4L211.0 680.2L211.5 679.9L212.0 680.1L212.5 680.9L213.0 681.9L213.5 683.5L214.0 686.2L214.5 690.1L215.0 695.8L215.5 702.2L216.0 706.4L216.5 706.5L217.0 702.4L217.5 696.5L218.0 690.4L218.5 685.6L219.0 682.9L219.5 681.9L220.0 680.7L220.5 680.1L221.0 680.4L221.5 680.7L222.0 680.7L222.5 680.9L223.0 680.9L223.5 681.1L224.0 681.2L224.5 680.7L225.0 680.1L225.5 679.9L226.0 679.8L226.5 679.7L227.0 679.1L227.5 678.9L228.0 679.2L228.5 679.0L229.0 679.2L229.5 679.8L230.0 680.1L230.5 680.3L231.0 679.9L231.5 679.4L232.0 679.3L232.5 679.5L233.0 679.8L233.5 680.0L234.0 679.8L234.5 679.6L235.0 679.5L235.5 679.6L236.0 680.1L236.5 681.0L237.0 681.3L237.5 680.9L238.0 680.2L238.5 680.6L239.0 681.2L239.5 680.9L240.0 680.3L240.5 680.7L241.0 680.8L241.5 680.3L242.0 680.3L242.5 680.7L243.0 680.3L243.5 680.3L244.0 680.3L244.5 680.8L245.0 682.2L245.5 683.4L246.0 684.4L246.5 684.7L247.0 683.8L247.5 683.1L248.0 682.7L248.5 681.7L249.0 680.9L249.5 680.6L250.0 680.5L250.5 680.8L251.0 681.2L251.5 680.9L252.0 680.3L252.5 679.4L253.0 679.6L253.5 680.4L254.0 680.8L254.5 680.9L255.0 680.7L255.5 680.3L256.0 680.3L256.5 679.9L257.0 679.9L257.5 680.4L258.0 680.4L258.5 680.9L259.0 681.3L259.5 680.8L260.0 680.6L260.5 681.0L261.0 681.8L261.5 683.2L262.0 685.3L262.5 687.2L263.0 687.8L263.5 686.6L264.0 684.8L264.5 682.6L265.0 681.1L265.5 680.8L266.0 680.9L266.5 680.8L267.0 680.8L267.5 680.6L268.0 680.6L268.5 680.8L269.0 681.3L269.5 681.3L270.0 681.8L270.5 681.8L271.0 681.2L271.5 680.6L272.0 680.4L272.5 680.7L273.0 681.1L273.5 680.8L274.0 681.0L274.5 681.0L275.0 680.7L275.5 680.7L276.0 681.0L276.5 681.4L277.0 681.6L277.5 681.8L278.0 681.7L278.5 681.3L279.0 681.1L279.5 681.0L280.0 680.5L280.5 680.4L281.0 681.1L281.5 681.3L282.0 680.8L282.5 680.7L283.0 680.7L283.5 680.5L284.0 680.0L284.5 679.8L285.0 680.2L285.5 680.6L286.0 680.8L286.5 681.2L287.0 681.3L287.5 681.4L288.0 681.0L288.5 680.8L289.0 681.2L289.5 681.8L290.0 682.1L290.5 681.5L291.0 680.7L291.5 681.0L292.0 681.3L292.5 680.9L293.0 680.6L293.5 680.7L294.0 681.0L294.5 681.0L295.0 681.4L295.5 681.7L296.0 681.4L296.5 681.0L297.0 680.9L297.5 680.9L298.0 680.4L298.5 679.7L299.0 679.7L299.5 680.3L300.0 680.1L300.5 679.5L301.0 679.6L301.5 680.4L302.0 681.2L302.5 681.2L303.0 680.6L303.5 680.2L304.0 680.6L304.5 681.6L305.0 683.0L305.5 684.3L306.0 685.8L306.5 687.2L307.0 688.4L307.5 688.9L308.0 688.1L308.5 686.2L309.0 684.3L309.5 682.8L310.0 681.9L310.5 681.4L311.0 681.3L311.5 681.8L312.0 682.4L312.5 682.1L313.0 682.0L313.5 681.7L314.0 681.0L314.5 680.5L315.0 680.7L315.5 681.3L316.0 682.0L316.5 682.0L317.0 681.5L317.5 682.0L318.0 682.6L318.5 682.0L319.0 681.5L319.5 682.0L320.0 682.3L320.5 682.1L321.0 681.4L321.5 681.4L322.0 681.9L322.5 682.2L323.0 683.0L323.5 684.7L324.0 686.4L324.5 687.4L325.0 688.0L325.5 687.4L326.0 685.8L326.5 684.2L327.0 683.1L327.5 682.3L328.0 681.8L328.5 681.4L329.0 681.7L329.5 682.3L330.0 682.2L330.5 681.4L331.0 680.6L331.5 680.7L332.0 681.0L332.5 681.4L333.0 682.1L333.5 682.7L334.0 682.7L334.5 682.8L335.0 683.3L335.5 683.0L336.0 681.4L336.5 680.3L337.0 680.5L337.5 680.4L338.0 680.3L338.5 680.5L339.0 680.7L339.5 681.2L340.0 681.7L340.5 681.8L341.0 681.4L341.5 681.0L342.0 680.6L342.5 680.6L343.0 680.7L343.5 681.0L344.0 680.3L344.5 679.9L345.0 680.0L345.5 680.3L346.0 681.0L346.5 681.8L347.0 681.0L347.5 680.3L348.0 680.4L348.5 681.3L349.0 681.9L349.5 682.1L350.0 682.1L350.5 681.6L351.0 681.1L351.5 680.3L352.0 679.9L352.5 680.2L353.0 681.3L353.5 682.0L354.0 682.4L354.5 682.5L355.0 682.7L355.5 682.7L356.0 682.5L356.5 682.2L357.0 682.5L357.5 683.2L358.0 683.7L358.5 684.1L359.0 684.4L359.5 684.5L360.0 684.0L360.5 683.6L361.0 683.3L361.5 683.4L362.0 683.3L362.5 683.5L363.0 683.6L363.5 683.8L364.0 683.8L364.5 684.2L365.0 684.7L365.5 684.6L366.0 683.6L366.5 683.2L367.0 683.8L367.5 684.2L368.0 683.9L368.5 683.6L369.0 683.2L369.5 682.6L370.0 682.5L370.5 683.0L371.0 683.4L371.5 683.3L372.0 683.0L372.5 682.8L373.0 682.9L373.5 683.0L374.0 683.2L374.5 683.2L375.0 683.4L375.5 683.8L376.0 684.1L376.5 684.1L377.0 684.2L377.5 684.0L378.0 684.0L378.5 684.2L379.0 684.0L379.5 683.6L380.0 683.8L380.5 684.4L381.0 684.6L381.5 684.2L382.0 683.9L382.5 684.0L383.0 684.3L383.5 684.4L384.0 683.8L384.5 683.1L385.0 683.2L385.5 683.7L386.0 684.3L386.5 684.8L387.0 685.6L387.5 686.7L388.0 687.0L388.5 686.8L389.0 688.3L389.5 691.0L390.0 694.0L390.5 697.8L391.0 702.6L391.5 709.2L392.0 717.0L392.5 724.1L393.0 729.5L393.5 732.7L394.0 733.9L394.5 732.4L395.0 728.3L395.5 722.0L396.0 714.9L396.5 708.0L397.0 703.0L397.5 700.7L398.0 701.4L398.5 705.0L399.0 711.8L399.5 720.3L400.0 728.4L400.5 733.1L401.0 734.6L401.5 733.7L402.0 732.0L402.5 730.3L403.0 729.1L403.5 727.2L404.0 723.8L404.5 718.3L405.0 711.6L405.5 704.7L406.0 698.2L406.5 692.4L407.0 688.6L407.5 687.0L408.0 686.0L408.5 685.1L409.0 684.3L409.5 684.6L410.0 684.7L410.5 684.4L411.0 684.2L411.5 684.1L412.0 683.7L412.5 683.7L413.0 683.7L413.5 684.1L414.0 684.6L414.5 684.2L415.0 683.4L415.5 682.9L416.0 683.2L416.5 684.6L417.0 686.5L417.5 688.0L418.0 689.7L418.5 691.7L419.0 692.7L419.5 692.2L420.0 690.5L420.5 688.5L421.0 686.4L421.5 685.1L422.0 685.2L422.5 685.8L423.0 685.3L423.5 684.8L424.0 684.8L424.5 685.0L425.0 684.9L425.5 684.5L426.0 683.8L426.5 683.9L427.0 683.9L427.5 684.1L428.0 684.3L428.5 684.3L429.0 683.8L429.5 683.6L430.0 683.7L430.5 683.9L431.0 683.7L431.5 683.0L432.0 682.7L432.5 683.1L433.0 683.6L433.5 683.7L434.0 683.7L434.5 683.6L435.0 683.5L435.5 683.1L436.0 683.0L436.5 682.5L437.0 682.6L437.5 682.9L438.0 682.7L438.5 681.8L439.0 681.8L439.5 682.4L440.0 682.8L440.5 682.4L441.0 682.0L441.5 682.8L442.0 683.9L442.5 684.6L443.0 685.1L443.5 685.8L444.0 686.2L444.5 685.9L445.0 684.9L445.5 684.0L446.0 683.5L446.5 683.0L447.0 682.3L447.5 682.3L448.0 682.8L448.5 683.0L449.0 682.7L449.5 682.1L450.0 682.2L450.5 682.7L451.0 683.3L451.5 683.5L452.0 683.0L452.5 682.6L453.0 682.5L453.5 682.9L454.0 683.2L454.5 683.0L455.0 682.7L455.5 682.6L456.0 682.4L456.5 682.0L457.0 681.7L457.5 681.8L458.0 682.2L458.5 682.9L459.0 683.2L459.5 682.6L460.0 681.9L460.5 681.2L461.0 680.6L461.5 680.9L462.0 681.6L462.5 681.9L463.0 682.7L463.5 683.0L464.0 682.8L464.5 682.9L465.0 682.9L465.5 682.7L466.0 682.7L466.5 682.6L467.0 682.7L467.5 683.3L468.0 684.2L468.5 685.4L469.0 686.5L469.5 686.4L470.0 685.3L470.5 684.4L471.0 683.3L471.5 682.7L472.0 682.7L472.5 682.7L473.0 682.3L473.5 682.4L474.0 682.9L474.5 684.0L475.0 684.7L475.5 685.1L476.0 685.1L476.5 684.3L477.0 683.0L477.5 681.9L478.0 681.3L478.5 681.4L479.0 682.0L479.5 682.7L480.0 682.7L480.5 682.1L481.0 681.5L481.5 681.1L482.0 681.5L482.5 682.3L483.0 682.5L483.5 682.6L484.0 682.6L484.5 682.5L485.0 682.6L485.5 682.5L486.0 682.2L486.5 682.4L487.0 682.8L487.5 682.8L488.0 682.6L488.5 682.5L489.0 682.1L489.5 681.0L490.0 680.6L490.5 681.1L491.0 681.8L491.5 681.5L492.0 680.8L492.5 680.7L493.0 681.2L493.5 681.3L494.0 680.8L494.5 680.4L495.0 680.7L495.5 681.4L496.0 681.6L496.5 681.1L497.0 680.7L497.5 680.3L498.0 680.7L498.5 681.3L499.0 682.3L499.5 683.0L500.0 682.8L500.5 682.3L501.0 682.4L501.5 681.8L502.0 680.4L502.5 679.8L503.0 680.6L503.5 681.6L504.0 681.7L504.5 680.9L505.0 680.5L505.5 680.8L506.0 680.9L506.5 680.5L507.0 680.3L507.5 680.7L508.0 681.3L508.5 682.0L509.0 682.9L509.5 683.5L510.0 683.5L510.5 683.3L511.0 682.5L511.5 681.6L512.0 681.7L512.5 681.9L513.0 681.7L513.5 681.9L514.0 681.6L514.5 681.4L515.0 680.8L515.5 680.8L516.0 681.8L516.5 682.6L517.0 682.4L517.5 682.1L518.0 681.4L518.5 681.2L519.0 681.7L519.5 681.8L520.0 681.0L520.5 680.4L521.0 680.7L521.5 681.4L522.0 681.8L522.5 681.3L523.0 681.6L523.5 682.1L524.0 681.7L524.5 680.6L525.0 679.9L525.5 679.9L526.0 680.7L526.5 681.4L527.0 681.8L527.5 681.6L528.0 681.3L528.5 681.5L529.0 682.8L529.5 683.9L530.0 683.3L530.5 682.0L531.0 681.4L531.5 680.6L532.0 680.3L532.5 680.8L533.0 682.2L533.5 682.7L534.0 682.1L534.5 682.0L535.0 682.6L535.5 682.4L536.0 681.8L536.5 681.3L537.0 681.8L537.5 682.5L538.0 682.3L538.5 682.0L539.0 682.5L539.5 682.8L540.0 682.8L540.5 682.6L541.0 682.4L541.5 682.0L542.0 682.0L542.5 682.5L543.0 682.8L543.5 682.2L544.0 681.5L544.5 681.7L545.0 682.2L545.5 682.4L546.0 682.4L546.5 682.1L547.0 682.2L547.5 682.4L548.0 682.6L548.5 682.6L549.0 682.6L549.5 682.8L550.0 682.6L550.5 682.4L551.0 682.6L551.5 682.2L552.0 681.6L552.5 681.6L553.0 681.9L553.5 682.1L554.0 682.2L554.5 682.8L555.0 683.4L555.5 683.6L556.0 683.4L556.5 682.8L557.0 682.7L557.5 683.0L558.0 683.5L558.5 683.4L559.0 683.3L559.5 683.4L560.0 683.4L560.5 682.7L561.0 682.4L561.5 682.8L562.0 683.2L562.5 683.1L563.0 682.9L563.5 682.6L564.0 682.8L564.5 683.3L565.0 683.2L565.5 683.1L566.0 683.2L566.5 683.4L567.0 683.5L567.5 683.5L568.0 684.0L568.5 684.5L569.0 684.9L569.5 685.3L570.0 686.5L570.5 688.4L571.0 690.4L571.5 691.6L572.0 692.3L572.5 691.9L573.0 690.3L573.5 687.8L574.0 685.2L574.5 683.9L575.0 683.6L575.5 683.6L576.0 683.6L576.5 683.4L577.0 683.2L577.5 683.4L578.0 683.3L578.5 683.0L579.0 683.5L579.5 684.1L580.0 684.0L580.5 684.0L581.0 684.4L581.5 684.9L582.0 686.0L582.5 687.2L583.0 686.9L583.5 685.7L584.0 685.1L584.5 684.8L585.0 684.1L585.5 683.8L586.0 683.6L586.5 683.1L587.0 682.8L587.5 682.2L588.0 681.9L588.5 682.2L589.0 682.9L589.5 683.8L590.0 684.3L590.5 684.0L591.0 683.6L591.5 683.7L592.0 684.0L592.5 683.7L593.0 682.9L593.5 682.1L594.0 682.2L594.5 682.7L595.0 682.9L595.5 682.2L596.0 681.8L596.5 681.9L597.0 682.2L597.5 683.0L598.0 684.5L598.5 685.9L599.0 686.5L599.5 686.0L600.0 685.4L600.5 685.3L601.0 684.8L601.5 684.5L602.0 684.5L602.5 684.3L603.0 683.5L603.5 682.9L604.0 683.0L604.5 683.5L605.0 683.7L605.5 683.4L606.0 683.8L606.5 684.1L607.0 684.2L607.5 684.2L608.0 684.2L608.5 683.7L609.0 684.1L609.5 684.8L610.0 684.4L610.5 683.8L611.0 683.8L611.5 684.2L612.0 684.6L612.5 685.0L613.0 684.5L613.5 683.9L614.0 683.4L614.5 684.0L615.0 684.7L615.5 684.5L616.0 683.9L616.5 683.7L617.0 683.2L617.5 682.7L618.0 682.6L618.5 682.9L619.0 683.6L619.5 684.4L620.0 685.5L620.5 686.5L621.0 686.4L621.5 685.0L622.0 683.7L622.5 683.2L623.0 683.7L623.5 684.9L624.0 685.8L624.5 685.9L625.0 685.7L625.5 684.9L626.0 684.0L626.5 683.6L627.0 683.8L627.5 683.6L628.0 682.7L628.5 682.1L629.0 682.4L629.5 683.0L630.0 683.6L630.5 683.8L631.0 683.9L631.5 683.9L632.0 683.8L632.5 683.5L633.0 683.1L633.5 682.5L634.0 682.3L634.5 682.9L635.0 683.3L635.5 682.8L636.0 682.7L636.5 682.8L637.0 682.6L637.5 682.8L638.0 683.2L638.5 683.1L639.0 682.6L639.5 682.0L640.0 682.1L640.5 682.5L641.0 682.8L641.5 683.0L642.0 683.0L642.5 682.6L643.0 682.3L643.5 682.2L644.0 682.3L644.5 682.3L645.0 682.0L645.5 681.7L646.0 681.5L646.5 681.4L647.0 681.6L647.5 681.7L648.0 681.6L648.5 681.8L649.0 682.3L649.5 682.7L650.0 682.7L650.5 682.1L651.0 681.6L651.5 681.9L652.0 682.8L652.5 683.6L653.0 683.9L653.5 683.6L654.0 683.4L654.5 683.3L655.0 684.5L655.5 686.8L656.0 689.1L656.5 689.9L657.0 689.0L657.5 687.5L658.0 685.7L658.5 684.1L659.0 682.9L659.5 682.5L660.0 682.5L660.5 682.5L661.0 682.9L661.5 683.3L662.0 683.6L662.5 683.4L663.0 682.9L663.5 682.5L664.0 682.6L664.5 682.4L665.0 682.2L665.5 682.4L666.0 682.4L666.5 682.1L667.0 682.7L667.5 683.2L668.0 683.1L668.5 682.7L669.0 683.0L669.5 682.9L670.0 682.1L670.5 681.7L671.0 682.5L671.5 683.1L672.0 684.2L672.5 685.1L673.0 685.5L673.5 685.7L674.0 685.9L674.5 685.7L675.0 685.3L675.5 684.3L676.0 683.3L676.5 683.2L677.0 683.6L677.5 683.3L678.0 682.6L678.5 682.2L679.0 682.3L679.5 682.1L680.0 681.7L680.5 681.7L681.0 681.8L681.5 681.8L682.0 681.5L682.5 681.6L683.0 681.5L683.5 681.1L684.0 680.7L684.5 680.8L685.0 681.0L685.5 681.3L686.0 681.7L686.5 682.1L687.0 682.1L687.5 681.5L688.0 681.4L688.5 681.5L689.0 681.5L689.5 681.6L690.0 682.1L690.5 682.7L691.0 682.6L691.5 681.9L692.0 681.8L692.5 682.3L693.0 682.1L693.5 681.6L694.0 681.8L694.5 682.3L695.0 682.5L695.5 682.3L696.0 682.4L696.5 683.4L697.0 684.2L697.5 684.2L698.0 683.9L698.5 683.6L699.0 683.0L699.5 682.0L700.0 681.3L700.5 681.1L701.0 681.7L701.5 683.5L702.0 686.4L702.5 690.1L703.0 694.1L703.5 697.3L704.0 699.3L704.5 699.0L705.0 695.9L705.5 691.9L706.0 688.3L706.5 686.1L707.0 684.7L707.5 683.5L708.0 682.4L708.5 682.2L709.0 682.9L709.5 683.3L710.0 682.3L710.5 681.1L711.0 680.4L711.5 680.5L712.0 681.5L712.5 682.2L713.0 682.2L713.5 682.3L714.0 682.6L714.5 682.6L715.0 682.7L715.5 683.0L716.0 683.6L716.5 684.5L717.0 686.2L717.5 688.9L718.0 692.4L718.5 694.7L719.0 694.7L719.5 693.1L720.0 690.1L720.5 686.7L721.0 684.3L721.5 683.0L722.0 682.5L722.5 682.4L723.0 682.2L723.5 682.2L724.0 682.7L724.5 683.2L725.0 683.5L725.5 683.5L726.0 683.1L726.5 682.5L727.0 682.4L727.5 683.0L728.0 683.6L728.5 683.5L729.0 683.0L729.5 683.1L730.0 683.4L730.5 683.7L731.0 683.5L731.5 683.5L732.0 684.0L732.5 684.2L733.0 683.8L733.5 683.3L734.0 683.1L734.5 683.5L735.0 683.4L735.5 683.4L736.0 683.4L736.5 683.5L737.0 683.3L737.5 682.1L738.0 681.5L738.5 681.8L739.0 681.9L739.5 682.4L740.0 683.0L740.5 683.3L741.0 683.1L741.5 683.2L742.0 683.5L742.5 683.8L743.0 683.8L743.5 683.7L744.0 683.5L744.5 683.6L745.0 683.2L745.5 682.6L746.0 682.6L746.5 683.2L747.0 683.5L747.5 683.7L748.0 683.7L748.5 683.9L749.0 684.1L749.5 683.9L750.0 683.5L750.5 684.0L751.0 684.5L751.5 683.8L752.0 683.0L752.5 683.5L753.0 683.7L753.5 683.5L754.0 683.5L754.5 683.5L755.0 683.7L755.5 683.8L756.0 683.8L756.5 683.8L757.0 684.0L757.5 684.7L758.0 686.3L758.5 689.2L759.0 693.1L759.5 697.1L760.0 701.0L760.5 704.5L761.0 706.4L761.5 705.9L762.0 703.1L762.5 698.8L763.0 693.9L763.5 689.8L764.0 687.3L764.5 685.5L765.0 684.0L765.5 683.4L766.0 683.6L766.5 684.0L767.0 684.1L767.5 683.3L768.0 682.8L768.5 682.7L769.0 682.9L769.5 683.6L770.0 684.3L770.5 684.0L771.0 683.3L771.5 682.9L772.0 683.2L772.5 683.4L773.0 683.5L773.5 683.6L774.0 683.9L774.5 684.0L775.0 683.7L775.5 683.5L776.0 683.5L776.5 683.3L777.0 683.6L777.5 684.0L778.0 684.3L778.5 686.6L779.0 690.0L779.5 690.1L780.0 686.9L780.5 684.4L781.0 683.5L781.5 683.0L782.0 683.2L782.5 683.5L783.0 683.0L783.5 682.7L784.0 683.2L784.5 683.9L785.0 683.9L785.5 683.1L786.0 683.0L786.5 683.1L787.0 683.0L787.5 682.6L788.0 682.8L788.5 682.7L789.0 682.4L789.5 682.7L790.0 683.7L790.5 683.9L791.0 683.6L791.5 682.9L792.0 682.8L792.5 683.1L793.0 682.8L793.5 682.3L794.0 682.2L794.5 682.3L795.0 681.9L795.5 682.0L796.0 682.0L796.5 681.6L797.0 681.7L797.5 682.5L798.0 682.5L798.5 682.8L799.0 684.7L799.5 688.4L800.0 690.6L800.5 688.5L801.0 685.3L801.5 683.3L802.0 681.8L802.5 681.1L803.0 681.7L803.5 682.6L804.0 683.0L804.5 681.9L805.0 681.2L805.5 680.8L806.0 681.5L806.5 682.4L807.0 683.2L807.5 683.1L808.0 682.2L808.5 680.5L809.0 680.2L809.5 680.6L810.0 680.3L810.5 679.5L811.0 679.8L811.5 680.0L812.0 679.2L812.5 679.0L813.0 679.3L813.5 679.3L814.0 679.0L814.5 678.4L815.0 677.8L815.5 678.3L816.0 678.6L816.5 678.6L817.0 677.9L817.5 677.0L818.0 676.8L818.5 676.8L819.0 676.1L819.5 675.3L820.0 674.6L820.5 674.8L821.0 674.5L821.5 673.3L822.0 672.4L822.5 672.6L823.0 673.4L823.5 673.0" fill="none" stroke="#CC6677" stroke-width="1.08" stroke-linejoin="round" stroke-linecap="round"/>
<path d="M162.0 725.7L162.5 729.9L163.0 733.1L163.5 733.7L164.0 733.2L164.5 732.4L165.0 732.5L165.5 733.2L166.0 732.7L166.5 732.6L167.0 733.6L167.5 735.2L168.0 737.0L168.5 737.8L169.0 738.4L169.5 739.8L170.0 743.0L170.5 748.2L171.0 744.9L171.5 740.2L172.0 740.1L172.5 744.8L173.0 748.1L173.5 744.4L174.0 743.0L174.5 746.8L175.0 750.5L175.5 745.7L176.0 744.7L176.5 750.7L177.0 769.5L177.5 799.8L178.0 815.9L178.5 799.3L179.0 772.7L179.5 769.6L180.0 783.6L180.5 772.9L181.0 752.4L181.5 745.4L182.0 744.8L182.5 745.4L183.0 746.4L183.5 744.9L184.0 743.1L184.5 742.7L185.0 742.2L185.5 742.3L186.0 743.9L186.5 745.3L187.0 746.7L187.5 746.8L188.0 745.3L188.5 745.6L189.0 747.3L189.5 748.3L190.0 749.2L190.5 749.8L191.0 749.6L191.5 749.4L192.0 748.8L192.5 748.8L193.0 748.7L193.5 749.0L194.0 750.3L194.5 750.8L195.0 750.7L195.5 751.0L196.0 750.9L196.5 750.5L197.0 750.3L197.5 750.4L198.0 750.8L198.5 750.5L199.0 750.4L199.5 750.3L200.0 750.1L200.5 749.6L201.0 749.5L201.5 750.0L202.0 750.1L202.5 750.1L203.0 749.7L203.5 749.1L204.0 748.6L204.5 749.0L205.0 748.8L205.5 748.3L206.0 748.1L206.5 749.6L207.0 751.2L207.5 751.6L208.0 751.3L208.5 751.4L209.0 750.7L209.5 750.4L210.0 751.2L210.5 752.1L211.0 752.9L211.5 754.0L212.0 755.0L212.5 755.6L213.0 756.6L213.5 760.7L214.0 767.6L214.5 773.9L215.0 778.3L215.5 781.3L216.0 781.7L216.5 778.0L217.0 772.0L217.5 765.7L218.0 759.7L218.5 754.9L219.0 751.7L219.5 749.5L220.0 749.2L220.5 750.7L221.0 752.2L221.5 752.4L222.0 754.0L222.5 757.1L223.0 759.7L223.5 760.0L224.0 757.9L224.5 754.4L225.0 751.3L225.5 749.1L226.0 749.2L226.5 749.9L227.0 750.3L227.5 750.7L228.0 750.5L228.5 749.8L229.0 749.6L229.5 749.7L230.0 749.9L230.5 750.2L231.0 750.6L231.5 750.3L232.0 749.5L232.5 749.1L233.0 749.3L233.5 749.3L234.0 749.1L234.5 749.0L235.0 749.8L235.5 750.5L236.0 750.3L236.5 750.2L237.0 750.7L237.5 751.7L238.0 752.0L238.5 752.5L239.0 753.4L239.5 753.9L240.0 753.0L240.5 752.5L241.0 753.1L241.5 753.7L242.0 753.0L242.5 752.5L243.0 752.3L243.5 752.3L244.0 752.1L244.5 752.0L245.0 753.1L245.5 754.2L246.0 755.2L246.5 757.1L247.0 758.8L247.5 759.4L248.0 759.2L248.5 758.5L249.0 756.7L249.5 753.8L250.0 751.9L250.5 751.4L251.0 751.8L251.5 752.0L252.0 752.5L252.5 753.3L253.0 753.2L253.5 752.3L254.0 751.5L254.5 751.6L255.0 751.9L255.5 752.0L256.0 751.7L256.5 751.3L257.0 751.0L257.5 751.1L258.0 750.8L258.5 750.7L259.0 750.6L259.5 750.8L260.0 752.1L260.5 754.7L261.0 758.0L261.5 761.7L262.0 764.3L262.5 764.7L263.0 762.5L263.5 758.8L264.0 756.0L264.5 754.3L265.0 752.9L265.5 751.9L266.0 751.0L266.5 750.9L267.0 750.6L267.5 750.8L268.0 751.6L268.5 752.2L269.0 752.0L269.5 751.5L270.0 751.1L270.5 751.1L271.0 751.5L271.5 751.7L272.0 751.4L272.5 751.6L273.0 752.4L273.5 752.1L274.0 751.9L274.5 752.3L275.0 752.3L275.5 751.5L276.0 751.0L276.5 751.2L277.0 751.7L277.5 751.9L278.0 751.8L278.5 751.7L279.0 752.1L279.5 752.2L280.0 752.4L280.5 752.9L281.0 753.0L281.5 752.6L282.0 752.7L282.5 752.3L283.0 751.5L283.5 750.9L284.0 751.6L284.5 752.3L285.0 752.6L285.5 752.3L286.0 752.2L286.5 753.0L287.0 753.5L287.5 752.9L288.0 752.5L288.5 752.2L289.0 752.0L289.5 752.3L290.0 752.6L290.5 752.3L291.0 752.2L291.5 752.1L292.0 752.1L292.5 751.9L293.0 752.7L293.5 752.8L294.0 752.0L294.5 751.8L295.0 752.4L295.5 753.1L296.0 753.4L296.5 753.3L297.0 753.1L297.5 753.8L298.0 753.6L298.5 752.9L299.0 752.6L299.5 752.8L300.0 752.2L300.5 751.9L301.0 752.2L301.5 752.2L302.0 752.0L302.5 752.4L303.0 752.7L303.5 751.9L304.0 751.4L304.5 752.5L305.0 754.7L305.5 757.2L306.0 760.8L306.5 764.7L307.0 766.6L307.5 766.3L308.0 764.0L308.5 759.7L309.0 755.9L309.5 754.5L310.0 754.1L310.5 754.1L311.0 754.7L311.5 754.5L312.0 753.4L312.5 752.1L313.0 752.2L313.5 752.8L314.0 753.2L314.5 752.7L315.0 752.2L315.5 752.6L316.0 753.5L316.5 754.9L317.0 755.9L317.5 756.0L318.0 756.1L318.5 756.0L319.0 755.7L319.5 755.4L320.0 755.1L320.5 754.9L321.0 754.4L321.5 754.7L322.0 756.1L322.5 758.1L323.0 760.4L323.5 762.9L324.0 765.6L324.5 768.1L325.0 769.5L325.5 769.3L326.0 766.7L326.5 762.9L327.0 758.8L327.5 756.0L328.0 755.1L328.5 754.6L329.0 754.7L329.5 755.3L330.0 756.1L330.5 756.6L331.0 757.2L331.5 757.7L332.0 756.9L332.5 754.7L333.0 753.0L333.5 753.1L334.0 753.9L334.5 754.2L335.0 753.7L335.5 753.7L336.0 753.9L336.5 753.8L337.0 752.7L337.5 751.8L338.0 751.8L338.5 752.5L339.0 753.1L339.5 753.2L340.0 752.5L340.5 751.9L341.0 752.1L341.5 752.4L342.0 752.4L342.5 752.5L343.0 753.1L343.5 754.0L344.0 753.2L344.5 751.8L345.0 752.5L345.5 753.7L346.0 753.8L346.5 753.8L347.0 754.3L347.5 754.4L348.0 753.6L348.5 753.3L349.0 754.1L349.5 754.2L350.0 753.9L350.5 753.7L351.0 753.5L351.5 753.6L352.0 752.9L352.5 752.4L353.0 753.2L353.5 753.6L354.0 753.2L354.5 753.2L355.0 753.4L355.5 753.6L356.0 753.9L356.5 754.7L357.0 754.9L357.5 754.4L358.0 754.6L358.5 755.4L359.0 756.8L359.5 758.4L360.0 758.7L360.5 757.8L361.0 756.7L361.5 755.6L362.0 755.2L362.5 755.0L363.0 754.5L363.5 754.0L364.0 753.3L364.5 753.5L365.0 754.8L365.5 755.3L366.0 755.1L366.5 755.3L367.0 755.6L367.5 755.5L368.0 755.5L368.5 756.1L369.0 757.0L369.5 756.9L370.0 756.3L370.5 755.8L371.0 755.5L371.5 755.7L372.0 755.5L372.5 755.5L373.0 755.7L373.5 755.7L374.0 755.0L374.5 754.7L375.0 754.9L375.5 755.3L376.0 755.2L376.5 754.7L377.0 753.5L377.5 753.2L378.0 754.0L378.5 754.5L379.0 754.5L379.5 754.3L380.0 755.2L380.5 756.7L381.0 756.8L381.5 755.7L382.0 755.2L382.5 754.9L383.0 754.8L383.5 755.1L384.0 754.8L384.5 754.8L385.0 754.9L385.5 754.8L386.0 754.9L386.5 755.5L387.0 755.5L387.5 755.6L388.0 755.9L388.5 756.6L389.0 757.0L389.5 757.1L390.0 758.1L390.5 760.9L391.0 764.4L391.5 769.6L392.0 776.3L392.5 784.8L393.0 793.9L393.5 800.4L394.0 802.1L394.5 799.1L395.0 791.6L395.5 782.0L396.0 773.2L396.5 766.7L397.0 762.5L397.5 761.6L398.0 764.6L398.5 770.1L399.0 778.5L399.5 789.7L400.0 799.4L400.5 802.1L401.0 796.9L401.5 788.9L402.0 783.8L402.5 785.1L403.0 791.8L403.5 796.6L404.0 793.7L404.5 784.5L405.0 773.1L405.5 763.7L406.0 758.6L406.5 755.6L407.0 753.8L407.5 754.0L408.0 755.2L408.5 755.8L409.0 755.2L409.5 754.7L410.0 754.5L410.5 754.7L411.0 754.4L411.5 754.6L412.0 754.4L412.5 754.5L413.0 754.2L413.5 754.2L414.0 755.1L414.5 755.6L415.0 755.2L415.5 755.3L416.0 756.4L416.5 757.5L417.0 759.4L417.5 763.3L418.0 768.4L418.5 772.0L419.0 773.4L419.5 772.7L420.0 769.3L420.5 764.3L421.0 760.5L421.5 758.2L422.0 756.7L422.5 757.1L423.0 757.0L423.5 756.2L424.0 756.1L424.5 756.5L425.0 755.9L425.5 755.5L426.0 756.0L426.5 756.4L427.0 756.3L427.5 756.1L428.0 755.8L428.5 755.0L429.0 754.7L429.5 754.7L430.0 755.6L430.5 756.2L431.0 756.6L431.5 755.7L432.0 754.6L432.5 754.6L433.0 756.3L433.5 756.6L434.0 755.6L434.5 754.9L435.0 754.2L435.5 752.5L436.0 751.1L436.5 751.4L437.0 752.8L437.5 753.7L438.0 754.0L438.5 753.8L439.0 753.1L439.5 753.1L440.0 753.8L440.5 753.6L441.0 753.3L441.5 753.9L442.0 755.5L442.5 757.7L443.0 759.9L443.5 761.7L444.0 762.6L444.5 761.0L445.0 758.0L445.5 755.8L446.0 754.9L446.5 754.8L447.0 755.4L447.5 755.8L448.0 755.5L448.5 754.5L449.0 754.0L449.5 753.5L450.0 753.5L450.5 754.0L451.0 754.7L451.5 755.0L452.0 754.9L452.5 754.6L453.0 754.5L453.5 754.2L454.0 753.8L454.5 753.5L455.0 753.3L455.5 752.8L456.0 752.8L456.5 752.8L457.0 752.3L457.5 751.7L458.0 751.6L458.5 751.8L459.0 752.1L459.5 751.8L460.0 752.3L460.5 753.4L461.0 753.7L461.5 753.4L462.0 753.6L462.5 754.2L463.0 754.4L463.5 754.4L464.0 753.7L464.5 753.4L465.0 753.8L465.5 754.9L466.0 755.2L466.5 755.0L467.0 755.2L467.5 756.3L468.0 758.4L468.5 762.2L469.0 764.8L469.5 764.5L470.0 761.2L470.5 757.4L471.0 755.0L471.5 754.5L472.0 754.6L472.5 754.0L473.0 753.1L473.5 753.2L474.0 754.1L474.5 754.9L475.0 756.0L475.5 757.5L476.0 759.1L476.5 759.3L477.0 758.7L477.5 757.6L478.0 756.2L478.5 754.9L479.0 753.9L479.5 753.1L480.0 753.0L480.5 754.3L481.0 755.6L481.5 755.9L482.0 755.6L482.5 755.2L483.0 754.7L483.5 754.3L484.0 753.3L484.5 752.4L485.0 751.8L485.5 751.6L486.0 751.8L486.5 752.6L487.0 753.3L487.5 753.2L488.0 752.9L488.5 752.6L489.0 753.2L489.5 754.5L490.0 754.9L490.5 754.6L491.0 754.3L491.5 753.8L492.0 753.7L492.5 753.5L493.0 753.2L493.5 753.2L494.0 753.0L494.5 753.2L495.0 753.6L495.5 753.3L496.0 753.3L496.5 753.2L497.0 752.8L497.5 752.8L498.0 753.5L498.5 755.2L499.0 757.6L499.5 758.9L500.0 759.6L500.5 758.8L501.0 756.7L501.5 754.7L502.0 753.8L502.5 753.3L503.0 752.5L503.5 752.0L504.0 752.5L504.5 753.0L505.0 753.6L505.5 753.9L506.0 753.8L506.5 754.1L507.0 754.5L507.5 755.2L508.0 755.7L508.5 756.7L509.0 758.1L509.5 759.2L510.0 758.7L510.5 756.7L511.0 755.2L511.5 754.4L512.0 753.9L512.5 753.4L513.0 752.9L513.5 752.9L514.0 753.2L514.5 753.4L515.0 752.9L515.5 752.7L516.0 753.2L516.5 753.7L517.0 753.4L517.5 752.9L518.0 752.7L518.5 753.2L519.0 754.3L519.5 754.6L520.0 754.3L520.5 753.8L521.0 753.2L521.5 752.5L522.0 752.3L522.5 752.7L523.0 753.6L523.5 753.2L524.0 752.5L524.5 752.5L525.0 752.5L525.5 752.2L526.0 752.5L526.5 752.9L527.0 753.1L527.5 753.4L528.0 753.1L528.5 753.8L529.0 755.5L529.5 756.3L530.0 756.0L530.5 755.1L531.0 753.6L531.5 753.7L532.0 754.6L532.5 754.3L533.0 753.4L533.5 752.7L534.0 752.7L534.5 753.6L535.0 753.3L535.5 753.0L536.0 753.5L536.5 753.6L537.0 752.8L537.5 752.7L538.0 752.6L538.5 752.7L539.0 753.0L539.5 753.8L540.0 754.0L540.5 754.0L541.0 754.1L541.5 754.4L542.0 753.4L542.5 752.2L543.0 752.2L543.5 752.7L544.0 753.0L544.5 753.5L545.0 754.2L545.5 754.2L546.0 753.5L546.5 753.0L547.0 753.1L547.5 753.5L548.0 753.6L548.5 753.1L549.0 753.1L549.5 753.5L550.0 753.9L550.5 754.1L551.0 754.2L551.5 753.7L552.0 753.5L552.5 754.0L553.0 754.3L553.5 754.3L554.0 754.7L554.5 754.7L555.0 753.8L555.5 753.2L556.0 753.7L556.5 754.1L557.0 753.9L557.5 753.9L558.0 754.0L558.5 754.1L559.0 753.8L559.5 753.8L560.0 754.0L560.5 753.6L561.0 753.3L561.5 753.8L562.0 755.1L562.5 755.7L563.0 755.3L563.5 754.7L564.0 753.9L564.5 753.6L565.0 754.6L565.5 755.5L566.0 755.2L566.5 755.0L567.0 755.6L567.5 755.9L568.0 755.0L568.5 754.2L569.0 754.8L569.5 756.7L570.0 759.5L570.5 763.3L571.0 767.8L571.5 772.1L572.0 774.2L572.5 771.6L573.0 766.6L573.5 762.5L574.0 759.5L574.5 757.3L575.0 755.8L575.5 755.5L576.0 755.3L576.5 754.4L577.0 753.5L577.5 753.6L578.0 753.8L578.5 754.3L579.0 754.2L579.5 754.0L580.0 755.6L580.5 757.8L581.0 759.1L581.5 759.5L582.0 759.7L582.5 760.3L583.0 760.1L583.5 758.1L584.0 756.0L584.5 755.5L585.0 755.4L585.5 755.7L586.0 755.4L586.5 754.6L587.0 754.0L587.5 754.1L588.0 754.1L588.5 753.9L589.0 753.5L589.5 753.5L590.0 753.7L590.5 754.5L591.0 755.3L591.5 755.2L592.0 754.9L592.5 754.4L593.0 754.4L593.5 754.7L594.0 754.8L594.5 754.8L595.0 754.5L595.5 754.4L596.0 754.8L596.5 755.0L597.0 755.7L597.5 757.6L598.0 759.3L598.5 759.5L599.0 759.1L599.5 758.7L600.0 757.8L600.5 756.7L601.0 756.4L601.5 756.7L602.0 756.0L602.5 754.5L603.0 754.3L603.5 755.1L604.0 756.1L604.5 756.3L605.0 756.3L605.5 756.0L606.0 755.1L606.5 754.1L607.0 754.4L607.5 754.4L608.0 754.1L608.5 753.6L609.0 753.5L609.5 754.5L610.0 755.5L610.5 755.3L611.0 754.5L611.5 754.3L612.0 754.4L612.5 755.3L613.0 755.9L613.5 756.0L614.0 755.9L614.5 755.7L615.0 755.1L615.5 755.0L616.0 755.2L616.5 754.9L617.0 754.8L617.5 754.5L618.0 754.4L618.5 755.5L619.0 756.7L619.5 757.8L620.0 759.3L620.5 759.9L621.0 759.1L621.5 757.7L622.0 755.9L622.5 755.2L623.0 756.6L623.5 760.1L624.0 763.0L624.5 762.8L625.0 760.0L625.5 757.1L626.0 755.9L626.5 756.2L627.0 756.1L627.5 755.5L628.0 754.7L628.5 754.3L629.0 754.6L629.5 755.3L630.0 756.4L630.5 756.9L631.0 756.4L631.5 756.2L632.0 756.4L632.5 756.1L633.0 755.8L633.5 756.2L634.0 756.6L634.5 756.1L635.0 755.7L635.5 755.0L636.0 754.6L636.5 755.1L637.0 755.9L637.5 756.7L638.0 756.8L638.5 756.2L639.0 755.0L639.5 754.4L640.0 754.7L640.5 755.1L641.0 754.8L641.5 755.0L642.0 755.6L642.5 755.8L643.0 755.2L643.5 754.5L644.0 753.4L644.5 753.2L645.0 754.1L645.5 754.6L646.0 754.7L646.5 754.6L647.0 754.1L647.5 753.7L648.0 753.7L648.5 754.5L649.0 754.9L649.5 754.9L650.0 754.2L650.5 753.6L651.0 753.7L651.5 754.5L652.0 754.6L652.5 754.4L653.0 754.2L653.5 754.4L654.0 754.9L654.5 756.2L655.0 758.1L655.5 760.8L656.0 763.6L656.5 765.0L657.0 763.7L657.5 761.0L658.0 758.1L658.5 756.1L659.0 754.7L659.5 753.7L660.0 752.9L660.5 753.3L661.0 753.9L661.5 754.5L662.0 755.3L662.5 755.9L663.0 756.4L663.5 756.6L664.0 756.2L664.5 755.3L665.0 754.2L665.5 753.9L666.0 754.4L666.5 754.7L667.0 754.9L667.5 754.3L668.0 754.0L668.5 754.6L669.0 754.7L669.5 754.4L670.0 754.3L670.5 754.7L671.0 754.9L671.5 754.6L672.0 755.2L672.5 756.0L673.0 756.7L673.5 757.2L674.0 757.1L674.5 756.8L675.0 756.4L675.5 755.9L676.0 755.5L676.5 754.2L677.0 752.8L677.5 752.3L678.0 752.4L678.5 753.1L679.0 753.4L679.5 753.7L680.0 754.0L680.5 753.7L681.0 752.9L681.5 752.9L682.0 753.2L682.5 753.2L683.0 752.4L683.5 752.5L684.0 752.8L684.5 753.3L685.0 754.1L685.5 754.3L686.0 753.8L686.5 754.3L687.0 754.7L687.5 755.0L688.0 754.7L688.5 753.9L689.0 753.3L689.5 753.5L690.0 753.7L690.5 753.8L691.0 753.9L691.5 753.5L692.0 753.6L692.5 753.4L693.0 753.0L693.5 752.9L694.0 753.0L694.5 753.3L695.0 753.7L695.5 754.3L696.0 755.1L696.5 756.1L697.0 756.6L697.5 757.4L698.0 757.8L698.5 757.4L699.0 756.1L699.5 755.0L700.0 753.8L700.5 753.5L701.0 753.9L701.5 754.8L702.0 756.7L702.5 759.3L703.0 762.6L703.5 767.2L704.0 771.2L704.5 772.7L705.0 771.2L705.5 767.1L706.0 761.8L706.5 758.0L707.0 755.4L707.5 753.2L708.0 752.1L708.5 751.9L709.0 752.5L709.5 752.9L710.0 752.9L710.5 752.8L711.0 752.4L711.5 752.1L712.0 752.5L712.5 753.2L713.0 754.2L713.5 754.8L714.0 754.1L714.5 752.8L715.0 752.1L715.5 751.9L716.0 752.6L716.5 755.1L717.0 759.0L717.5 763.7L718.0 767.7L718.5 769.1L719.0 767.2L719.5 763.8L720.0 760.1L720.5 756.6L721.0 754.4L721.5 754.0L722.0 754.4L722.5 754.6L723.0 754.2L723.5 753.9L724.0 754.1L724.5 754.3L725.0 754.6L725.5 753.9L726.0 753.3L726.5 753.8L727.0 754.9L727.5 755.1L728.0 755.0L728.5 755.0L729.0 755.5L729.5 755.6L730.0 755.4L730.5 755.2L731.0 754.4L731.5 754.8L732.0 755.0L732.5 754.3L733.0 754.0L733.5 754.7L734.0 755.6L734.5 755.9L735.0 755.5L735.5 755.4L736.0 755.2L736.5 754.5L737.0 754.0L737.5 753.6L738.0 754.1L738.5 754.5L739.0 754.5L739.5 754.8L740.0 754.8L740.5 754.2L741.0 754.0L741.5 754.1L742.0 754.5L742.5 754.9L743.0 755.7L743.5 756.2L744.0 756.1L744.5 755.4L745.0 755.0L745.5 755.0L746.0 754.8L746.5 754.5L747.0 754.0L747.5 754.4L748.0 754.7L748.5 754.6L749.0 755.0L749.5 755.2L750.0 754.9L750.5 754.7L751.0 754.3L751.5 754.6L752.0 755.1L752.5 755.3L753.0 756.2L753.5 757.1L754.0 757.3L754.5 757.5L755.0 758.6L755.5 759.4L756.0 758.2L756.5 756.1L757.0 754.7L757.5 755.4L758.0 757.4L758.5 759.1L759.0 761.9L759.5 767.2L760.0 772.8L760.5 777.7L761.0 780.2L761.5 778.4L762.0 773.8L762.5 768.7L763.0 763.6L763.5 759.7L764.0 757.4L764.5 756.4L765.0 755.5L765.5 755.0L766.0 755.8L766.5 755.8L767.0 755.4L767.5 755.3L768.0 755.6L768.5 755.7L769.0 755.5L769.5 755.2L770.0 755.3L770.5 754.9L771.0 755.1L771.5 756.1L772.0 756.3L772.5 755.8L773.0 755.3L773.5 754.7L774.0 754.7L774.5 755.6L775.0 756.5L775.5 756.6L776.0 756.1L776.5 756.0L777.0 756.0L777.5 755.8L778.0 756.0L778.5 757.8L779.0 760.2L779.5 759.9L780.0 757.9L780.5 756.9L781.0 756.7L781.5 755.7L782.0 755.5L782.5 755.8L783.0 755.3L783.5 754.6L784.0 754.5L784.5 754.2L785.0 754.8L785.5 755.1L786.0 755.0L786.5 755.3L787.0 756.7L787.5 757.8L788.0 758.0L788.5 757.1L789.0 755.5L789.5 754.6L790.0 754.7L790.5 755.1L791.0 754.6L791.5 753.9L792.0 754.3L792.5 755.1L793.0 755.1L793.5 754.9L794.0 754.9L794.5 755.1L795.0 755.7L795.5 755.4L796.0 755.8L796.5 755.7L797.0 755.8L797.5 755.5L798.0 755.1L798.5 754.3L799.0 755.9L799.5 759.7L800.0 763.6L800.5 762.7L801.0 759.5L801.5 756.5L802.0 755.2L802.5 755.8L803.0 757.3L803.5 757.1L804.0 756.5L804.5 755.8L805.0 754.9L805.5 754.6L806.0 754.9L806.5 755.4L807.0 754.7L807.5 752.3L808.0 750.8L808.5 751.1L809.0 751.4L809.5 751.6L810.0 752.7L810.5 753.1L811.0 752.6L811.5 753.2L812.0 753.8L812.5 753.4L813.0 751.8L813.5 749.6L814.0 749.4L814.5 750.3L815.0 750.8L815.5 751.0L816.0 750.7L816.5 750.2L817.0 749.4L817.5 748.7L818.0 747.9L818.5 746.5L819.0 745.9L819.5 747.2L820.0 747.6L820.5 746.8L821.0 746.3L821.5 746.3L822.0 746.4L822.5 747.1L823.0 746.6L823.5 746.7" fill="none" stroke="#882255" stroke-width="1.02" stroke-linejoin="round" stroke-linecap="round"/>
<path d="M162.2 845.2V856.7M162.0 851.7L162.5 851.5L163.0 851.5L163.5 851.8L164.0 852.0L164.5 852.4L165.0 853.0L165.5 853.4L166.0 853.6L166.5 853.9L167.0 854.4L167.5 854.9L168.0 855.3L168.5 855.4L169.0 856.1L169.5 857.1L170.0 857.7L170.5 858.2L171.0 858.7L171.5 859.1L172.0 858.9L172.5 858.9L173.0 859.0L173.5 858.9L174.0 858.3L174.5 858.3L175.0 858.8L175.5 859.2L176.0 858.5L176.5 858.5L177.0 859.0L177.5 859.7L178.0 860.2L178.5 860.6L179.0 860.8L179.5 860.7L180.0 860.4L180.5 860.3L181.0 860.6L181.5 860.9L182.0 860.9L182.5 861.1L183.0 861.4L183.5 861.3L184.0 861.2L184.5 861.0L185.0 860.9L185.5 860.7L186.0 860.6L186.5 860.3L187.0 860.4L187.5 861.0L188.0 861.4L188.5 861.7L189.0 862.1L189.5 862.2L190.0 862.2L190.5 861.7L191.0 861.5L191.5 862.2L192.0 863.0L192.5 863.3L193.0 863.2L193.5 863.1L194.0 863.5L194.5 863.6L195.0 863.4L195.5 863.3L196.0 863.3L196.5 863.2L197.0 863.2L197.5 863.5L198.0 863.5L198.5 863.8L199.0 863.9L199.5 863.8L200.0 863.5L200.5 863.4L201.0 863.2L201.5 863.2L202.0 863.0L202.5 863.0L203.0 862.8L203.5 862.4L204.0 862.4L204.5 862.5L205.0 862.6L205.5 862.8L206.0 862.8L206.5 862.7L207.0 862.5L207.5 862.5L208.0 862.8L208.5 862.8L209.0 862.8L209.5 862.9L210.0 862.9L210.5 862.8L211.0 862.6L211.5 862.5L212.0 862.4L212.5 862.6L213.0 863.1L213.5 863.4L214.0 863.5L214.5 863.5L215.0 863.9L215.5 863.9L216.0 863.9L216.5 864.0L217.0 863.9L217.5 863.7L218.0 863.6L218.5 863.1L219.0 863.0L219.5 863.4L220.0 863.7L220.5 863.8L221.0 863.7L221.5 863.7L222.0 863.7L222.5 863.7L223.0 863.8L223.5 864.1L224.0 864.1L224.5 863.9L225.0 863.5L225.5 862.9L226.0 862.8L226.5 863.0L227.0 862.9L227.5 862.9L228.0 863.0L228.5 862.7L229.0 862.3L229.5 862.3L230.0 862.4L230.5 862.4L231.0 862.4L231.5 862.2L232.0 862.1L232.5 862.2L233.0 862.4L233.5 862.5L234.0 862.7L234.5 862.9L235.0 863.1L235.5 863.2L236.0 862.8L236.5 863.0L237.0 863.5L237.5 863.7L238.0 863.5L238.5 863.2L239.0 863.0L239.5 863.2L240.0 863.4L240.5 863.5L241.0 863.3L241.5 863.3L242.0 863.3L242.5 863.0L243.0 862.5L243.5 862.6L244.0 862.7L244.5 862.6L245.0 862.4L245.5 862.8L246.0 863.6L246.5 863.7L247.0 862.9L247.5 862.4L248.0 862.5L248.5 862.8L249.0 862.9L249.5 863.0L250.0 863.2L250.5 863.2L251.0 863.5L251.5 863.4L252.0 863.3L252.5 863.1L253.0 863.1L253.5 863.0L254.0 863.0L254.5 863.2L255.0 863.2L255.5 863.1L256.0 862.8L256.5 862.8L257.0 863.0L257.5 862.9L258.0 862.7L258.5 862.6L259.0 862.5L259.5 862.4L260.0 862.1L260.5 862.2L261.0 862.3L261.5 862.4L262.0 862.6L262.5 862.9L263.0 863.3L263.5 863.4L264.0 863.4L264.5 863.0L265.0 862.5L265.5 862.2L266.0 862.5L266.5 862.7L267.0 862.8L267.5 862.9L268.0 863.1L268.5 863.0L269.0 862.6L269.5 862.3L270.0 862.2L270.5 862.1L271.0 861.9L271.5 862.1L272.0 862.1L272.5 861.9L273.0 862.4L273.5 863.0L274.0 863.0L274.5 862.8L275.0 862.3L275.5 862.2L276.0 862.7L276.5 862.9L277.0 862.8L277.5 862.6L278.0 862.2L278.5 861.9L279.0 861.9L279.5 862.1L280.0 862.2L280.5 862.1L281.0 862.0L281.5 861.6L282.0 861.2L282.5 861.4L283.0 861.8L283.5 862.0L284.0 861.9L284.5 861.9L285.0 862.1L285.5 862.3L286.0 862.2L286.5 862.1L287.0 861.9L287.5 861.8L288.0 861.9L288.5 861.7L289.0 861.3L289.5 861.1L290.0 861.4L290.5 862.0L291.0 862.5L291.5 862.5L292.0 862.1L292.5 861.9L293.0 861.9L293.5 861.6L294.0 861.5L294.5 861.7L295.0 861.8L295.5 861.8L296.0 861.9L296.5 862.1L297.0 862.3L297.5 862.2L298.0 861.9L298.5 861.6L299.0 861.6L299.5 861.5L300.0 861.5L300.5 861.4L301.0 861.6L301.5 861.8L302.0 862.1L302.5 862.0L303.0 861.7L303.5 861.5L304.0 861.4L304.5 861.2L305.0 861.0L305.5 861.1L306.0 861.5L306.5 861.6L307.0 861.4L307.5 861.3L308.0 861.4L308.5 861.5L309.0 861.3L309.5 860.9L310.0 860.9L310.5 861.2L311.0 861.3L311.5 861.3L312.0 861.6L312.5 861.9L313.0 861.9L313.5 861.5L314.0 861.3L314.5 861.4L315.0 861.8L315.5 861.6L316.0 861.1L316.5 860.9L317.0 861.1L317.5 861.4L318.0 861.6L318.5 861.2L319.0 860.7L319.5 860.7L320.0 861.2L320.5 861.4L321.0 861.3L321.5 861.2L322.0 861.2L322.5 861.3L323.0 861.1L323.5 860.8L324.0 860.9L324.5 861.2L325.0 861.4L325.5 861.7L326.0 861.7L326.5 861.7L327.0 861.8L327.5 861.6L328.0 861.4L328.5 861.4L329.0 861.3L329.5 861.4L330.0 861.6L330.5 861.6L331.0 861.5L331.5 861.4L332.0 861.2L332.5 861.2L333.0 861.6L333.5 861.9L334.0 862.0L334.5 861.8L335.0 861.5L335.5 861.5L336.0 861.4L336.5 861.0L337.0 861.1L337.5 861.4L338.0 861.5L338.5 861.4L339.0 861.5L339.5 861.6L340.0 861.5L340.5 861.2L341.0 861.2L341.5 861.2L342.0 861.1L342.5 861.0L343.0 861.1L343.5 861.3L344.0 861.5L344.5 861.4L345.0 861.1L345.5 861.2L346.0 861.2L346.5 861.0L347.0 861.1L347.5 861.3L348.0 861.3L348.5 861.4L349.0 861.4L349.5 861.4L350.0 861.3L350.5 861.4L351.0 861.8L351.5 862.0L352.0 862.0L352.5 861.5L353.0 860.8L353.5 860.7L354.0 861.0L354.5 861.3L355.0 861.4L355.5 861.2L356.0 861.2L356.5 861.4L357.0 861.1L357.5 861.0L358.0 861.2L358.5 861.4L359.0 861.3L359.5 861.2L360.0 861.2L360.5 861.4L361.0 861.5L361.5 861.5L362.0 861.4L362.5 861.6L363.0 861.7L363.5 861.6L364.0 861.4L364.5 861.2L365.0 861.3L365.5 861.5L366.0 861.7L366.5 861.9L367.0 861.8L367.5 861.5L368.0 861.4L368.5 861.3L369.0 861.2L369.5 861.4L370.0 861.5L370.5 861.6L371.0 861.7L371.5 861.7L372.0 861.7L372.5 861.7L373.0 861.4L373.5 860.8L374.0 860.6L374.5 860.9L375.0 861.1L375.5 861.3L376.0 861.3L376.5 861.5L377.0 861.6L377.5 861.5L378.0 861.1L378.5 861.0L379.0 861.2L379.5 861.6L380.0 861.5L380.5 861.4L381.0 861.5L381.5 861.8L382.0 861.6L382.5 861.4L383.0 861.1L383.5 861.1L384.0 861.0L384.5 860.8L385.0 861.0L385.5 861.3L386.0 861.4L386.5 861.4L387.0 861.2L387.5 861.4L388.0 862.0L388.5 862.1L389.0 862.1L389.5 861.9L390.0 861.8L390.5 862.0L391.0 862.2L391.5 862.0L392.0 861.8L392.5 861.7L393.0 861.6L393.5 861.5L394.0 861.4L394.5 861.4L395.0 861.7L395.5 861.8L396.0 861.3L396.5 860.8L397.0 861.0L397.5 861.5L398.0 861.7L398.5 861.6L399.0 861.7L399.5 861.6L400.0 862.0L400.5 862.4L401.0 862.3L401.5 861.9L402.0 861.7L402.5 861.4L403.0 861.5L403.5 861.5L404.0 861.3L404.5 861.2L405.0 861.3L405.5 861.3L406.0 861.2L406.5 861.3L407.0 861.6L407.5 861.8L408.0 861.8L408.5 861.6L409.0 861.1L409.5 860.9L410.0 860.9L410.5 861.0L411.0 861.2L411.5 861.3L412.0 861.3L412.5 861.5L413.0 861.9L413.5 861.9L414.0 861.6L414.5 861.3L415.0 861.0L415.5 861.0L416.0 861.2L416.5 861.7L417.0 861.9L417.5 862.0L418.0 862.1L418.5 862.1L419.0 861.9L419.5 861.6L420.0 861.9L420.5 862.0L421.0 861.6L421.5 860.9L422.0 861.0L422.5 861.4L423.0 861.6L423.5 861.4L424.0 861.2L424.5 861.1L425.0 861.4L425.5 862.0L426.0 862.3L426.5 862.2L427.0 861.6L427.5 861.1L428.0 860.8L428.5 860.7L429.0 860.9L429.5 861.0L430.0 860.8L430.5 860.8L431.0 861.0L431.5 861.2L432.0 861.2L432.5 861.3L433.0 861.5L433.5 861.6L434.0 861.5L434.5 861.5L435.0 861.6L435.5 861.2L436.0 861.2L436.5 861.5L437.0 861.7L437.5 861.7L438.0 861.7L438.5 862.0L439.0 862.1L439.5 862.1L440.0 861.6L440.5 861.2L441.0 860.9L441.5 860.9L442.0 860.9L442.5 861.1L443.0 861.6L443.5 861.9L444.0 861.8L444.5 861.7L445.0 861.7L445.5 861.6L446.0 861.4L446.5 861.2L447.0 861.5L447.5 861.9L448.0 861.7L448.5 861.7L449.0 861.7L449.5 861.1L450.0 860.9L450.5 860.5L451.0 860.4L451.5 860.4L452.0 860.6L452.5 861.1L453.0 861.6L453.5 861.4L454.0 861.4L454.5 861.7L455.0 862.0L455.5 862.1L456.0 862.0L456.5 862.1L457.0 862.2L457.5 862.0L458.0 861.6L458.5 861.6L459.0 861.9L459.5 861.8L460.0 861.6L460.5 861.7L461.0 861.5L461.5 861.2L462.0 860.6L462.5 860.5L463.0 861.1L463.5 861.3L464.0 861.2L464.5 861.1L465.0 861.3L465.5 861.5L466.0 861.8L466.5 862.1L467.0 861.9L467.5 861.2L468.0 860.9L468.5 861.3L469.0 861.6L469.5 861.7L470.0 861.3L470.5 861.2L471.0 861.5L471.5 861.7L472.0 861.9L472.5 861.8L473.0 861.8L473.5 861.8L474.0 861.7L474.5 861.6L475.0 861.4L475.5 861.2L476.0 861.5L476.5 861.9L477.0 862.0L477.5 862.0L478.0 862.0L478.5 861.7L479.0 861.4L479.5 861.7L480.0 861.8L480.5 861.4L481.0 861.2L481.5 861.2L482.0 861.3L482.5 861.3L483.0 861.1L483.5 861.0L484.0 861.2L484.5 861.8L485.0 862.3L485.5 861.9L486.0 861.3L486.5 861.0L487.0 861.3L487.5 861.7L488.0 861.9L488.5 862.1L489.0 862.2L489.5 861.8L490.0 861.5L490.5 861.6L491.0 861.9L491.5 861.7L492.0 861.4L492.5 861.4L493.0 861.6L493.5 861.7L494.0 861.4L494.5 861.0L495.0 860.9L495.5 861.1L496.0 861.5L496.5 861.6L497.0 861.2L497.5 860.9L498.0 861.3L498.5 861.5L499.0 861.5L499.5 861.5L500.0 861.6L500.5 861.7L501.0 861.7L501.5 861.5L502.0 861.5L502.5 861.7L503.0 861.9L503.5 861.9L504.0 861.5L504.5 861.3L505.0 861.2L505.5 860.9L506.0 860.7L506.5 860.4L507.0 860.8L507.5 861.6L508.0 862.0L508.5 861.9L509.0 861.8L509.5 861.8L510.0 861.5L510.5 861.4L511.0 861.5L511.5 861.4L512.0 861.3L512.5 861.2L513.0 861.1L513.5 861.0L514.0 860.9L514.5 861.1L515.0 861.7L515.5 862.0L516.0 861.9L516.5 861.8L517.0 862.1L517.5 862.2L518.0 862.2L518.5 862.0L519.0 861.8L519.5 861.4L520.0 861.2L520.5 861.6L521.0 861.9L521.5 861.6L522.0 861.7L522.5 861.8L523.0 861.4L523.5 861.4L524.0 861.8L524.5 862.1L525.0 862.2L525.5 861.9L526.0 861.8L526.5 861.7L527.0 861.5L527.5 861.2L528.0 861.1L528.5 861.0L529.0 861.3L529.5 861.4L530.0 861.6L530.5 861.7L531.0 861.8L531.5 861.9L532.0 861.9L532.5 861.5L533.0 861.3L533.5 861.5L534.0 861.5L534.5 861.7L535.0 861.6L535.5 861.6L536.0 861.7L536.5 861.7L537.0 861.3L537.5 861.2L538.0 861.2L538.5 861.7L539.0 862.0L539.5 861.8L540.0 861.5L540.5 861.5L541.0 861.7L541.5 861.9L542.0 862.0L542.5 861.9L543.0 861.4L543.5 861.6L544.0 862.0L544.5 862.1L545.0 861.9L545.5 861.6L546.0 861.4L546.5 861.5L547.0 861.6L547.5 861.6L548.0 861.8L548.5 861.8L549.0 861.6L549.5 861.4L550.0 861.3L550.5 861.3L551.0 861.4L551.5 861.5L552.0 861.6L552.5 861.7L553.0 861.9L553.5 861.8L554.0 861.5L554.5 861.5L555.0 861.8L555.5 861.9L556.0 861.8L556.5 861.6L557.0 861.3L557.5 861.2L558.0 860.9L558.5 861.0L559.0 861.6L559.5 862.2L560.0 862.1L560.5 861.7L561.0 861.7L561.5 861.6L562.0 861.2L562.5 860.9L563.0 861.0L563.5 861.3L564.0 861.5L564.5 861.4L565.0 861.3L565.5 861.4L566.0 861.5L566.5 861.8L567.0 862.1L567.5 862.0L568.0 862.0L568.5 862.1L569.0 862.1L569.5 861.8L570.0 861.4L570.5 861.2L571.0 861.4L571.5 861.6L572.0 861.7L572.5 861.7L573.0 861.9L573.5 861.9L574.0 861.7L574.5 861.4L575.0 861.5L575.5 862.1L576.0 862.2L576.5 861.3L577.0 861.0L577.5 861.4L578.0 861.6L578.5 861.3L579.0 860.8L579.5 860.9L580.0 861.4L580.5 861.6L581.0 861.6L581.5 861.5L582.0 861.7L582.5 861.7L583.0 861.4L583.5 861.2L584.0 861.3L584.5 861.6L585.0 861.9L585.5 861.9L586.0 861.8L586.5 861.4L587.0 861.0L587.5 861.1L588.0 861.2L588.5 861.3L589.0 861.5L589.5 861.6L590.0 861.6L590.5 861.5L591.0 861.2L591.5 860.9L592.0 860.9L592.5 861.2L593.0 861.1L593.5 860.8L594.0 860.8L594.5 861.1L595.0 861.3L595.5 861.4L596.0 861.6L596.5 861.8L597.0 861.6L597.5 861.7L598.0 861.8L598.5 861.8L599.0 861.7L599.5 861.8L600.0 861.8L600.5 861.6L601.0 861.4L601.5 861.4L602.0 861.2L602.5 861.1L603.0 861.1L603.5 861.3L604.0 861.3L604.5 861.5L605.0 861.9L605.5 862.2L606.0 861.9L606.5 861.3L607.0 861.4L607.5 862.0L608.0 862.1L608.5 861.9L609.0 861.6L609.5 861.2L610.0 861.0L610.5 861.1L611.0 861.2L611.5 861.2L612.0 861.5L612.5 861.7L613.0 861.8L613.5 862.0L614.0 861.8L614.5 861.5L615.0 861.8L615.5 862.0L616.0 862.1L616.5 862.0L617.0 861.8L617.5 861.3L618.0 861.1L618.5 861.2L619.0 861.4L619.5 861.7L620.0 862.0L620.5 861.8L621.0 861.3L621.5 861.1L622.0 861.0L622.5 860.9L623.0 860.8L623.5 861.0L624.0 861.4L624.5 861.6L625.0 861.6L625.5 861.4L626.0 861.4L626.5 861.7L627.0 862.2L627.5 862.5L628.0 862.5L628.5 862.0L629.0 861.7L629.5 861.7L630.0 861.8L630.5 861.9L631.0 861.7L631.5 861.4L632.0 861.2L632.5 861.1L633.0 861.0L633.5 861.1L634.0 861.2L634.5 861.4L635.0 861.6L635.5 862.0L636.0 862.3L636.5 862.3L637.0 862.2L637.5 862.0L638.0 861.8L638.5 861.9L639.0 862.1L639.5 862.1L640.0 861.8L640.5 861.6L641.0 861.8L641.5 862.1L642.0 862.1L642.5 861.9L643.0 861.7L643.5 861.7L644.0 862.0L644.5 861.8L645.0 861.6L645.5 861.4L646.0 861.1L646.5 861.3L647.0 861.8L647.5 861.8L648.0 861.7L648.5 861.9L649.0 862.0L649.5 861.9L650.0 861.6L650.5 861.6L651.0 862.0L651.5 862.1L652.0 862.0L652.5 862.0L653.0 861.8L653.5 861.7L654.0 861.9L654.5 862.3L655.0 862.1L655.5 861.8L656.0 861.9L656.5 862.2L657.0 861.9L657.5 861.8L658.0 861.7L658.5 861.8L659.0 861.8L659.5 862.0L660.0 862.1L660.5 862.2L661.0 862.3L661.5 862.1L662.0 861.9L662.5 861.7L663.0 861.8L663.5 862.1L664.0 862.3L664.5 862.3L665.0 862.2L665.5 862.2L666.0 862.5L666.5 862.6L667.0 862.2L667.5 861.8L668.0 862.1L668.5 862.4L669.0 862.6L669.5 862.6L670.0 862.3L670.5 861.9L671.0 862.1L671.5 862.6L672.0 863.0L672.5 863.2L673.0 864.0L673.5 864.5L674.0 864.4L674.5 863.6L675.0 862.7L675.5 862.1L676.0 862.1L676.5 862.3L677.0 862.9L677.5 862.8L678.0 862.4L678.5 862.1L679.0 861.9L679.5 861.9L680.0 862.3L680.5 862.2L681.0 862.1L681.5 862.1L682.0 862.3L682.5 862.5L683.0 862.5L683.5 862.3L684.0 862.2L684.5 862.0L685.0 862.1L685.5 862.1L686.0 862.1L686.5 862.0L687.0 861.7L687.5 861.6L688.0 861.8L688.5 861.8L689.0 861.9L689.5 862.3L690.0 862.4L690.5 862.3L691.0 862.2L691.5 862.2L692.0 862.3L692.5 862.5L693.0 862.7L693.5 862.6L694.0 862.4L694.5 862.1L695.0 861.9L695.5 862.0L696.0 862.3L696.5 862.4L697.0 862.3L697.5 862.1L698.0 862.3L698.5 862.3L699.0 862.0L699.5 861.8L700.0 861.8L700.5 861.9L701.0 862.2L701.5 862.1L702.0 861.9L702.5 861.9L703.0 862.3L703.5 862.6L704.0 862.5L704.5 862.3L705.0 862.1L705.5 862.2L706.0 862.4L706.5 862.3L707.0 862.3L707.5 862.6L708.0 862.6L708.5 862.5L709.0 862.4L709.5 862.4L710.0 862.3L710.5 862.1L711.0 862.2L711.5 862.4L712.0 862.4L712.5 862.3L713.0 862.3L713.5 862.2L714.0 862.2L714.5 862.2L715.0 862.3L715.5 862.5L716.0 862.9L716.5 863.1L717.0 863.3L717.5 863.1L718.0 862.7L718.5 862.7L719.0 863.0L719.5 862.9L720.0 862.3L720.5 861.8L721.0 861.9L721.5 862.6L722.0 863.0L722.5 863.2L723.0 863.1L723.5 862.7L724.0 862.4L724.5 862.3L725.0 862.6L725.5 862.7L726.0 862.4L726.5 861.8L727.0 861.7L727.5 862.2L728.0 862.8L728.5 863.0L729.0 863.0L729.5 862.8L730.0 862.6L730.5 862.6L731.0 862.7L731.5 862.7L732.0 862.5L732.5 862.6L733.0 862.8L733.5 863.0L734.0 863.3L734.5 863.3L735.0 863.1L735.5 863.1L736.0 863.3L736.5 863.8L737.0 863.8L737.5 863.3L738.0 863.2L738.5 863.3L739.0 863.4L739.5 863.4L740.0 863.2L740.5 863.4L741.0 863.8L741.5 863.7L742.0 863.6L742.5 863.5L743.0 863.2L743.5 862.8L744.0 862.8L744.5 863.4L745.0 864.1L745.5 864.4L746.0 864.3L746.5 864.0L747.0 863.7L747.5 863.4L748.0 863.1L748.5 863.1L749.0 862.9L749.5 862.8L750.0 863.1L750.5 863.1L751.0 862.4L751.5 862.3L752.0 862.8L752.5 863.2L753.0 863.2L753.5 862.9L754.0 862.6L754.5 862.6L755.0 862.8L755.5 862.9L756.0 863.0L756.5 863.2L757.0 863.1L757.5 863.2L758.0 863.5L758.5 863.7L759.0 864.1L759.5 864.9L760.0 865.7L760.5 866.4L761.0 866.6L761.5 866.0L762.0 865.6L762.5 865.5L763.0 865.2L763.5 864.5L764.0 864.0L764.5 863.7L765.0 863.3L765.5 862.8L766.0 863.1L766.5 863.6L767.0 864.0L767.5 863.9L768.0 863.7L768.5 863.7L769.0 863.8L769.5 863.8L770.0 863.9L770.5 864.1L771.0 864.2L771.5 864.2L772.0 864.0L772.5 864.1L773.0 864.2L773.5 864.0L774.0 863.6L774.5 863.5L775.0 863.9L775.5 864.3L776.0 864.2L776.5 864.3L777.0 864.6L777.5 865.1L778.0 865.5L778.5 865.8L779.0 866.0L779.5 865.9L780.0 865.5L780.5 865.1L781.0 864.9L781.5 864.6L782.0 864.1L782.5 863.5L783.0 863.1L783.5 863.0L784.0 863.1L784.5 863.0L785.0 862.8L785.5 862.7L786.0 863.0L786.5 863.4L787.0 863.3L787.5 863.3L788.0 863.2L788.5 863.3L789.0 863.8L789.5 863.8L790.0 863.6L790.5 863.5L791.0 863.4L791.5 863.6L792.0 863.6L792.5 863.1L793.0 862.7L793.5 863.0L794.0 863.4L794.5 863.2L795.0 863.0L795.5 863.0L796.0 862.9L796.5 863.0L797.0 863.1L797.5 863.1L798.0 862.8L798.5 862.6L799.0 862.3L799.5 862.0L800.0 862.1L800.5 862.1L801.0 862.4L801.5 862.8L802.0 862.8L802.5 862.3L803.0 862.1L803.5 862.3L804.0 862.6L804.5 862.8L805.0 863.1L805.5 863.5L806.0 863.6L806.5 863.3L807.0 863.1L807.5 862.6L808.0 862.3L808.5 862.2L809.0 861.9L809.5 860.9L810.0 860.3L810.5 860.4L811.0 860.2L811.5 859.6L812.0 859.3L812.5 859.2L813.0 858.9L813.5 858.9L814.0 859.3L814.5 859.3L815.0 858.6L815.5 857.7L816.0 857.2L816.5 857.3L817.0 856.8L817.5 855.9L818.0 855.6L818.5 855.8L819.0 855.7L819.5 854.8L820.0 853.8L820.5 853.6L821.0 853.3L821.5 853.3L822.0 853.9L822.5 853.7L823.0 852.6L823.5 851.7" fill="none" stroke="#88CCEE" stroke-width="1.20" stroke-linejoin="round" stroke-linecap="round"/>
<path d="M384.1 262.6V268.6" fill="none" stroke="#000" stroke-width="0.8"/>
<path d="M152.84 897.80V889.50M152.84 41.00V49.30M182.40 897.80V881.30M182.40 41.00V57.50M211.96 897.80V889.50M211.96 41.00V49.30M241.53 897.80V889.50M241.53 41.00V49.30M271.09 897.80V889.50M271.09 41.00V49.30M300.66 897.80V889.50M300.66 41.00V49.30M330.22 897.80V881.30M330.22 41.00V57.50M359.78 897.80V889.50M359.78 41.00V49.30M389.35 897.80V889.50M389.35 41.00V49.30M418.91 897.80V889.50M418.91 41.00V49.30M448.48 897.80V889.50M448.48 41.00V49.30M478.04 897.80V881.30M478.04 41.00V57.50M507.60 897.80V889.50M507.60 41.00V49.30M537.17 897.80V889.50M537.17 41.00V49.30M566.73 897.80V889.50M566.73 41.00V49.30M596.30 897.80V889.50M596.30 41.00V49.30M625.86 897.80V881.30M625.86 41.00V57.50M655.42 897.80V889.50M655.42 41.00V49.30M684.99 897.80V889.50M684.99 41.00V49.30M714.55 897.80V889.50M714.55 41.00V49.30M744.12 897.80V889.50M744.12 41.00V49.30M773.68 897.80V881.30M773.68 41.00V57.50M803.24 897.80V889.50M803.24 41.00V49.30M832.81 897.80V889.50M832.81 41.00V49.30M862.37 897.80V889.50M862.37 41.00V49.30M891.94 897.80V889.50M891.94 41.00V49.30M921.50 897.80V881.30M921.50 41.00V57.50M130.95 862.10H139.25M942.60 862.10H934.30M130.95 826.40H139.25M942.60 826.40H934.30M130.95 790.70H139.25M942.60 790.70H934.30M130.95 755.00H147.45M942.60 755.00H926.10M130.95 719.30H139.25M942.60 719.30H934.30M130.95 683.60H139.25M942.60 683.60H934.30M130.95 647.90H139.25M942.60 647.90H934.30M130.95 612.20H147.45M942.60 612.20H926.10M130.95 576.50H139.25M942.60 576.50H934.30M130.95 540.80H139.25M942.60 540.80H934.30M130.95 505.10H139.25M942.60 505.10H934.30M130.95 469.40H147.45M942.60 469.40H926.10M130.95 433.70H139.25M942.60 433.70H934.30M130.95 398.00H139.25M942.60 398.00H934.30M130.95 362.30H139.25M942.60 362.30H934.30M130.95 326.60H147.45M942.60 326.60H926.10M130.95 290.90H139.25M942.60 290.90H934.30M130.95 255.20H139.25M942.60 255.20H934.30M130.95 219.50H139.25M942.60 219.50H934.30M130.95 183.80H147.45M942.60 183.80H926.10M130.95 148.10H139.25M942.60 148.10H934.30M130.95 112.40H139.25M942.60 112.40H934.30M130.95 76.70H139.25M942.60 76.70H934.30" fill="none" stroke="#000" stroke-width="2.10" stroke-linecap="butt"/>
<rect x="130.95" y="41.00" width="811.65" height="856.80" fill="none" stroke="#000" stroke-width="2.10" stroke-linejoin="round"/>
<path d="M157.02 914.39L157.02 918.58M157.02 917.18L157.70 915.79L159.08 914.39L160.45 914.39L163.88 916.49L165.25 916.49L165.94 915.79L166.62 914.39M157.70 915.79L159.08 915.09L160.45 915.09L163.88 916.49M166.62 914.39L166.62 916.49L165.94 918.58L163.19 922.07L162.51 923.47L161.82 925.56L161.82 929.05M165.94 918.58L162.51 922.07L161.82 923.47L161.13 925.56L161.13 929.05M170.74 914.39L170.74 918.58M170.74 917.18L171.42 915.79L172.80 914.39L174.17 914.39L177.60 916.49L178.97 916.49L179.66 915.79L180.34 914.39M171.42 915.79L172.80 915.09L174.17 915.09L177.60 916.49M180.34 914.39L180.34 916.49L179.66 918.58L176.91 922.07L176.23 923.47L175.54 925.56L175.54 929.05M179.66 918.58L176.23 922.07L175.54 923.47L174.85 925.56L174.85 929.05M188.57 914.39L186.52 915.09L185.14 917.18L184.46 920.67L184.46 922.77L185.14 926.26L186.52 928.35L188.57 929.05L189.95 929.05L192.00 928.35L193.38 926.26L194.06 922.77L194.06 920.67L193.38 917.18L192.00 915.09L189.95 914.39L188.57 914.39M188.57 914.39L187.20 915.09L186.52 915.79L185.83 917.18L185.14 920.67L185.14 922.77L185.83 926.26L186.52 927.65L187.20 928.35L188.57 929.05M189.95 929.05L191.32 928.35L192.00 927.65L192.69 926.26L193.38 922.77L193.38 920.67L192.69 917.18L192.00 915.79L191.32 915.09L189.95 914.39M202.29 914.39L200.24 915.09L198.86 917.18L198.18 920.67L198.18 922.77L198.86 926.26L200.24 928.35L202.29 929.05L203.67 929.05L205.72 928.35L207.10 926.26L207.78 922.77L207.78 920.67L207.10 917.18L205.72 915.09L203.67 914.39L202.29 914.39M202.29 914.39L200.92 915.09L200.24 915.79L199.55 917.18L198.86 920.67L198.86 922.77L199.55 926.26L200.24 927.65L200.92 928.35L202.29 929.05M203.67 929.05L205.04 928.35L205.72 927.65L206.41 926.26L207.10 922.77L207.10 920.67L206.41 917.18L205.72 915.79L205.04 915.09L203.67 914.39" fill="none" stroke="#000" stroke-width="1.22" stroke-linejoin="round" stroke-linecap="butt"/>
<path d="M304.84 914.39L304.84 918.58M304.84 917.18L305.52 915.79L306.90 914.39L308.27 914.39L311.70 916.49L313.07 916.49L313.76 915.79L314.44 914.39M305.52 915.79L306.90 915.09L308.27 915.09L311.70 916.49M314.44 914.39L314.44 916.49L313.76 918.58L311.01 922.07L310.33 923.47L309.64 925.56L309.64 929.05M313.76 918.58L310.33 922.07L309.64 923.47L308.95 925.56L308.95 929.05M318.56 914.39L318.56 918.58M318.56 917.18L319.24 915.79L320.62 914.39L321.99 914.39L325.42 916.49L326.79 916.49L327.48 915.79L328.16 914.39M319.24 915.79L320.62 915.09L321.99 915.09L325.42 916.49M328.16 914.39L328.16 916.49L327.48 918.58L324.73 922.07L324.05 923.47L323.36 925.56L323.36 929.05M327.48 918.58L324.05 922.07L323.36 923.47L322.67 925.56L322.67 929.05M333.65 914.39L332.28 921.37M332.28 921.37L333.65 919.98L335.71 919.28L337.77 919.28L339.82 919.98L341.20 921.37L341.88 923.47L341.88 924.86L341.20 926.96L339.82 928.35L337.77 929.05L335.71 929.05L333.65 928.35L332.96 927.65L332.28 926.26L332.28 925.56L332.96 924.86L333.65 925.56L332.96 926.26M337.77 919.28L339.14 919.98L340.51 921.37L341.20 923.47L341.20 924.86L340.51 926.96L339.14 928.35L337.77 929.05M333.65 914.39L340.51 914.39M333.65 915.09L337.08 915.09L340.51 914.39M350.11 914.39L348.06 915.09L346.68 917.18L346.00 920.67L346.00 922.77L346.68 926.26L348.06 928.35L350.11 929.05L351.49 929.05L353.54 928.35L354.92 926.26L355.60 922.77L355.60 920.67L354.92 917.18L353.54 915.09L351.49 914.39L350.11 914.39M350.11 914.39L348.74 915.09L348.06 915.79L347.37 917.18L346.68 920.67L346.68 922.77L347.37 926.26L348.06 927.65L348.74 928.35L350.11 929.05M351.49 929.05L352.86 928.35L353.54 927.65L354.23 926.26L354.92 922.77L354.92 920.67L354.23 917.18L353.54 915.79L352.86 915.09L351.49 914.39" fill="none" stroke="#000" stroke-width="1.22" stroke-linejoin="round" stroke-linecap="butt"/>
<path d="M452.66 914.39L452.66 918.58M452.66 917.18L453.34 915.79L454.72 914.39L456.09 914.39L459.52 916.49L460.89 916.49L461.58 915.79L462.26 914.39M453.34 915.79L454.72 915.09L456.09 915.09L459.52 916.49M462.26 914.39L462.26 916.49L461.58 918.58L458.83 922.07L458.15 923.47L457.46 925.56L457.46 929.05M461.58 918.58L458.15 922.07L457.46 923.47L456.77 925.56L456.77 929.05M469.81 914.39L467.75 915.09L467.06 916.49L467.06 918.58L467.75 919.98L469.81 920.67L472.55 920.67L474.61 919.98L475.30 918.58L475.30 916.49L474.61 915.09L472.55 914.39L469.81 914.39M469.81 914.39L468.44 915.09L467.75 916.49L467.75 918.58L468.44 919.98L469.81 920.67M472.55 920.67L473.92 919.98L474.61 918.58L474.61 916.49L473.92 915.09L472.55 914.39M469.81 920.67L467.75 921.37L467.06 922.07L466.38 923.47L466.38 926.26L467.06 927.65L467.75 928.35L469.81 929.05L472.55 929.05L474.61 928.35L475.30 927.65L475.98 926.26L475.98 923.47L475.30 922.07L474.61 921.37L472.55 920.67M469.81 920.67L468.44 921.37L467.75 922.07L467.06 923.47L467.06 926.26L467.75 927.65L468.44 928.35L469.81 929.05M472.55 929.05L473.92 928.35L474.61 927.65L475.30 926.26L475.30 923.47L474.61 922.07L473.92 921.37L472.55 920.67M484.21 914.39L482.16 915.09L480.78 917.18L480.10 920.67L480.10 922.77L480.78 926.26L482.16 928.35L484.21 929.05L485.59 929.05L487.64 928.35L489.02 926.26L489.70 922.77L489.70 920.67L489.02 917.18L487.64 915.09L485.59 914.39L484.21 914.39M484.21 914.39L482.84 915.09L482.16 915.79L481.47 917.18L480.78 920.67L480.78 922.77L481.47 926.26L482.16 927.65L482.84 928.35L484.21 929.05M485.59 929.05L486.96 928.35L487.64 927.65L488.33 926.26L489.02 922.77L489.02 920.67L488.33 917.18L487.64 915.79L486.96 915.09L485.59 914.39M497.93 914.39L495.88 915.09L494.50 917.18L493.82 920.67L493.82 922.77L494.50 926.26L495.88 928.35L497.93 929.05L499.31 929.05L501.36 928.35L502.74 926.26L503.42 922.77L503.42 920.67L502.74 917.18L501.36 915.09L499.31 914.39L497.93 914.39M497.93 914.39L496.56 915.09L495.88 915.79L495.19 917.18L494.50 920.67L494.50 922.77L495.19 926.26L495.88 927.65L496.56 928.35L497.93 929.05M499.31 929.05L500.68 928.35L501.36 927.65L502.05 926.26L502.74 922.77L502.74 920.67L502.05 917.18L501.36 915.79L500.68 915.09L499.31 914.39" fill="none" stroke="#000" stroke-width="1.22" stroke-linejoin="round" stroke-linecap="butt"/>
<path d="M600.48 914.39L600.48 918.58M600.48 917.18L601.16 915.79L602.54 914.39L603.91 914.39L607.34 916.49L608.71 916.49L609.40 915.79L610.08 914.39M601.16 915.79L602.54 915.09L603.91 915.09L607.34 916.49M610.08 914.39L610.08 916.49L609.40 918.58L606.65 922.07L605.97 923.47L605.28 925.56L605.28 929.05M609.40 918.58L605.97 922.07L605.28 923.47L604.59 925.56L604.59 929.05M617.63 914.39L615.57 915.09L614.88 916.49L614.88 918.58L615.57 919.98L617.63 920.67L620.37 920.67L622.43 919.98L623.12 918.58L623.12 916.49L622.43 915.09L620.37 914.39L617.63 914.39M617.63 914.39L616.26 915.09L615.57 916.49L615.57 918.58L616.26 919.98L617.63 920.67M620.37 920.67L621.74 919.98L622.43 918.58L622.43 916.49L621.74 915.09L620.37 914.39M617.63 920.67L615.57 921.37L614.88 922.07L614.20 923.47L614.20 926.26L614.88 927.65L615.57 928.35L617.63 929.05L620.37 929.05L622.43 928.35L623.12 927.65L623.80 926.26L623.80 923.47L623.12 922.07L622.43 921.37L620.37 920.67M617.63 920.67L616.26 921.37L615.57 922.07L614.88 923.47L614.88 926.26L615.57 927.65L616.26 928.35L617.63 929.05M620.37 929.05L621.74 928.35L622.43 927.65L623.12 926.26L623.12 923.47L622.43 922.07L621.74 921.37L620.37 920.67M629.29 914.39L627.92 921.37M627.92 921.37L629.29 919.98L631.35 919.28L633.41 919.28L635.46 919.98L636.84 921.37L637.52 923.47L637.52 924.86L636.84 926.96L635.46 928.35L633.41 929.05L631.35 929.05L629.29 928.35L628.60 927.65L627.92 926.26L627.92 925.56L628.60 924.86L629.29 925.56L628.60 926.26M633.41 919.28L634.78 919.98L636.15 921.37L636.84 923.47L636.84 924.86L636.15 926.96L634.78 928.35L633.41 929.05M629.29 914.39L636.15 914.39M629.29 915.09L632.72 915.09L636.15 914.39M645.75 914.39L643.70 915.09L642.32 917.18L641.64 920.67L641.64 922.77L642.32 926.26L643.70 928.35L645.75 929.05L647.13 929.05L649.18 928.35L650.56 926.26L651.24 922.77L651.24 920.67L650.56 917.18L649.18 915.09L647.13 914.39L645.75 914.39M645.75 914.39L644.38 915.09L643.70 915.79L643.01 917.18L642.32 920.67L642.32 922.77L643.01 926.26L643.70 927.65L644.38 928.35L645.75 929.05M647.13 929.05L648.50 928.35L649.18 927.65L649.87 926.26L650.56 922.77L650.56 920.67L649.87 917.18L649.18 915.79L648.50 915.09L647.13 914.39" fill="none" stroke="#000" stroke-width="1.22" stroke-linejoin="round" stroke-linecap="butt"/>
<path d="M748.30 914.39L748.30 918.58M748.30 917.18L748.98 915.79L750.36 914.39L751.73 914.39L755.16 916.49L756.53 916.49L757.22 915.79L757.90 914.39M748.98 915.79L750.36 915.09L751.73 915.09L755.16 916.49M757.90 914.39L757.90 916.49L757.22 918.58L754.47 922.07L753.79 923.47L753.10 925.56L753.10 929.05M757.22 918.58L753.79 922.07L753.10 923.47L752.41 925.56L752.41 929.05M770.94 919.28L770.25 921.37L768.88 922.77L766.82 923.47L766.13 923.47L764.08 922.77L762.70 921.37L762.02 919.28L762.02 918.58L762.70 916.49L764.08 915.09L766.13 914.39L767.51 914.39L769.56 915.09L770.94 916.49L771.62 918.58L771.62 922.77L770.94 925.56L770.25 926.96L768.88 928.35L766.82 929.05L764.76 929.05L763.39 928.35L762.70 926.96L762.70 926.26L763.39 925.56L764.08 926.26L763.39 926.96M766.13 923.47L764.76 922.77L763.39 921.37L762.70 919.28L762.70 918.58L763.39 916.49L764.76 915.09L766.13 914.39M767.51 914.39L768.88 915.09L770.25 916.49L770.94 918.58L770.94 922.77L770.25 925.56L769.56 926.96L768.19 928.35L766.82 929.05M779.85 914.39L777.80 915.09L776.42 917.18L775.74 920.67L775.74 922.77L776.42 926.26L777.80 928.35L779.85 929.05L781.23 929.05L783.28 928.35L784.66 926.26L785.34 922.77L785.34 920.67L784.66 917.18L783.28 915.09L781.23 914.39L779.85 914.39M779.85 914.39L778.48 915.09L777.80 915.79L777.11 917.18L776.42 920.67L776.42 922.77L777.11 926.26L777.80 927.65L778.48 928.35L779.85 929.05M781.23 929.05L782.60 928.35L783.28 927.65L783.97 926.26L784.66 922.77L784.66 920.67L783.97 917.18L783.28 915.79L782.60 915.09L781.23 914.39M793.57 914.39L791.52 915.09L790.14 917.18L789.46 920.67L789.46 922.77L790.14 926.26L791.52 928.35L793.57 929.05L794.95 929.05L797.00 928.35L798.38 926.26L799.06 922.77L799.06 920.67L798.38 917.18L797.00 915.09L794.95 914.39L793.57 914.39M793.57 914.39L792.20 915.09L791.52 915.79L790.83 917.18L790.14 920.67L790.14 922.77L790.83 926.26L791.52 927.65L792.20 928.35L793.57 929.05M794.95 929.05L796.32 928.35L797.00 927.65L797.69 926.26L798.38 922.77L798.38 920.67L797.69 917.18L797.00 915.79L796.32 915.09L794.95 914.39" fill="none" stroke="#000" stroke-width="1.22" stroke-linejoin="round" stroke-linecap="butt"/>
<path d="M896.12 914.39L896.12 918.58M896.12 917.18L896.80 915.79L898.18 914.39L899.55 914.39L902.98 916.49L904.35 916.49L905.04 915.79L905.72 914.39M896.80 915.79L898.18 915.09L899.55 915.09L902.98 916.49M905.72 914.39L905.72 916.49L905.04 918.58L902.29 922.07L901.61 923.47L900.92 925.56L900.92 929.05M905.04 918.58L901.61 922.07L900.92 923.47L900.23 925.56L900.23 929.05M918.76 919.28L918.07 921.37L916.70 922.77L914.64 923.47L913.95 923.47L911.90 922.77L910.52 921.37L909.84 919.28L909.84 918.58L910.52 916.49L911.90 915.09L913.95 914.39L915.33 914.39L917.38 915.09L918.76 916.49L919.44 918.58L919.44 922.77L918.76 925.56L918.07 926.96L916.70 928.35L914.64 929.05L912.58 929.05L911.21 928.35L910.52 926.96L910.52 926.26L911.21 925.56L911.90 926.26L911.21 926.96M913.95 923.47L912.58 922.77L911.21 921.37L910.52 919.28L910.52 918.58L911.21 916.49L912.58 915.09L913.95 914.39M915.33 914.39L916.70 915.09L918.07 916.49L918.76 918.58L918.76 922.77L918.07 925.56L917.38 926.96L916.01 928.35L914.64 929.05M924.93 914.39L923.56 921.37M923.56 921.37L924.93 919.98L926.99 919.28L929.05 919.28L931.10 919.98L932.48 921.37L933.16 923.47L933.16 924.86L932.48 926.96L931.10 928.35L929.05 929.05L926.99 929.05L924.93 928.35L924.24 927.65L923.56 926.26L923.56 925.56L924.24 924.86L924.93 925.56L924.24 926.26M929.05 919.28L930.42 919.98L931.79 921.37L932.48 923.47L932.48 924.86L931.79 926.96L930.42 928.35L929.05 929.05M924.93 914.39L931.79 914.39M924.93 915.09L928.36 915.09L931.79 914.39M941.39 914.39L939.34 915.09L937.96 917.18L937.28 920.67L937.28 922.77L937.96 926.26L939.34 928.35L941.39 929.05L942.77 929.05L944.82 928.35L946.20 926.26L946.88 922.77L946.88 920.67L946.20 917.18L944.82 915.09L942.77 914.39L941.39 914.39M941.39 914.39L940.02 915.09L939.34 915.79L938.65 917.18L937.96 920.67L937.96 922.77L938.65 926.26L939.34 927.65L940.02 928.35L941.39 929.05M942.77 929.05L944.14 928.35L944.82 927.65L945.51 926.26L946.20 922.77L946.20 920.67L945.51 917.18L944.82 915.79L944.14 915.09L942.77 914.39" fill="none" stroke="#000" stroke-width="1.22" stroke-linejoin="round" stroke-linecap="butt"/>
<path d="M93.91 891.77L106.42 891.77M119.62 885.49L118.93 886.18L119.62 886.88L120.32 886.18L120.32 885.49L119.62 884.09L118.23 883.39L116.15 883.39L114.06 884.09L112.67 885.49L111.98 886.88L111.28 889.67L111.28 893.86L111.98 895.96L113.37 897.35L115.45 898.05L116.84 898.05L118.93 897.35L120.32 895.96L121.02 893.86L121.02 893.16L120.32 891.07L118.93 889.67L116.84 888.98L116.15 888.98L114.06 889.67L112.67 891.07L111.98 893.16M116.15 883.39L114.76 884.09L113.37 885.49L112.67 886.88L111.98 889.67L111.98 893.86L112.67 895.96L114.06 897.35L115.45 898.05M116.84 898.05L118.23 897.35L119.62 895.96L120.32 893.86L120.32 893.16L119.62 891.07L118.23 889.67L116.84 888.98" fill="none" stroke="#000" stroke-width="1.22" stroke-linejoin="round" stroke-linecap="butt"/>
<path d="M93.91 757.42L106.42 757.42M117.54 750.44L117.54 763.70M118.23 749.04L118.23 763.70M118.23 749.04L110.59 759.51L121.71 759.51M115.45 763.70L120.32 763.70" fill="none" stroke="#000" stroke-width="1.22" stroke-linejoin="round" stroke-linecap="butt"/>
<path d="M93.91 614.62L106.42 614.62M111.98 609.03L112.67 609.73L111.98 610.43L111.28 609.73L111.28 609.03L111.98 607.64L112.67 606.94L114.76 606.24L117.54 606.24L119.62 606.94L120.32 607.64L121.02 609.03L121.02 610.43L120.32 611.83L118.23 613.22L114.76 614.62L113.37 615.32L111.98 616.71L111.28 618.81L111.28 620.90M117.54 606.24L118.93 606.94L119.62 607.64L120.32 609.03L120.32 610.43L119.62 611.83L117.54 613.22L114.76 614.62M111.28 619.50L111.98 618.81L113.37 618.81L116.84 620.20L118.93 620.20L120.32 619.50L121.02 618.81M113.37 618.81L116.84 620.90L119.62 620.90L120.32 620.20L121.02 618.81L121.02 617.41" fill="none" stroke="#000" stroke-width="1.22" stroke-linejoin="round" stroke-linecap="butt"/>
<path d="M115.45 463.44L113.37 464.14L111.98 466.23L111.28 469.72L111.28 471.82L111.98 475.31L113.37 477.40L115.45 478.10L116.84 478.10L118.93 477.40L120.32 475.31L121.02 471.82L121.02 469.72L120.32 466.23L118.93 464.14L116.84 463.44L115.45 463.44M115.45 463.44L114.06 464.14L113.37 464.84L112.67 466.23L111.98 469.72L111.98 471.82L112.67 475.31L113.37 476.70L114.06 477.40L115.45 478.10M116.84 478.10L118.23 477.40L118.93 476.70L119.62 475.31L120.32 471.82L120.32 469.72L119.62 466.23L118.93 464.84L118.23 464.14L116.84 463.44" fill="none" stroke="#000" stroke-width="1.22" stroke-linejoin="round" stroke-linecap="butt"/>
<path d="M111.98 323.43L112.67 324.13L111.98 324.83L111.28 324.13L111.28 323.43L111.98 322.04L112.67 321.34L114.76 320.64L117.54 320.64L119.62 321.34L120.32 322.04L121.02 323.43L121.02 324.83L120.32 326.23L118.23 327.62L114.76 329.02L113.37 329.72L111.98 331.11L111.28 333.21L111.28 335.30M117.54 320.64L118.93 321.34L119.62 322.04L120.32 323.43L120.32 324.83L119.62 326.23L117.54 327.62L114.76 329.02M111.28 333.90L111.98 333.21L113.37 333.21L116.84 334.60L118.93 334.60L120.32 333.90L121.02 333.21M113.37 333.21L116.84 335.30L119.62 335.30L120.32 334.60L121.02 333.21L121.02 331.81" fill="none" stroke="#000" stroke-width="1.22" stroke-linejoin="round" stroke-linecap="butt"/>
<path d="M117.54 179.24L117.54 192.50M118.23 177.84L118.23 192.50M118.23 177.84L110.59 188.31L121.71 188.31M115.45 192.50L120.32 192.50" fill="none" stroke="#000" stroke-width="1.22" stroke-linejoin="round" stroke-linecap="butt"/>
<path d="M119.62 42.79L118.93 43.49L119.62 44.19L120.32 43.49L120.32 42.79L119.62 41.40L118.23 40.70L116.15 40.70L114.06 41.40L112.67 42.79L111.98 44.19L111.28 46.98L111.28 51.17L111.98 53.26L113.37 54.66L115.45 55.36L116.84 55.36L118.93 54.66L120.32 53.26L121.02 51.17L121.02 50.47L120.32 48.38L118.93 46.98L116.84 46.28L116.15 46.28L114.06 46.98L112.67 48.38L111.98 50.47M116.15 40.70L114.76 41.40L113.37 42.79L112.67 44.19L111.98 46.98L111.98 51.17L112.67 53.26L114.06 54.66L115.45 55.36M116.84 55.36L118.23 54.66L119.62 53.26L120.32 51.17L120.32 50.47L119.62 48.38L118.23 46.98L116.84 46.28" fill="none" stroke="#000" stroke-width="1.22" stroke-linejoin="round" stroke-linecap="butt"/>
<path d="M397.18 941.09L399.93 955.75M397.87 941.09L399.93 952.26M402.68 941.09L399.93 955.75M402.68 941.09L405.44 955.75M403.37 941.09L405.44 952.26M408.19 941.09L405.44 955.75M395.12 941.09L399.93 941.09M406.12 941.09L410.25 941.09M414.38 947.37L414.38 948.07L413.69 948.07L413.69 947.37L414.38 946.68L415.76 945.98L418.51 945.98L419.88 946.68L420.57 947.37L421.26 948.77L421.26 953.66L421.95 955.05L422.64 955.75M420.57 947.37L420.57 953.66L421.26 955.05L422.64 955.75L423.32 955.75M420.57 948.77L419.88 949.47L415.76 950.17L413.69 950.86L413.00 952.26L413.00 953.66L413.69 955.05L415.76 955.75L417.82 955.75L419.20 955.05L420.57 953.66M415.76 950.17L414.38 950.86L413.69 952.26L413.69 953.66L414.38 955.05L415.76 955.75M426.76 945.98L430.89 955.75M427.45 945.98L430.89 954.35M435.02 945.98L430.89 955.75M425.39 945.98L429.52 945.98M432.27 945.98L436.40 945.98M439.84 950.17L448.09 950.17L448.09 948.77L447.40 947.37L446.72 946.68L445.34 945.98L443.28 945.98L441.21 946.68L439.84 948.07L439.15 950.17L439.15 951.56L439.84 953.66L441.21 955.05L443.28 955.75L444.65 955.75L446.72 955.05L448.09 953.66M447.40 950.17L447.40 948.07L446.72 946.68M443.28 945.98L441.90 946.68L440.52 948.07L439.84 950.17L439.84 951.56L440.52 953.66L441.90 955.05L443.28 955.75M453.60 941.09L453.60 955.75M454.28 941.09L454.28 955.75M451.53 941.09L454.28 941.09M451.53 955.75L456.35 955.75M460.48 950.17L468.73 950.17L468.73 948.77L468.04 947.37L467.36 946.68L465.98 945.98L463.92 945.98L461.85 946.68L460.48 948.07L459.79 950.17L459.79 951.56L460.48 953.66L461.85 955.05L463.92 955.75L465.29 955.75L467.36 955.05L468.73 953.66M468.04 950.17L468.04 948.07L467.36 946.68M463.92 945.98L462.54 946.68L461.16 948.07L460.48 950.17L460.48 951.56L461.16 953.66L462.54 955.05L463.92 955.75M474.24 945.98L474.24 955.75M474.92 945.98L474.92 955.75M474.92 948.07L476.30 946.68L478.36 945.98L479.74 945.98L481.80 946.68L482.49 948.07L482.49 955.75M479.74 945.98L481.12 946.68L481.80 948.07L481.80 955.75M472.17 945.98L474.92 945.98M472.17 955.75L476.99 955.75M479.74 955.75L484.56 955.75M491.44 945.98L490.06 946.68L489.37 947.37L488.68 948.77L488.68 950.17L489.37 951.56L490.06 952.26L491.44 952.96L492.81 952.96L494.19 952.26L494.88 951.56L495.56 950.17L495.56 948.77L494.88 947.37L494.19 946.68L492.81 945.98L491.44 945.98M490.06 946.68L489.37 948.07L489.37 950.86L490.06 952.26M494.19 952.26L494.88 950.86L494.88 948.07L494.19 946.68M494.88 947.37L495.56 946.68L496.94 945.98L496.94 946.68L495.56 946.68M489.37 951.56L488.68 952.26L488.00 953.66L488.00 954.35L488.68 955.75L490.75 956.45L494.19 956.45L496.25 957.15L496.94 957.84M488.00 954.35L488.68 955.05L490.75 955.75L494.19 955.75L496.25 956.45L496.94 957.84L496.94 958.54L496.25 959.94L494.19 960.64L490.06 960.64L488.00 959.94L487.31 958.54L487.31 957.84L488.00 956.45L490.06 955.75M502.44 941.09L502.44 952.96L503.13 955.05L504.51 955.75L505.88 955.75L507.26 955.05L507.95 953.66M503.13 941.09L503.13 952.96L503.82 955.05L504.51 955.75M500.38 945.98L505.88 945.98M512.76 941.09L512.76 955.75M513.45 941.09L513.45 955.75M513.45 948.07L514.83 946.68L516.89 945.98L518.27 945.98L520.33 946.68L521.02 948.07L521.02 955.75M518.27 945.98L519.64 946.68L520.33 948.07L520.33 955.75M510.70 941.09L513.45 941.09M510.70 955.75L515.52 955.75M518.27 955.75L523.08 955.75M543.04 938.30L541.66 939.70L540.28 941.79L538.91 944.58L538.22 948.07L538.22 950.86L538.91 954.35L540.28 957.15L541.66 959.24L543.04 960.64M541.66 939.70L540.28 942.49L539.60 944.58L538.91 948.07L538.91 950.86L539.60 954.35L540.28 956.45L541.66 959.24M548.54 947.37L548.54 948.07L547.85 948.07L547.85 947.37L548.54 946.68L549.92 945.98L552.67 945.98L554.04 946.68L554.73 947.37L555.42 948.77L555.42 953.66L556.11 955.05L556.80 955.75M554.73 947.37L554.73 953.66L555.42 955.05L556.80 955.75L557.48 955.75M554.73 948.77L554.04 949.47L549.92 950.17L547.85 950.86L547.16 952.26L547.16 953.66L547.85 955.05L549.92 955.75L551.98 955.75L553.36 955.05L554.73 953.66M549.92 950.17L548.54 950.86L547.85 952.26L547.85 953.66L548.54 955.05L549.92 955.75M562.30 945.98L562.30 955.75M562.99 945.98L562.99 955.75M562.99 948.07L564.36 946.68L566.43 945.98L567.80 945.98L569.87 946.68L570.56 948.07L570.56 955.75M567.80 945.98L569.18 946.68L569.87 948.07L569.87 955.75M560.24 945.98L562.99 945.98M560.24 955.75L565.05 955.75M567.80 955.75L572.62 955.75M579.50 945.98L578.12 946.68L577.44 947.37L576.75 948.77L576.75 950.17L577.44 951.56L578.12 952.26L579.50 952.96L580.88 952.96L582.25 952.26L582.94 951.56L583.63 950.17L583.63 948.77L582.94 947.37L582.25 946.68L580.88 945.98L579.50 945.98M578.12 946.68L577.44 948.07L577.44 950.86L578.12 952.26M582.25 952.26L582.94 950.86L582.94 948.07L582.25 946.68M582.94 947.37L583.63 946.68L585.00 945.98L585.00 946.68L583.63 946.68M577.44 951.56L576.75 952.26L576.06 953.66L576.06 954.35L576.75 955.75L578.81 956.45L582.25 956.45L584.32 957.15L585.00 957.84M576.06 954.35L576.75 955.05L578.81 955.75L582.25 955.75L584.32 956.45L585.00 957.84L585.00 958.54L584.32 959.94L582.25 960.64L578.12 960.64L576.06 959.94L575.37 958.54L575.37 957.84L576.06 956.45L578.12 955.75M596.01 947.37L596.70 945.98L596.70 948.77L596.01 947.37L595.32 946.68L593.95 945.98L591.20 945.98L589.82 946.68L589.13 947.37L589.13 948.77L589.82 949.47L591.20 950.17L594.64 951.56L596.01 952.26L596.70 952.96M589.13 948.07L589.82 948.77L591.20 949.47L594.64 950.86L596.01 951.56L596.70 952.26L596.70 954.35L596.01 955.05L594.64 955.75L591.88 955.75L590.51 955.05L589.82 954.35L589.13 952.96L589.13 955.75L589.82 954.35M602.20 941.09L602.20 952.96L602.89 955.05L604.27 955.75L605.64 955.75L607.02 955.05L607.71 953.66M602.89 941.09L602.89 952.96L603.58 955.05L604.27 955.75M600.14 945.98L605.64 945.98M612.52 945.98L612.52 955.75M613.21 945.98L613.21 955.75M613.21 950.17L613.90 948.07L615.28 946.68L616.65 945.98L618.72 945.98L619.40 946.68L619.40 947.37L618.72 948.07L618.03 947.37L618.72 946.68M610.46 945.98L613.21 945.98M610.46 955.75L615.28 955.75M626.97 945.98L624.91 946.68L623.53 948.07L622.84 950.17L622.84 951.56L623.53 953.66L624.91 955.05L626.97 955.75L628.35 955.75L630.41 955.05L631.79 953.66L632.48 951.56L632.48 950.17L631.79 948.07L630.41 946.68L628.35 945.98L626.97 945.98M626.97 945.98L625.60 946.68L624.22 948.07L623.53 950.17L623.53 951.56L624.22 953.66L625.60 955.05L626.97 955.75M628.35 955.75L629.72 955.05L631.10 953.66L631.79 951.56L631.79 950.17L631.10 948.07L629.72 946.68L628.35 945.98M637.98 945.98L637.98 955.75M638.67 945.98L638.67 955.75M638.67 948.07L640.04 946.68L642.11 945.98L643.48 945.98L645.55 946.68L646.24 948.07L646.24 955.75M643.48 945.98L644.86 946.68L645.55 948.07L645.55 955.75M646.24 948.07L647.61 946.68L649.68 945.98L651.05 945.98L653.12 946.68L653.80 948.07L653.80 955.75M651.05 945.98L652.43 946.68L653.12 948.07L653.12 955.75M635.92 945.98L638.67 945.98M635.92 955.75L640.73 955.75M643.48 955.75L648.30 955.75M651.05 955.75L655.87 955.75M666.19 947.37L666.88 945.98L666.88 948.77L666.19 947.37L665.50 946.68L664.12 945.98L661.37 945.98L660.00 946.68L659.31 947.37L659.31 948.77L660.00 949.47L661.37 950.17L664.81 951.56L666.19 952.26L666.88 952.96M659.31 948.07L660.00 948.77L661.37 949.47L664.81 950.86L666.19 951.56L666.88 952.26L666.88 954.35L666.19 955.05L664.81 955.75L662.06 955.75L660.68 955.05L660.00 954.35L659.31 952.96L659.31 955.75L660.00 954.35M671.00 938.30L672.38 939.70L673.76 941.79L675.13 944.58L675.82 948.07L675.82 950.86L675.13 954.35L673.76 957.15L672.38 959.24L671.00 960.64M672.38 939.70L673.76 942.49L674.44 944.58L675.13 948.07L675.13 950.86L674.44 954.35L673.76 956.45L672.38 959.24" fill="none" stroke="#000" stroke-width="1.22" stroke-linejoin="round" stroke-linecap="butt"/>
<path d="M58.24 572.41L72.90 572.41M58.24 571.72L72.90 571.72M62.43 567.60L68.01 567.60M58.24 574.48L58.24 563.47L62.43 563.47L58.24 564.16M65.22 571.72L65.22 567.60M72.90 574.48L72.90 569.66M58.24 558.65L72.90 558.65M58.24 557.96L72.90 557.96M58.24 560.72L58.24 557.96M72.90 560.72L72.90 555.90M63.13 551.08L70.81 551.08L72.20 550.40L72.90 548.33L72.90 546.96L72.20 544.89L70.81 543.52M63.13 550.40L70.81 550.40L72.20 549.71L72.90 548.33M63.13 543.52L72.90 543.52M63.13 542.83L72.90 542.83M63.13 553.15L63.13 550.40M63.13 545.58L63.13 542.83M72.90 543.52L72.90 540.76M63.13 536.64L72.90 529.07M63.13 535.95L72.90 528.38M63.13 528.38L72.90 536.64M63.13 538.01L63.13 533.88M63.13 531.13L63.13 527.00M72.90 538.01L72.90 533.88M72.90 531.13L72.90 527.00M55.45 507.05L56.85 508.43L58.94 509.80L61.73 511.18L65.22 511.87L68.01 511.87L71.50 511.18L74.30 509.80L76.39 508.43L77.79 507.05M56.85 508.43L59.64 509.80L61.73 510.49L65.22 511.18L68.01 511.18L71.50 510.49L73.60 509.80L76.39 508.43M63.13 501.55L72.90 501.55M63.13 500.86L72.90 500.86M65.22 500.86L63.83 499.48L63.13 497.42L63.13 496.04L63.83 493.98L65.22 493.29L72.90 493.29M63.13 496.04L63.83 494.67L65.22 493.98L72.90 493.98M63.13 503.61L63.13 500.86M72.90 503.61L72.90 498.80M72.90 496.04L72.90 491.23M63.13 483.66L63.83 485.72L65.22 487.10L67.32 487.79L68.71 487.79L70.81 487.10L72.20 485.72L72.90 483.66L72.90 482.28L72.20 480.22L70.81 478.84L68.71 478.16L67.32 478.16L65.22 478.84L63.83 480.22L63.13 482.28L63.13 483.66M63.13 483.66L63.83 485.04L65.22 486.41L67.32 487.10L68.71 487.10L70.81 486.41L72.20 485.04L72.90 483.66M72.90 482.28L72.20 480.91L70.81 479.53L68.71 478.84L67.32 478.84L65.22 479.53L63.83 480.91L63.13 482.28M63.13 472.65L72.90 472.65M63.13 471.96L72.90 471.96M67.32 471.96L65.22 471.28L63.83 469.90L63.13 468.52L63.13 466.46L63.83 465.77L64.52 465.77L65.22 466.46L64.52 467.15L63.83 466.46M63.13 474.72L63.13 471.96M72.90 474.72L72.90 469.90M63.13 460.96L72.90 460.96M63.13 460.27L72.90 460.27M65.22 460.27L63.83 458.89L63.13 456.83L63.13 455.45L63.83 453.39L65.22 452.70L72.90 452.70M63.13 455.45L63.83 454.08L65.22 453.39L72.90 453.39M65.22 452.70L63.83 451.32L63.13 449.26L63.13 447.88L63.83 445.82L65.22 445.13L72.90 445.13M63.13 447.88L63.83 446.51L65.22 445.82L72.90 445.82M63.13 463.02L63.13 460.27M72.90 463.02L72.90 458.20M72.90 455.45L72.90 450.64M72.90 447.88L72.90 443.07M64.52 438.25L65.22 438.25L65.22 438.94L64.52 438.94L63.83 438.25L63.13 436.88L63.13 434.12L63.83 432.75L64.52 432.06L65.92 431.37L70.81 431.37L72.20 430.68L72.90 430.00M64.52 432.06L70.81 432.06L72.20 431.37L72.90 430.00L72.90 429.31M65.92 432.06L66.62 432.75L67.32 436.88L68.01 438.94L69.41 439.63L70.81 439.63L72.20 438.94L72.90 436.88L72.90 434.81L72.20 433.44L70.81 432.06M67.32 436.88L68.01 438.25L69.41 438.94L70.81 438.94L72.20 438.25L72.90 436.88M58.24 424.49L72.90 424.49M58.24 423.80L72.90 423.80M58.24 426.56L58.24 423.80M72.90 426.56L72.90 421.74M58.24 416.92L58.94 417.61L59.64 416.92L58.94 416.24L58.24 416.92M63.13 416.92L72.90 416.92M63.13 416.24L72.90 416.24M63.13 418.99L63.13 416.24M72.90 418.99L72.90 414.17M64.52 403.85L63.13 403.16L65.92 403.16L64.52 403.85L63.83 404.54L63.13 405.92L63.13 408.67L63.83 410.04L64.52 410.73L65.92 410.73L66.62 410.04L67.32 408.67L68.71 405.23L69.41 403.85L70.11 403.16M65.22 410.73L65.92 410.04L66.62 408.67L68.01 405.23L68.71 403.85L69.41 403.16L71.50 403.16L72.20 403.85L72.90 405.23L72.90 407.98L72.20 409.36L71.50 410.04L70.11 410.73L72.90 410.73L71.50 410.04M67.32 398.35L67.32 390.09L65.92 390.09L64.52 390.78L63.83 391.47L63.13 392.84L63.13 394.91L63.83 396.97L65.22 398.35L67.32 399.04L68.71 399.04L70.81 398.35L72.20 396.97L72.90 394.91L72.90 393.53L72.20 391.47L70.81 390.09M67.32 390.78L65.22 390.78L63.83 391.47M63.13 394.91L63.83 396.28L65.22 397.66L67.32 398.35L68.71 398.35L70.81 397.66L72.20 396.28L72.90 394.91M58.24 377.71L72.90 377.71M58.24 377.02L72.90 377.02M65.22 377.71L63.83 379.08L63.13 380.46L63.13 381.84L63.83 383.90L65.22 385.28L67.32 385.96L68.71 385.96L70.81 385.28L72.20 383.90L72.90 381.84L72.90 380.46L72.20 379.08L70.81 377.71M63.13 381.84L63.83 383.21L65.22 384.59L67.32 385.28L68.71 385.28L70.81 384.59L72.20 383.21L72.90 381.84M58.24 379.77L58.24 377.02M72.90 377.71L72.90 374.96M55.45 371.52L56.85 370.14L58.94 368.76L61.73 367.39L65.22 366.70L68.01 366.70L71.50 367.39L74.30 368.76L76.39 370.14L77.79 371.52M56.85 370.14L59.64 368.76L61.73 368.08L65.22 367.39L68.01 367.39L71.50 368.08L73.60 368.76L76.39 370.14" fill="none" stroke="#000" stroke-width="1.22" stroke-linejoin="round" stroke-linecap="butt"/>
<path d="M796.05 204.84L796.05 219.50M796.73 204.84L796.73 219.50M793.98 204.84L798.80 204.84M793.98 219.50L798.80 219.50M804.07 204.84L804.07 219.50M804.76 204.84L804.76 219.50M802.01 204.84L810.27 204.84L812.34 205.54L813.03 206.24L813.72 207.63L813.72 209.03L813.03 210.43L812.34 211.12L810.27 211.82L804.76 211.82M810.27 204.84L811.65 205.54L812.34 206.24L813.03 207.63L813.03 209.03L812.34 210.43L811.65 211.12L810.27 211.82M802.01 219.50L806.83 219.50M808.21 211.82L809.59 212.52L810.27 213.22L812.34 218.10L813.03 218.80L813.72 218.80L814.41 218.10M809.59 212.52L810.27 213.92L811.65 218.80L812.34 219.50L813.72 219.50L814.41 218.10L814.41 217.41M827.75 206.94L828.44 209.03L828.44 204.84L827.75 206.94L826.37 205.54L824.31 204.84L822.93 204.84L820.86 205.54L819.48 206.94L818.79 208.33L818.10 210.43L818.10 213.92L818.79 216.01L819.48 217.41L820.86 218.80L822.93 219.50L824.31 219.50L826.37 218.80L827.75 217.41L828.44 216.01M822.93 204.84L821.55 205.54L820.17 206.94L819.48 208.33L818.79 210.43L818.79 213.92L819.48 216.01L820.17 217.41L821.55 218.80L822.93 219.50M834.84 207.63L836.22 206.94L838.28 204.84L838.28 219.50M837.60 205.54L837.60 219.50M834.84 219.50L841.04 219.50M850.69 204.84L848.62 205.54L847.24 207.63L846.55 211.12L846.55 213.22L847.24 216.71L848.62 218.80L850.69 219.50L852.07 219.50L854.13 218.80L855.51 216.71L856.20 213.22L856.20 211.12L855.51 207.63L854.13 205.54L852.07 204.84L850.69 204.84M850.69 204.84L849.31 205.54L848.62 206.24L847.93 207.63L847.24 211.12L847.24 213.22L847.93 216.71L848.62 218.10L849.31 218.80L850.69 219.50M852.07 219.50L853.44 218.80L854.13 218.10L854.82 216.71L855.51 213.22L855.51 211.12L854.82 207.63L854.13 206.24L853.44 205.54L852.07 204.84M866.53 206.24L866.53 219.50M867.22 204.84L867.22 219.50M867.22 204.84L859.64 215.31L870.67 215.31M864.47 219.50L869.29 219.50M874.80 207.63L875.49 208.33L874.80 209.03L874.11 208.33L874.11 207.63L874.80 206.24L875.49 205.54L877.56 204.84L880.31 204.84L882.38 205.54L883.07 206.24L883.76 207.63L883.76 209.03L883.07 210.43L881.00 211.82L877.56 213.22L876.18 213.92L874.80 215.31L874.11 217.41L874.11 219.50M880.31 204.84L881.69 205.54L882.38 206.24L883.07 207.63L883.07 209.03L882.38 210.43L880.31 211.82L877.56 213.22M874.11 218.10L874.80 217.41L876.18 217.41L879.62 218.80L881.69 218.80L883.07 218.10L883.76 217.41M876.18 217.41L879.62 219.50L882.38 219.50L883.07 218.80L883.76 217.41L883.76 216.01M892.03 204.84L889.96 205.54L888.58 207.63L887.89 211.12L887.89 213.22L888.58 216.71L889.96 218.80L892.03 219.50L893.40 219.50L895.47 218.80L896.85 216.71L897.54 213.22L897.54 211.12L896.85 207.63L895.47 205.54L893.40 204.84L892.03 204.84M892.03 204.84L890.65 205.54L889.96 206.24L889.27 207.63L888.58 211.12L888.58 213.22L889.27 216.71L889.96 218.10L890.65 218.80L892.03 219.50M893.40 219.50L894.78 218.80L895.47 218.10L896.16 216.71L896.85 213.22L896.85 211.12L896.16 207.63L895.47 206.24L894.78 205.54L893.40 204.84" fill="none" stroke="#000" stroke-width="1.22" stroke-linejoin="round" stroke-linecap="butt"/>
<path d="M796.56 304.80L796.56 319.46M797.25 304.80L797.25 319.46M805.56 304.80L805.56 319.46M806.25 304.80L806.25 319.46M794.48 304.80L799.33 304.80M803.48 304.80L808.32 304.80M797.25 311.78L805.56 311.78M794.48 319.46L799.33 319.46M803.48 319.46L808.32 319.46M812.48 313.88L820.78 313.88L820.78 312.48L820.09 311.08L819.40 310.39L818.01 309.69L815.94 309.69L813.86 310.39L812.48 311.78L811.78 313.88L811.78 315.27L812.48 317.37L813.86 318.76L815.94 319.46L817.32 319.46L819.40 318.76L820.78 317.37M820.09 313.88L820.09 311.78L819.40 310.39M815.94 309.69L814.55 310.39L813.17 311.78L812.48 313.88L812.48 315.27L813.17 317.37L814.55 318.76L815.94 319.46M826.32 309.69L826.32 319.46M827.01 309.69L827.01 319.46M827.01 311.78L828.39 310.39L830.47 309.69L831.85 309.69L833.93 310.39L834.62 311.78L834.62 319.46M831.85 309.69L833.24 310.39L833.93 311.78L833.93 319.46M824.24 309.69L827.01 309.69M824.24 319.46L829.08 319.46M831.85 319.46L836.70 319.46M840.85 307.59L841.54 308.29L840.85 308.99L840.16 308.29L840.16 307.59L840.85 306.20L841.54 305.50L843.62 304.80L846.38 304.80L848.46 305.50L849.15 306.90L849.15 308.99L848.46 310.39L846.38 311.08L844.31 311.08M846.38 304.80L847.77 305.50L848.46 306.90L848.46 308.99L847.77 310.39L846.38 311.08M846.38 311.08L847.77 311.78L849.15 313.18L849.84 314.57L849.84 316.67L849.15 318.06L848.46 318.76L846.38 319.46L843.62 319.46L841.54 318.76L840.85 318.06L840.16 316.67L840.16 315.97L840.85 315.27L841.54 315.97L840.85 316.67M848.46 312.48L849.15 314.57L849.15 316.67L848.46 318.06L847.77 318.76L846.38 319.46M854.69 313.18L867.14 313.18M874.06 307.59L875.45 306.90L877.52 304.80L877.52 319.46M876.83 305.50L876.83 319.46M874.06 319.46L880.29 319.46M886.52 307.59L887.21 308.29L886.52 308.99L885.83 308.29L885.83 307.59L886.52 306.20L887.21 305.50L889.29 304.80L892.06 304.80L894.13 305.50L894.82 306.90L894.82 308.99L894.13 310.39L892.06 311.08L889.98 311.08M892.06 304.80L893.44 305.50L894.13 306.90L894.13 308.99L893.44 310.39L892.06 311.08M892.06 311.08L893.44 311.78L894.82 313.18L895.52 314.57L895.52 316.67L894.82 318.06L894.13 318.76L892.06 319.46L889.29 319.46L887.21 318.76L886.52 318.06L885.83 316.67L885.83 315.97L886.52 315.27L887.21 315.97L886.52 316.67M894.13 312.48L894.82 314.57L894.82 316.67L894.13 318.06L893.44 318.76L892.06 319.46M899.67 304.80L899.67 308.99M899.67 307.59L900.36 306.20L901.74 304.80L903.13 304.80L906.59 306.90L907.97 306.90L908.66 306.20L909.36 304.80M900.36 306.20L901.74 305.50L903.13 305.50L906.59 306.90M909.36 304.80L909.36 306.90L908.66 308.99L905.90 312.48L905.20 313.88L904.51 315.97L904.51 319.46M908.66 308.99L905.20 312.48L904.51 313.88L903.82 315.97L903.82 319.46M922.50 309.69L921.81 311.78L920.43 313.18L918.35 313.88L917.66 313.88L915.58 313.18L914.20 311.78L913.51 309.69L913.51 308.99L914.20 306.90L915.58 305.50L917.66 304.80L919.04 304.80L921.12 305.50L922.50 306.90L923.20 308.99L923.20 313.18L922.50 315.97L921.81 317.37L920.43 318.76L918.35 319.46L916.28 319.46L914.89 318.76L914.20 317.37L914.20 316.67L914.89 315.97L915.58 316.67L914.89 317.37M917.66 313.88L916.28 313.18L914.89 311.78L914.20 309.69L914.20 308.99L914.89 306.90L916.28 305.50L917.66 304.80M919.04 304.80L920.43 305.50L921.81 306.90L922.50 308.99L922.50 313.18L921.81 315.97L921.12 317.37L919.74 318.76L918.35 319.46" fill="none" stroke="#332288" stroke-width="1.22" stroke-linejoin="round" stroke-linecap="butt"/>
<path d="M855.13 369.06L857.91 383.72M855.83 369.06L857.91 380.23M860.69 369.06L857.91 383.72M860.69 369.06L863.47 383.72M861.38 369.06L863.47 380.23M866.25 369.06L863.47 383.72M853.05 369.06L857.91 369.06M864.17 369.06L868.34 369.06M873.20 371.85L874.59 371.16L876.68 369.06L876.68 383.72M875.98 369.76L875.98 383.72M873.20 383.72L879.46 383.72M885.71 371.85L886.40 372.55L885.71 373.25L885.01 372.55L885.01 371.85L885.71 370.46L886.40 369.76L888.49 369.06L891.27 369.06L893.36 369.76L894.05 370.46L894.75 371.85L894.75 373.25L894.05 374.65L891.97 376.04L888.49 377.44L887.10 378.14L885.71 379.53L885.01 381.63L885.01 383.72M891.27 369.06L892.66 369.76L893.36 370.46L894.05 371.85L894.05 373.25L893.36 374.65L891.27 376.04L888.49 377.44M885.01 382.32L885.71 381.63L887.10 381.63L890.58 383.02L892.66 383.02L894.05 382.32L894.75 381.63M887.10 381.63L890.58 383.72L893.36 383.72L894.05 383.02L894.75 381.63L894.75 380.23" fill="none" stroke="#44AA99" stroke-width="1.22" stroke-linejoin="round" stroke-linecap="butt"/>
<path d="M855.13 440.46L857.91 455.12M855.83 440.46L857.91 451.63M860.69 440.46L857.91 455.12M860.69 440.46L863.47 455.12M861.38 440.46L863.47 451.63M866.25 440.46L863.47 455.12M853.05 440.46L857.91 440.46M864.17 440.46L868.34 440.46M873.20 443.25L874.59 442.56L876.68 440.46L876.68 455.12M875.98 441.16L875.98 455.12M873.20 455.12L879.46 455.12M893.36 442.56L892.66 443.25L893.36 443.95L894.05 443.25L894.05 442.56L893.36 441.16L891.97 440.46L889.88 440.46L887.80 441.16L886.40 442.56L885.71 443.95L885.01 446.74L885.01 450.93L885.71 453.03L887.10 454.42L889.19 455.12L890.58 455.12L892.66 454.42L894.05 453.03L894.75 450.93L894.75 450.23L894.05 448.14L892.66 446.74L890.58 446.05L889.88 446.05L887.80 446.74L886.40 448.14L885.71 450.23M889.88 440.46L888.49 441.16L887.10 442.56L886.40 443.95L885.71 446.74L885.71 450.93L886.40 453.03L887.80 454.42L889.19 455.12M890.58 455.12L891.97 454.42L893.36 453.03L894.05 450.93L894.05 450.23L893.36 448.14L891.97 446.74L890.58 446.05M900.31 446.74L900.31 447.44L899.61 447.44L899.61 446.74L900.31 446.05L901.70 445.35L904.48 445.35L905.87 446.05L906.56 446.74L907.25 448.14L907.25 453.03L907.95 454.42L908.64 455.12M906.56 446.74L906.56 453.03L907.25 454.42L908.64 455.12L909.34 455.12M906.56 448.14L905.87 448.84L901.70 449.54L899.61 450.23L898.91 451.63L898.91 453.03L899.61 454.42L901.70 455.12L903.78 455.12L905.17 454.42L906.56 453.03M901.70 449.54L900.31 450.23L899.61 451.63L899.61 453.03L900.31 454.42L901.70 455.12" fill="none" stroke="#117733" stroke-width="1.22" stroke-linejoin="round" stroke-linecap="butt"/>
<path d="M855.13 511.86L857.91 526.52M855.83 511.86L857.91 523.03M860.69 511.86L857.91 526.52M860.69 511.86L863.47 526.52M861.38 511.86L863.47 523.03M866.25 511.86L863.47 526.52M853.05 511.86L857.91 511.86M864.17 511.86L868.34 511.86M871.81 514.65L872.50 515.35L871.81 516.05L871.12 515.35L871.12 514.65L871.81 513.26L872.50 512.56L874.59 511.86L877.37 511.86L879.46 512.56L880.15 513.26L880.85 514.65L880.85 516.05L880.15 517.45L878.07 518.84L874.59 520.24L873.20 520.94L871.81 522.33L871.12 524.43L871.12 526.52M877.37 511.86L878.76 512.56L879.46 513.26L880.15 514.65L880.15 516.05L879.46 517.45L877.37 518.84L874.59 520.24M871.12 525.12L871.81 524.43L873.20 524.43L876.68 525.82L878.76 525.82L880.15 525.12L880.85 524.43M873.20 524.43L876.68 526.52L879.46 526.52L880.15 525.82L880.85 524.43L880.85 523.03M893.36 513.96L892.66 514.65L893.36 515.35L894.05 514.65L894.05 513.96L893.36 512.56L891.97 511.86L889.88 511.86L887.80 512.56L886.40 513.96L885.71 515.35L885.01 518.14L885.01 522.33L885.71 524.43L887.10 525.82L889.19 526.52L890.58 526.52L892.66 525.82L894.05 524.43L894.75 522.33L894.75 521.63L894.05 519.54L892.66 518.14L890.58 517.45L889.88 517.45L887.80 518.14L886.40 519.54L885.71 521.63M889.88 511.86L888.49 512.56L887.10 513.96L886.40 515.35L885.71 518.14L885.71 522.33L886.40 524.43L887.80 525.82L889.19 526.52M890.58 526.52L891.97 525.82L893.36 524.43L894.05 522.33L894.05 521.63L893.36 519.54L891.97 518.14L890.58 517.45M900.31 511.86L898.91 518.84M898.91 518.84L900.31 517.45L902.39 516.75L904.48 516.75L906.56 517.45L907.95 518.84L908.64 520.94L908.64 522.33L907.95 524.43L906.56 525.82L904.48 526.52L902.39 526.52L900.31 525.82L899.61 525.12L898.91 523.73L898.91 523.03L899.61 522.33L900.31 523.03L899.61 523.73M904.48 516.75L905.87 517.45L907.25 518.84L907.95 520.94L907.95 522.33L907.25 524.43L905.87 525.82L904.48 526.52M900.31 511.86L907.25 511.86M900.31 512.56L903.78 512.56L907.25 511.86" fill="none" stroke="#999933" stroke-width="1.22" stroke-linejoin="round" stroke-linecap="butt"/>
<path d="M855.13 583.26L857.91 597.92M855.83 583.26L857.91 594.43M860.69 583.26L857.91 597.92M860.69 583.26L863.47 597.92M861.38 583.26L863.47 594.43M866.25 583.26L863.47 597.92M853.05 583.26L857.91 583.26M864.17 583.26L868.34 583.26M871.81 586.05L872.50 586.75L871.81 587.45L871.12 586.75L871.12 586.05L871.81 584.66L872.50 583.96L874.59 583.26L877.37 583.26L879.46 583.96L880.15 585.36L880.15 587.45L879.46 588.85L877.37 589.54L875.28 589.54M877.37 583.26L878.76 583.96L879.46 585.36L879.46 587.45L878.76 588.85L877.37 589.54M877.37 589.54L878.76 590.24L880.15 591.64L880.85 593.03L880.85 595.13L880.15 596.52L879.46 597.22L877.37 597.92L874.59 597.92L872.50 597.22L871.81 596.52L871.12 595.13L871.12 594.43L871.81 593.73L872.50 594.43L871.81 595.13M879.46 590.94L880.15 593.03L880.15 595.13L879.46 596.52L878.76 597.22L877.37 597.92M885.71 586.05L886.40 586.75L885.71 587.45L885.01 586.75L885.01 586.05L885.71 584.66L886.40 583.96L888.49 583.26L891.27 583.26L893.36 583.96L894.05 584.66L894.75 586.05L894.75 587.45L894.05 588.85L891.97 590.24L888.49 591.64L887.10 592.34L885.71 593.73L885.01 595.83L885.01 597.92M891.27 583.26L892.66 583.96L893.36 584.66L894.05 586.05L894.05 587.45L893.36 588.85L891.27 590.24L888.49 591.64M885.01 596.52L885.71 595.83L887.10 595.83L890.58 597.22L892.66 597.22L894.05 596.52L894.75 595.83M887.10 595.83L890.58 597.92L893.36 597.92L894.05 597.22L894.75 595.83L894.75 594.43" fill="none" stroke="#DDCC77" stroke-width="1.22" stroke-linejoin="round" stroke-linecap="butt"/>
<path d="M855.13 654.66L857.91 669.32M855.83 654.66L857.91 665.83M860.69 654.66L857.91 669.32M860.69 654.66L863.47 669.32M861.38 654.66L863.47 665.83M866.25 654.66L863.47 669.32M853.05 654.66L857.91 654.66M864.17 654.66L868.34 654.66M877.37 656.06L877.37 669.32M878.07 654.66L878.07 669.32M878.07 654.66L870.42 665.13L881.54 665.13M875.28 669.32L880.15 669.32" fill="none" stroke="#CC6677" stroke-width="1.22" stroke-linejoin="round" stroke-linecap="butt"/>
<path d="M855.13 726.06L857.91 740.72M855.83 726.06L857.91 737.23M860.69 726.06L857.91 740.72M860.69 726.06L863.47 740.72M861.38 726.06L863.47 737.23M866.25 726.06L863.47 740.72M853.05 726.06L857.91 726.06M864.17 726.06L868.34 726.06M874.59 726.06L872.50 726.76L871.81 728.16L871.81 730.25L872.50 731.65L874.59 732.34L877.37 732.34L879.46 731.65L880.15 730.25L880.15 728.16L879.46 726.76L877.37 726.06L874.59 726.06M874.59 726.06L873.20 726.76L872.50 728.16L872.50 730.25L873.20 731.65L874.59 732.34M877.37 732.34L878.76 731.65L879.46 730.25L879.46 728.16L878.76 726.76L877.37 726.06M874.59 732.34L872.50 733.04L871.81 733.74L871.12 735.14L871.12 737.93L871.81 739.32L872.50 740.02L874.59 740.72L877.37 740.72L879.46 740.02L880.15 739.32L880.85 737.93L880.85 735.14L880.15 733.74L879.46 733.04L877.37 732.34M874.59 732.34L873.20 733.04L872.50 733.74L871.81 735.14L871.81 737.93L872.50 739.32L873.20 740.02L874.59 740.72M877.37 740.72L878.76 740.02L879.46 739.32L880.15 737.93L880.15 735.14L879.46 733.74L878.76 733.04L877.37 732.34M886.40 732.34L886.40 733.04L885.71 733.04L885.71 732.34L886.40 731.65L887.80 730.95L890.58 730.95L891.97 731.65L892.66 732.34L893.36 733.74L893.36 738.63L894.05 740.02L894.75 740.72M892.66 732.34L892.66 738.63L893.36 740.02L894.75 740.72L895.44 740.72M892.66 733.74L891.97 734.44L887.80 735.14L885.71 735.83L885.01 737.23L885.01 738.63L885.71 740.02L887.80 740.72L889.88 740.72L891.27 740.02L892.66 738.63M887.80 735.14L886.40 735.83L885.71 737.23L885.71 738.63L886.40 740.02L887.80 740.72" fill="none" stroke="#882255" stroke-width="1.22" stroke-linejoin="round" stroke-linecap="butt"/>
<path d="M796.27 811.74L796.27 826.40M796.97 811.74L796.97 826.40M794.19 811.74L796.97 811.74M794.19 826.40L799.05 826.40M803.92 811.74L803.92 823.61L804.62 825.70L806.00 826.40L807.39 826.40L808.78 825.70L809.48 824.31M804.62 811.74L804.62 823.61L805.31 825.70L806.00 826.40M801.83 816.63L807.39 816.63M814.34 811.74L814.34 823.61L815.04 825.70L816.43 826.40L817.82 826.40L819.21 825.70L819.90 824.31M815.04 811.74L815.04 823.61L815.73 825.70L816.43 826.40M812.26 816.63L817.82 816.63M823.38 811.74L823.38 815.93M823.38 814.53L824.07 813.14L825.46 811.74L826.85 811.74L830.33 813.84L831.72 813.84L832.41 813.14L833.11 811.74M824.07 813.14L825.46 812.44L826.85 812.44L830.33 813.84M833.11 811.74L833.11 813.84L832.41 815.93L829.63 819.42L828.94 820.82L828.25 822.91L828.25 826.40M832.41 815.93L828.94 819.42L828.25 820.82L827.55 822.91L827.55 826.40M840.75 811.74L838.67 812.44L837.97 813.84L837.97 815.93L838.67 817.33L840.75 818.02L843.53 818.02L845.62 817.33L846.31 815.93L846.31 813.84L845.62 812.44L843.53 811.74L840.75 811.74M840.75 811.74L839.37 812.44L838.67 813.84L838.67 815.93L839.37 817.33L840.75 818.02M843.53 818.02L844.92 817.33L845.62 815.93L845.62 813.84L844.92 812.44L843.53 811.74M840.75 818.02L838.67 818.72L837.97 819.42L837.28 820.82L837.28 823.61L837.97 825.00L838.67 825.70L840.75 826.40L843.53 826.40L845.62 825.70L846.31 825.00L847.01 823.61L847.01 820.82L846.31 819.42L845.62 818.72L843.53 818.02M840.75 818.02L839.37 818.72L838.67 819.42L837.97 820.82L837.97 823.61L838.67 825.00L839.37 825.70L840.75 826.40M843.53 826.40L844.92 825.70L845.62 825.00L846.31 823.61L846.31 820.82L845.62 819.42L844.92 818.72L843.53 818.02M860.21 816.63L859.52 818.72L858.13 820.12L856.04 820.82L855.35 820.82L853.26 820.12L851.88 818.72L851.18 816.63L851.18 815.93L851.88 813.84L853.26 812.44L855.35 811.74L856.74 811.74L858.82 812.44L860.21 813.84L860.91 815.93L860.91 820.12L860.21 822.91L859.52 824.31L858.13 825.70L856.04 826.40L853.96 826.40L852.57 825.70L851.88 824.31L851.88 823.61L852.57 822.91L853.26 823.61L852.57 824.31M855.35 820.82L853.96 820.12L852.57 818.72L851.88 816.63L851.88 815.93L852.57 813.84L853.96 812.44L855.35 811.74M856.74 811.74L858.13 812.44L859.52 813.84L860.21 815.93L860.21 820.12L859.52 822.91L858.82 824.31L857.43 825.70L856.04 826.40M865.08 811.74L865.08 815.93M865.08 814.53L865.77 813.14L867.16 811.74L868.55 811.74L872.03 813.84L873.42 813.84L874.12 813.14L874.81 811.74M865.77 813.14L867.16 812.44L868.55 812.44L872.03 813.84M874.81 811.74L874.81 813.84L874.12 815.93L871.33 819.42L870.64 820.82L869.94 822.91L869.94 826.40M874.12 815.93L870.64 819.42L869.94 820.82L869.25 822.91L869.25 826.40" fill="none" stroke="#88CCEE" stroke-width="1.22" stroke-linejoin="round" stroke-linecap="butt"/>
<path d="M369.65 92.28L368.38 92.70L367.52 93.55L367.10 94.40L366.67 96.10L366.67 97.38L367.10 99.08L367.52 99.92L368.38 100.78L369.65 101.20L370.50 101.20L371.77 100.78L372.62 99.92L373.05 99.08L373.47 97.38L373.47 96.10L373.05 94.40L372.62 93.55L371.77 92.70L370.50 92.28L369.65 92.28M369.65 92.28L368.80 92.70L367.95 93.55L367.52 94.40L367.10 96.10L367.10 97.38L367.52 99.08L367.95 99.92L368.80 100.78L369.65 101.20M370.50 101.20L371.35 100.78L372.20 99.92L372.62 99.08L373.05 97.38L373.05 96.10L372.62 94.40L372.20 93.55L371.35 92.70L370.50 92.28M383.67 92.28L383.67 101.20M384.10 92.28L384.10 101.20M382.40 92.28L385.38 92.28M382.40 101.20L385.38 101.20" fill="none" stroke="#117733" stroke-width="1.30" stroke-linejoin="round" stroke-linecap="butt"/>
<path d="M641.08 92.28L641.08 101.20M641.50 92.28L641.50 101.20M644.05 94.83L644.05 98.23M639.80 92.28L646.60 92.28L646.60 94.83L646.18 92.28M641.50 96.53L644.05 96.53M639.80 101.20L642.78 101.20M649.15 97.80L654.25 97.80L654.25 96.95L653.83 96.10L653.40 95.67L652.55 95.25L651.28 95.25L650.00 95.67L649.15 96.53L648.73 97.80L648.73 98.65L649.15 99.92L650.00 100.78L651.28 101.20L652.12 101.20L653.40 100.78L654.25 99.92M653.83 97.80L653.83 96.53L653.40 95.67M651.28 95.25L650.43 95.67L649.58 96.53L649.15 97.80L649.15 98.65L649.58 99.92L650.43 100.78L651.28 101.20M664.45 92.28L664.45 101.20M664.88 92.28L664.88 101.20M663.18 92.28L666.15 92.28M663.18 101.20L666.15 101.20M669.12 92.28L669.12 101.20M669.55 92.28L669.55 101.20M667.85 92.28L670.83 92.28M667.85 101.20L670.83 101.20" fill="none" stroke="#117733" stroke-width="1.30" stroke-linejoin="round" stroke-linecap="butt"/>
<path d="M401.5 86.5V122.2M674.95 86.5V122.2" stroke="#117733" stroke-width="1.9" stroke-linecap="butt" fill="none"/>
</svg>
</body></html>
